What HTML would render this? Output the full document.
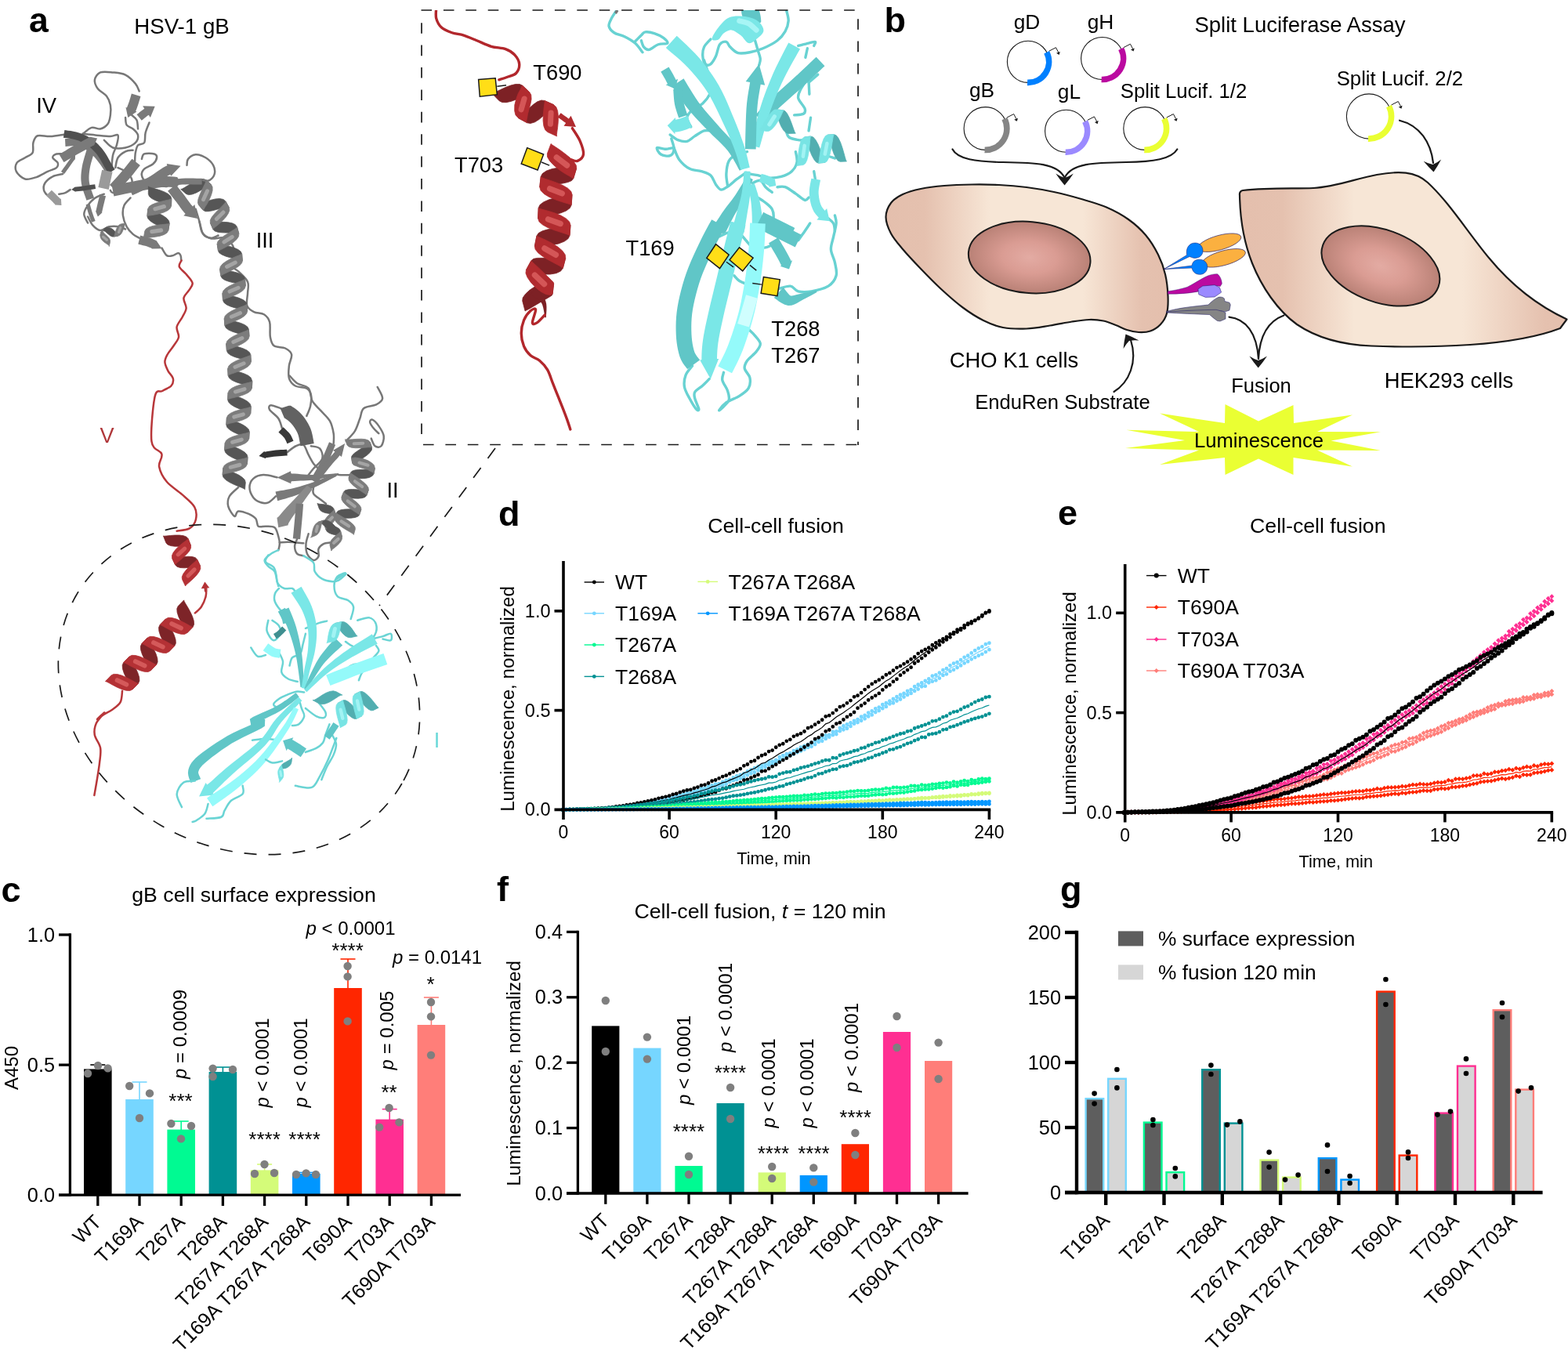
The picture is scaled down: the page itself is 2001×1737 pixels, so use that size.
<!DOCTYPE html>
<html lang="en">
<head>
<meta charset="utf-8">
<title>HSV-1 gB figure</title>
<style>
html,body{margin:0;padding:0;background:#fff;}
body{width:2001px;height:1737px;overflow:hidden;}
svg{display:block;}
svg text{font-family:"Liberation Sans", Arial, Helvetica, sans-serif;fill:#000;}
</style>
</head>
<body>
<svg width="2001" height="1737" viewBox="0 0 2001 1737">
<rect width="2001" height="1737" fill="#fff"/>
<g id="panel-a">
<text x="37" y="40.8" font-size="44.5" font-weight="bold">a</text>
<text x="232" y="42.6" font-size="27.7" text-anchor="middle">HSV-1 gB</text>
<path d="M254.44 282.83C255.1 285.23 255.9 293.63 258.44 297.23C260.97 300.83 265.11 303.37 269.64 304.44C274.18 305.5 281.12 302.17 285.65 303.64C290.19 305.1 294.72 309.5 296.86 313.24C298.99 316.98 298.72 321.78 298.46 326.05C298.19 330.31 294.19 335.38 295.26 338.85C296.32 342.32 301.39 343.39 304.86 346.86C308.33 350.32 314.2 355.13 316.07 359.66C317.93 364.2 316.2 369 316.07 374.07C315.93 379.14 313.93 386.07 315.26 390.08C316.6 394.08 320.47 396.21 324.07 398.08C327.67 399.95 333.54 399.15 336.88 401.28C340.21 403.42 342.74 406.08 344.08 410.89C345.41 415.69 343.95 425.03 344.88 430.1C345.81 435.17 346.48 438.9 349.68 441.3C352.88 443.7 360.35 442.64 364.09 444.5C367.82 446.37 371.29 448.77 372.09 452.51C372.89 456.24 369.42 461.84 368.89 466.91C368.36 471.98 367.56 478.65 368.89 482.92C370.22 487.19 373.16 490.39 376.89 492.53C380.63 494.66 387.97 493.86 391.3 495.73C394.64 497.6 396.1 500 396.9 503.73C397.7 507.47 397.04 513.6 396.1 518.14C395.17 522.67 392.1 528.81 391.3 530.94" fill="none" stroke="#777777" stroke-width="2.5" stroke-linecap="round" stroke-linejoin="round"/>
<path d="M230.73 241.46L232.19 241.25L235.21 239.61L239.49 236.92L244.61 233.76L250.07 230.88L255.32 228.93L259.65 228.41L262.88 229.66L269.55 235.69L267.98 235.75L264.98 237.45L260.69 240.11L255.57 243.26L250.13 246.14L244.9 248.1L240.5 248.61L237.46 247.41ZM253.46 261.43L254.95 261.41L258 259.56L262.7 257.68L268.52 255.42L274.8 253.96L280.3 253.48L284.99 254.48L287.9 256.89L292.29 264.73L290.73 263.98L287.36 264.26L282.52 265.74L276.92 267.24L271.37 268.77L265.94 269.7L262.21 269.8L259.34 268.23ZM268.42 284.41L269.81 284.56L273.28 284.09L278.45 283.51L284.47 283.34L290.79 283.66L296.41 284.85L300.35 286.71L302.45 289.59L304.83 298.26L303.5 297.36L300.06 297.2L295.07 297.07L289.2 297.05L283.05 296.82L277.8 296.16L273.96 294.85L271.94 292.68ZM277.17 311.39L278.53 311.73L282.01 312.2L286.98 313.15L292.96 314.41L298.9 316.24L303.94 318.54L307.33 321.15L308.61 323.93L309.37 332.89L308.12 332.22L304.77 331.4L299.84 330.29L294.06 328.87L288.3 327.17L283.21 325.03L279.83 322.76L278.5 320.28ZM280.58 343.36L281.85 344.14L285.25 344.72L290.31 345.4L296.31 346.44L302.36 348.03L307.47 350.11L311.07 352.81L312.55 355.88L313.32 364.84L312.13 363.85L308.84 362.92L303.85 362.03L298.02 360.84L292.13 359.36L287.02 357.49L283.44 355.13L281.87 352.26ZM283.92 374.26L285.12 375.14L288.44 376.04L293.38 377.13L299.24 378.53L305.1 380.33L310.15 382.58L313.59 385.23L314.96 388.19L315.63 397.16L314.42 396.29L311.08 395.44L306.12 394.38L300.26 392.99L294.37 391.18L289.33 388.9L285.88 386.22L284.53 383.23ZM286.25 406.5L287.46 407.38L290.78 408.25L295.74 409.3L301.6 410.67L307.49 412.46L312.54 414.69L315.99 417.34L317.36 420.29L318.06 429.25L316.84 428.4L313.51 427.54L308.55 426.5L302.69 425.13L296.8 423.34L291.75 421.1L288.29 418.44L286.92 415.47ZM288.72 438.64L289.93 439.51L293.26 440.36L298.24 441.4L304.09 442.8L310 444.65L315.02 446.94L318.48 449.69L319.82 452.73L320.33 461.71L319.15 460.77L315.86 459.8L310.91 458.7L305.09 457.27L299.21 455.44L294.19 453.21L290.76 450.58L289.39 447.6ZM290.74 470.4L291.93 471.28L295.23 472.25L300.16 473.43L305.99 474.97L311.82 476.95L316.78 479.35L320.13 482.05L321.82 486.44L321.42 495.42L320.66 493.14L317.34 492.22L312.41 491.02L306.61 489.46L300.79 487.49L295.82 485.12L292.44 482.36L291.17 479.37ZM291.1 501.14L292.2 502.15L295.4 503.42L300.19 505.07L305.83 507.17L311.46 509.69L316.18 512.56L319.28 515.66L320.25 518.78L319.77 527.76L318.68 526.74L315.5 525.42L310.72 523.75L305.09 521.65L299.47 519.13L294.75 516.29L291.65 513.24L290.66 510.12ZM289.38 533.09L290.46 534.1L293.64 535.42L298.4 537.16L304.01 539.34L309.59 541.95L314.27 544.88L317.32 548.01L318.25 551.15L317.64 560.11L316.57 559.08L313.4 557.74L308.64 556L303.04 553.81L297.47 551.21L292.78 548.28L289.74 545.18L288.8 542.06ZM287.24 565.2L288.32 566.22L291.49 567.55L296.25 569.3L301.86 571.5L307.44 574.13L312.11 577.09L315.15 580.26L316.06 583.4L315.39 592.37L314.32 591.33L311.17 589.94L306.42 588.18L300.84 585.96L295.28 583.35L290.6 580.41L287.56 577.3L286.63 574.17ZM284.88 597.02L285.93 598.06L289.08 599.45L293.8 601.31L299.35 603.63L304.86 606.37L309.47 609.42L312.44 612.61L313.29 615.76L312.48 624.71L311.42 623.66L308.28 622.25L303.57 620.39L298.02 618.07L292.51 615.33L287.9 612.29L284.93 609.11L284.08 605.97Z" fill="#565656" stroke="#565656" stroke-width="0.8" stroke-linejoin="round"/>
<path d="M262.88 229.66L262.83 231.15L261.69 234.36L259.41 238.88L256.93 244.17L254.49 249.82L252.84 254.7L252.49 259.05L253.46 261.43L259.34 268.23L260.13 267.1L261.72 264.05L264.54 259.69L267.27 254.34L269.69 248.5L271.1 243.16L271.07 238.59L269.55 235.69ZM287.9 256.89L287.7 258.56L285.33 261.07L281.87 264.64L277.64 268.73L273.38 273.17L270.07 277.4L268.26 281.14L268.42 284.41L271.94 292.68L272.61 291.35L275.31 289.17L279.32 285.94L283.76 281.88L288.08 277.28L291.31 272.48L292.84 268.4L292.29 264.73ZM302.45 289.59L301.75 291.03L298.88 292.93L294.62 295.58L289.54 298.65L284.52 301.95L280.29 305.48L277.72 308.63L277.17 311.39L278.5 320.28L279.69 319.56L282.88 318.11L287.36 315.74L292.71 312.8L297.89 309.27L302.07 305.41L304.5 301.78L304.83 298.26ZM308.61 323.93L307.43 324.74L304.31 326.19L299.52 328.01L293.96 330.5L288.52 333.51L284.05 336.83L281.26 340.19L280.58 343.36L281.87 352.26L282.87 351.17L285.92 349.58L290.5 347.45L295.88 344.87L301.2 341.99L305.63 339.01L308.56 335.78L309.37 332.89ZM312.55 355.88L311.49 356.94L308.39 358.4L303.68 360.23L298.09 362.46L292.55 365.08L287.89 368.01L284.85 371.14L283.92 374.26L284.53 383.23L285.61 382.21L288.78 380.86L293.55 379.13L299.17 376.92L304.73 374.27L309.41 371.25L312.45 368L313.32 364.84ZM314.96 388.19L313.89 389.23L310.73 390.6L305.99 392.37L300.4 394.6L294.84 397.25L290.18 400.22L287.16 403.36L286.25 406.5L286.92 415.47L287.99 414.43L291.15 413.07L295.89 411.29L301.48 409.06L307.04 406.41L311.7 403.45L314.72 400.3L315.63 397.16ZM317.36 420.29L316.3 421.34L313.14 422.7L308.39 424.49L302.81 426.74L297.27 429.4L292.62 432.39L289.61 435.52L288.72 438.64L289.39 447.6L290.47 446.59L293.63 445.23L298.37 443.44L303.95 441.19L309.5 438.52L314.15 435.54L317.15 432.4L318.06 429.25ZM319.82 452.73L318.73 453.76L315.57 455.09L310.78 456.77L305.16 458.88L299.56 461.39L294.83 464.24L291.73 467.28L290.74 470.4L291.17 479.37L292.26 478.36L295.47 477.11L300.26 475.45L305.91 473.36L311.54 470.83L316.26 467.96L319.36 464.84L320.33 461.71ZM321.82 486.44L320.64 487.45L317.3 488.32L312.38 489.52L306.57 491.07L300.74 493.03L295.77 495.4L292.38 498.14L291.1 501.14L290.66 510.12L291.86 509.23L295.16 508.27L300.09 507.09L305.92 505.56L311.76 503.59L316.73 501.19L320.06 498.54L321.42 495.42ZM320.25 518.78L319.07 519.7L315.77 520.66L310.83 521.79L305.01 523.26L299.15 525.12L294.13 527.42L290.72 530.1L289.38 533.09L288.8 542.06L290 541.18L293.33 540.28L298.27 539.17L304.13 537.73L310.01 535.85L315.02 533.53L318.44 530.79L319.77 527.76ZM318.25 551.15L317.05 552.02L313.73 552.92L308.78 554.01L302.93 555.42L297.05 557.26L292.02 559.54L288.58 562.21L287.24 565.2L286.63 574.17L287.84 573.29L291.16 572.39L296.11 571.3L301.96 569.89L307.83 568.05L312.86 565.78L316.3 563.1L317.64 560.11ZM316.06 583.4L314.85 584.32L311.54 585.22L306.58 586.24L300.73 587.57L294.84 589.29L289.77 591.47L286.28 594.06L284.88 597.02L284.08 605.97L285.3 605.12L288.65 604.31L293.62 603.32L299.51 602.02L305.44 600.27L310.5 598.06L313.99 595.38L315.39 592.37Z" fill="#7c7c7c" stroke="#7c7c7c" stroke-width="0.8" stroke-linejoin="round"/>
<path d="M264.55 243.69L259.51 254.76M284.98 270.96L276.35 279.55M296.25 302.42L285.94 308.84M300.36 335L289.51 340.48M304.2 367.25L293.05 372.1M306.51 399.39L295.37 404.27M308.95 431.51L297.82 436.42M311.16 463.8L299.91 468.42M312.07 496.56L300.42 500.06M310.42 528.82L298.71 532.15M308.3 561.03L296.58 564.28M306.01 593.26L294.23 596.31" fill="none" stroke="#c4c4c4" stroke-width="4.93" stroke-linecap="round" opacity="0.55"/>
<path d="M177.69 116.42C176.88 114.82 175.82 110.29 172.88 106.82C169.95 103.35 164.88 98.01 160.08 95.61C155.27 93.21 149.41 92.94 144.07 92.41C138.73 91.88 131.93 90.81 128.06 92.41C124.19 94.01 121.39 98.55 120.86 102.02C120.32 105.48 122.33 109.75 124.86 113.22C127.39 116.69 133.4 119.36 136.07 122.83C138.73 126.29 140.07 130.03 140.87 134.03C141.67 138.03 141.4 142.83 140.87 146.84C140.33 150.84 139.8 155.11 137.67 158.04C135.53 160.98 131.53 163.64 128.06 164.45C124.59 165.25 120.59 161.78 116.86 162.84C113.12 163.91 107.52 169.51 105.65 170.85" fill="none" stroke="#777777" stroke-width="2.5" stroke-linecap="round" stroke-linejoin="round"/>
<path d="M81.64 171.65C78.7 172.05 69.63 173.78 64.03 174.05C58.43 174.32 51.62 171.92 48.02 173.25C44.42 174.58 43.49 178.45 42.42 182.05C41.35 185.66 43.35 191.66 41.62 194.86C39.89 198.06 35.35 199.13 32.02 201.26C28.68 203.4 23.48 204.73 21.61 207.67C19.74 210.6 19.08 215.4 20.81 218.87C22.54 222.34 27.75 227.28 32.02 228.48C36.28 229.68 41.62 227.68 46.42 226.07C51.22 224.47 56.56 220.87 60.83 218.87C65.1 216.87 69.9 215.94 72.03 214.07C74.17 212.2 74.44 209.8 73.64 207.67C72.83 205.53 67.5 203.13 67.23 201.26C66.97 199.4 69.1 197.26 72.03 196.46C74.97 195.66 80.84 196.46 84.84 196.46C88.84 196.46 94.18 196.46 96.05 196.46" fill="none" stroke="#777777" stroke-width="2.5" stroke-linecap="round" stroke-linejoin="round"/>
<path d="M80.04 222.07C77.9 222.61 70.97 223.41 67.23 225.27C63.5 227.14 59.5 230.34 57.63 233.28C55.76 236.21 55.23 239.95 56.03 242.88C56.83 245.82 60.03 249.02 62.43 250.89C64.83 252.75 69.1 253.55 70.43 254.09" fill="none" stroke="#777777" stroke-width="2.5" stroke-linecap="round" stroke-linejoin="round"/>
<path d="M89.64 242.08C88.58 242.75 85.64 245.15 83.24 246.08C80.84 247.02 76.57 247.42 75.24 247.69" fill="none" stroke="#777777" stroke-width="2.5" stroke-linecap="round" stroke-linejoin="round"/>
<path d="M238.51 210.87C238.78 209.53 238.25 205.13 240.12 202.86C241.98 200.6 245.98 197.53 249.72 197.26C253.45 196.99 258.79 199 262.53 201.26C266.26 203.53 270.26 207.4 272.13 210.87C274 214.34 274.53 218.87 273.73 222.07C272.93 225.27 269.73 228.74 267.33 230.08C264.93 231.41 260.66 230.08 259.32 230.08" fill="none" stroke="#777777" stroke-width="2.5" stroke-linecap="round" stroke-linejoin="round"/>
<path d="M132.86 178.85C134.73 180.45 139.53 186.86 144.07 188.46C148.6 190.06 155.27 189.52 160.08 188.46C164.88 187.39 170.22 184.72 172.88 182.05C175.55 179.39 176.62 175.38 176.08 172.45C175.55 169.51 172.08 166.58 169.68 164.45C167.28 162.31 163.28 162.04 161.68 159.64C160.08 157.24 160.34 151.64 160.08 150.04" fill="none" stroke="#777777" stroke-width="2.5" stroke-linecap="round" stroke-linejoin="round"/>
<path d="M176.08 164.45C175.82 162.58 175.82 156.17 174.48 153.24C173.15 150.31 169.15 147.9 168.08 146.84" fill="none" stroke="#777777" stroke-width="2.5" stroke-linecap="round" stroke-linejoin="round"/>
<path d="M190.49 156.44C189.69 158.58 186.76 164.98 185.69 169.25C184.62 173.52 185.69 179.39 184.09 182.05C182.49 184.72 177.95 183.12 176.08 185.26C174.22 187.39 173.55 191.39 172.88 194.86C172.22 198.33 172.22 204.2 172.08 206.07" fill="none" stroke="#777777" stroke-width="2.5" stroke-linecap="round" stroke-linejoin="round"/>
<path d="M180.89 202.86C181.42 201.8 181.42 197.53 184.09 196.46C186.76 195.39 194.23 195.66 196.89 196.46C199.56 197.26 200.36 199.13 200.1 201.26C199.83 203.4 197.96 206.87 195.29 209.27C192.63 211.67 186.49 213.27 184.09 215.67C181.69 218.07 180.35 220.74 180.89 223.67C181.42 226.61 184.62 231.14 187.29 233.28C189.96 235.41 192.63 235.68 196.89 236.48C201.16 237.28 210.23 237.81 212.9 238.08" fill="none" stroke="#777777" stroke-width="2.5" stroke-linecap="round" stroke-linejoin="round"/>
<path d="M147.27 214.07C147.8 211.93 148.34 204.73 150.47 201.26C152.61 197.79 156.88 194.86 160.08 193.26C163.28 191.66 168.08 191.93 169.68 191.66" fill="none" stroke="#777777" stroke-width="2.5" stroke-linecap="round" stroke-linejoin="round"/>
<path d="M140.87 242.88C141.4 243.42 141.4 245.82 144.07 246.08C146.74 246.35 153.14 245.82 156.88 244.48C160.61 243.15 164.61 240.75 166.48 238.08C168.35 235.41 169.15 231.68 168.08 228.48C167.01 225.27 163.01 221.27 160.08 218.87C157.14 216.47 152.07 214.87 150.47 214.07" fill="none" stroke="#777777" stroke-width="2.5" stroke-linecap="round" stroke-linejoin="round"/>
<path d="M105.65 170.85C108.32 171.12 115.79 171.92 121.66 172.45C127.53 172.98 136.07 174.05 140.87 174.05C145.67 174.05 149.14 170.58 150.47 172.45C151.81 174.32 149.94 180.99 148.87 185.26C147.8 189.52 145.14 193.26 144.07 198.06C143 202.86 142.74 211.4 142.47 214.07" fill="none" stroke="#777777" stroke-width="2.5" stroke-linecap="round" stroke-linejoin="round"/>
<path d="M112.05 276.5C113.12 278.37 115.79 284.77 118.46 287.7C121.12 290.64 124.59 293.84 128.06 294.11C131.53 294.37 135.26 290.11 139.27 289.31C143.27 288.5 148.6 288.77 152.07 289.31C155.54 289.84 158.74 291.97 160.08 292.51" fill="none" stroke="#777777" stroke-width="2.5" stroke-linecap="round" stroke-linejoin="round"/>
<path d="M166.48 252.49C165.15 254.09 160.08 258.36 158.48 262.09C156.88 265.83 156.34 270.36 156.88 274.9C157.41 279.43 159.54 285.3 161.68 289.31C163.81 293.31 167.01 296.51 169.68 298.91C172.35 301.31 176.35 302.91 177.69 303.71" fill="none" stroke="#777777" stroke-width="2.5" stroke-linecap="round" stroke-linejoin="round"/>
<path d="M206.5 316.52C207.57 318.12 210.5 324.52 212.9 326.12C215.3 327.72 218.5 326.66 220.91 326.12C223.31 325.59 225.71 322.92 227.31 322.92C228.91 322.92 229.84 324.52 230.51 326.12C231.18 327.72 231.18 331.46 231.31 332.53" fill="none" stroke="#777777" stroke-width="2.5" stroke-linecap="round" stroke-linejoin="round"/>
<path d="M249.72 266.89C250.52 269.56 252.92 277.57 254.52 282.9C256.12 288.24 256.92 295.44 259.32 298.91C261.73 302.38 265.73 303.45 268.93 303.71C272.13 303.98 276.93 301.04 278.53 300.51" fill="none" stroke="#777777" stroke-width="2.5" stroke-linecap="round" stroke-linejoin="round"/>
<path d="M132.86 247.69C131 248.49 125.13 250.09 121.66 252.49C118.19 254.89 114.45 258.62 112.05 262.09C109.65 265.56 107.25 269.56 107.25 273.3C107.25 277.03 111.25 282.64 112.05 284.5" fill="none" stroke="#777777" stroke-width="2.5" stroke-linecap="round" stroke-linejoin="round"/>
<path d="M167.89 119.48L167.47 120.86L166.93 122.71L166.29 124.88L165.57 127.24L164.79 129.65L163.99 131.97L163.03 134.52L161.91 137.38L160.47 136.79L163.28 150.04L174.55 142.54L173.12 141.95L174.33 138.88L175.38 136.09L176.28 133.48L177.12 130.86L177.88 128.37L178.54 126.14L179.08 124.3L179.48 122.97Z" fill="#7a7a7a"/>
<path d="M180.79 153.81L181.63 153.12L182.74 152.19L184.04 151.11L185.47 149.94L186.99 148.75L188.54 147.6L189.72 146.77L191.88 150.04L197.69 135.63L182.16 135.37L184.32 138.64L182.84 139.67L181.07 140.99L179.38 142.31L177.84 143.56L176.49 144.69L175.39 145.6L174.58 146.27Z" fill="#7a7a7a"/>
<path d="M83.49 186.93L85.71 186.81L88.71 186.57L92.08 186.33L95.54 186.22L98.71 186.35L101.26 186.79L103.5 187.57L105.86 188.68L108.24 190.08L110.62 191.71L112.99 193.51L115.28 195.37L117.45 197.32L119.57 199.49L121.66 201.84L123.68 204.28L125.59 206.71L127.35 208.98L128.94 211.19L130.45 213.53L131.87 215.87L133.14 218.05L134.23 219.95L135.07 221.36L143.47 216.38L142.67 215.04L141.6 213.17L140.26 210.87L138.72 208.33L137 205.69L135.18 203.15L133.29 200.7L131.26 198.13L129.06 195.48L126.71 192.84L124.22 190.28L121.63 187.95L119.03 185.83L116.33 183.78L113.47 181.83L110.42 180.05L107.18 178.52L103.64 177.32L99.71 176.64L95.6 176.46L91.6 176.58L87.97 176.83L85.03 177.07L82.99 177.18Z" fill="#7a7a7a"/>
<path d="M80.91 175.68L82.89 175.98L85.6 176.34L88.7 176.78L91.95 177.31L95.06 177.95L97.77 178.7L100.3 179.61L102.87 180.66L105.39 181.83L107.83 183.11L110.17 184.51L112.39 186.01L114.52 187.65L116.58 189.44L118.58 191.39L120.53 193.45L122.4 195.61L124.17 197.81L125.85 200.15L127.5 202.78L129.12 205.57L130.66 208.37L132.12 211.01L133.45 213.33L134.61 215.27L135.61 216.94L136.48 218.38L137.21 219.6L137.81 220.61L138.28 221.38L146.65 216.36L146.19 215.58L145.59 214.58L144.85 213.36L143.99 211.91L142.99 210.25L141.88 208.4L140.64 206.24L139.21 203.65L137.61 200.76L135.86 197.73L133.96 194.72L131.95 191.91L129.9 189.35L127.77 186.9L125.53 184.53L123.18 182.25L120.71 180.1L118.12 178.1L115.41 176.27L112.6 174.59L109.72 173.08L106.77 171.71L103.79 170.49L100.72 169.4L97.34 168.45L93.73 167.71L90.18 167.12L86.93 166.66L84.26 166.31L82.37 166.02Z" fill="#505050"/>
<path d="M81.43 207.1L83.37 205.95L86.06 204.34L89.24 202.45L92.62 200.44L95.95 198.48L98.96 196.74L101.72 195.18L104.48 193.64L107.21 192.15L109.87 190.7L112.43 189.32L114.84 188.01L117.2 186.73L119.55 185.47L119.74 185.38L119.99 185.86L124.06 176.45L113.99 174.55L114.24 175.03L114.04 175.14L111.65 176.41L109.27 177.7L106.85 179.01L104.28 180.4L101.59 181.86L98.82 183.39L95.99 184.96L93.14 186.57L90.05 188.36L86.66 190.35L83.25 192.38L80.06 194.28L77.37 195.88L75.44 197.03Z" fill="#7a7a7a"/>
<path d="M82.1 221.95L82.98 220.73L84.18 219.04L85.61 217.05L87.14 214.89L88.68 212.74L90.11 210.74L91.53 208.75L93.07 206.59L94.61 204.44L95.32 203.44L95.86 203.83L96.05 198.06L90.65 200.11L91.19 200.49L90.48 201.49L88.94 203.64L87.4 205.79L85.98 207.79L84.55 209.79L83.01 211.94L81.47 214.09L80.05 216.09L78.84 217.78L77.97 219Z" fill="#7a7a7a"/>
<path d="M110.38 191.84L109.73 194.09L108.76 197.25L107.63 201.05L106.47 205.17L105.42 209.33L104.65 213.19L104.13 216.65L103.71 220.01L103.43 223.39L103.33 226.82L103.45 230.35L103.83 234.05L104.64 238.09L105.83 242.34L107.2 246.52L108.55 250.34L109.69 253.5L110.45 255.73L120.06 252.45L119.26 250.11L118.11 246.93L116.81 243.25L115.55 239.39L114.51 235.7L113.87 232.5L113.58 229.65L113.49 226.81L113.57 223.96L113.81 221.05L114.19 218.04L114.65 214.95L115.33 211.57L116.28 207.79L117.38 203.88L118.49 200.18L119.46 197L120.13 194.68Z" fill="#7a7a7a"/>
<path d="M130.18 216.64L125.38 239.05L138.75 241.91L143.55 219.5Z" fill="#9a9a9a"/>
<path d="M168.5 202.72L167.03 204.56L165.02 207.09L162.65 210.07L160.08 213.27L157.48 216.44L155.04 219.35L152.49 222.27L149.64 225.45L146.72 228.65L143.98 231.63L141.65 234.16L139.97 236L149.77 244.96L151.43 243.14L153.76 240.62L156.52 237.61L159.49 234.35L162.43 231.07L165.12 228L167.71 224.91L170.39 221.63L173.02 218.37L175.41 215.35L177.42 212.83L178.87 211.01Z" fill="#7a7a7a"/>
<path d="M121.21 235.19L119.45 235.46L117 235.84L114.11 236.29L111.03 236.75L108 237.2L105.27 237.58L102.64 237.9L99.87 238.22L97.14 238.52L95.71 238.67L95.69 238.4L91.24 242.08L96.35 244.77L96.33 244.5L97.76 244.35L100.52 244.05L103.34 243.72L106.03 243.39L108.83 243L111.89 242.55L115 242.08L117.9 241.63L120.35 241.25L122.1 240.98Z" fill="#505050"/>
<path d="M127.48 248.33L127.13 249.7L126.65 251.58L126.08 253.83L125.46 256.28L124.84 258.79L124.26 261.2L123.68 263.7L123.06 266.46L122.45 269.26L122.41 269.41L121.93 269.3L124.86 276.5L130.53 271.18L130.04 271.08L130.08 270.93L130.69 268.16L131.3 265.43L131.86 262.99L132.43 260.64L133.04 258.18L133.65 255.75L134.22 253.51L134.7 251.62L135.05 250.25Z" fill="#7a7a7a"/>
<path d="M109.61 261.17L109.95 262.38L110.41 264.07L110.96 266.08L111.57 268.25L112.21 270.43L112.84 272.47L113.52 274.52L114.29 276.7L115.07 278.87L115.81 280.87L116.43 282.56L116.87 283.77L121.64 282.03L121.2 280.81L120.57 279.12L119.84 277.13L119.07 274.99L118.32 272.87L117.67 270.92L117.07 268.97L116.45 266.85L115.85 264.71L115.3 262.72L114.84 261.04L114.5 259.81Z" fill="#7a7a7a"/>
<path d="M58.98 249.54L60.06 250.62L61.59 252.15L63.38 253.94L65.26 255.82L67.06 257.61L68.58 259.14L69.91 260.47L70.46 261.02L69.95 261.53L78.44 262.09L77.87 253.6L77.36 254.11L76.81 253.56L75.49 252.24L73.96 250.71L72.17 248.92L70.28 247.03L68.49 245.24L66.96 243.71L65.88 242.63Z" fill="#9a9a9a"/>
<path d="M128.58 296.89L130 295.13L132.13 294.57L134.32 295.39L136.56 297.5L138.74 299.32L140.87 300.93L143.24 302L145.22 302.04L151.07 300.92L150.41 300.36L149.2 299.03L147.71 296.75L145.53 294.08L143.04 292.07L139.59 290.42L135.58 290.34L132.17 292.14Z" fill="#565656" stroke="#565656" stroke-width="0.8" stroke-linejoin="round"/>
<path d="M139.29 314.52L139.06 313.5L137.78 312.22L135.59 310.8L132.95 309L130.39 306.65L128.47 303.7L127.73 300.3L128.58 296.89L132.17 292.14L131.12 293.78L131.42 295.69L132.81 297.64L134.87 299.59L137.12 301.6L139.1 303.78L140.4 306.27L140.53 308.7ZM145.22 302.04L145.89 301.36L146.34 299.62L146.98 297.09L147.89 294.16L149.08 291.18L150.54 288.65L152.34 286.79L154.33 285.9L160.2 284.91L159.6 285.63L158.97 287.3L158.3 289.8L157.38 292.71L156.2 295.67L154.76 298.21L153.11 299.98L151.07 300.92Z" fill="#7c7c7c" stroke="#7c7c7c" stroke-width="0.8" stroke-linejoin="round"/>
<path d="M136.36 306.2L131.6 302.14M151.59 296.38L153.69 290.49" fill="none" stroke="#c4c4c4" stroke-width="3.27" stroke-linecap="round" opacity="0.55"/>
<path d="M145.43 250.38L148.92 249.67L153.74 248.68L159.44 247.51L165.56 246.27L171.67 245.07L177.35 244L182.8 242.98L188.38 241.91L193.89 240.89L199.2 239.98L204.16 239.27L208.57 238.82L212.66 238.68L216.75 238.81L220.69 239.12L224.31 239.5L225.03 239.58L225.07 239.15L230.51 233.28L226.4 226.41L226.44 225.98L225.8 225.91L221.92 225.5L217.48 225.16L212.64 225.01L207.63 225.18L202.48 225.7L197.08 226.48L191.49 227.43L185.85 228.48L180.26 229.54L174.82 230.56L169.08 231.65L162.89 232.87L156.71 234.11L150.99 235.29L146.18 236.28L142.7 236.99Z" fill="#7a7a7a"/>
<path d="M208.67 238.74L211.29 238.35L214.87 237.79L219.08 237.14L223.61 236.5L228.15 235.95L232.36 235.58L236.68 235.4L241.48 235.35L246.37 235.38L250.95 235.46L254.85 235.55L257.67 235.58L257.78 227.77L254.99 227.74L251.1 227.65L246.47 227.57L241.47 227.53L236.49 227.59L231.86 227.78L227.33 228.18L222.59 228.75L217.93 229.41L213.67 230.07L210.1 230.63L207.53 231.02Z" fill="#7a7a7a"/>
<path d="M168.98 249.2L171.78 247.93L175.7 246.19L180.39 244.09L185.42 241.78L190.42 239.37L195.03 236.97L199.29 234.45L203.41 231.75L207.33 229.06L211 226.54L214.35 224.34L217.31 222.63L217.36 222.58L218.12 224.8L230.51 211.67L212.67 208.9L213.43 211.13L211.7 211.91L208 214.04L204.25 216.48L200.47 219.09L196.66 221.7L192.88 224.18L189.16 226.38L185 228.54L180.27 230.82L175.38 233.07L170.77 235.13L166.83 236.88L163.98 238.17Z" fill="#7a7a7a"/>
<path d="M214.07 243.77L215.31 245.36L217.04 247.56L219.07 250.17L221.24 252.95L223.35 255.67L225.22 258.1L226.82 260.25L228.34 262.37L229.88 264.52L231.48 266.72L233.21 268.97L235.12 271.27L236.64 272.92L234.28 275.32L252.12 278.9L248.35 261.09L245.99 263.49L245.11 262.52L243.58 260.68L242.11 258.77L240.65 256.76L239.14 254.64L237.54 252.4L235.8 250.08L233.86 247.55L231.72 244.8L229.54 242L227.5 239.39L225.78 237.18L224.54 235.6Z" fill="#7a7a7a"/>
<path d="M176.29 311.6L177.9 312.01L180.08 312.54L182.59 313.15L185.23 313.85L187.79 314.61L190.04 315.39L192.31 316.37L193.95 317.15L193.79 317.45L206.5 317.32L199.35 306.81L199.19 307.11L197.01 306.06L194.14 304.84L191.26 303.83L188.29 302.94L185.39 302.18L182.76 301.53L180.61 301.01L179.08 300.62Z" fill="#7a7a7a"/>
<path d="M189.43 237.99L190.51 238.8L193.68 239.79L198.45 241.06L204.09 242.73L209.74 244.88L214.49 247.42L217.69 250.36L218.79 253.5L218.52 262.92L217.47 261.99L214.34 260.93L209.57 259.64L203.98 257.94L198.37 255.82L193.6 253.31L190.41 250.44L189.31 247.41ZM188.88 266.41L190.03 267.02L193.08 268.34L197.75 270.1L203.1 272.51L208.44 275.42L212.79 278.59L215.55 281.93L216.19 285.04L214.72 294.35L213.74 293.43L210.78 291.96L206.24 290.02L200.99 287.57L195.7 284.72L191.38 281.75L188.57 278.57L187.88 275.78Z" fill="#565656" stroke="#565656" stroke-width="0.8" stroke-linejoin="round"/>
<path d="M218.79 253.5L217.65 254.22L214.51 255.2L209.69 256.23L204.1 257.64L198.53 259.27L193.57 261.36L190.31 263.57L188.88 266.41L187.88 275.78L189.08 275.15L192.46 274.83L197.32 273.99L203.2 272.82L209.07 270.99L213.94 268.7L217.32 265.86L218.52 262.92ZM216.19 285.04L214.97 285.68L211.67 286.08L206.77 286.56L200.95 287.26L195.04 288.39L189.91 290.08L186.28 292.35L184.71 295.1L183.2 304.41L184.42 303.84L187.72 303.42L192.62 302.96L198.45 302.26L204.36 301.13L209.51 299.42L213.11 297.17L214.72 294.35Z" fill="#7c7c7c" stroke="#7c7c7c" stroke-width="0.8" stroke-linejoin="round"/>
<path d="M209.38 263.61L197.92 266.63M205.57 293.84L193.83 295.67" fill="none" stroke="#c4c4c4" stroke-width="5.17" stroke-linecap="round" opacity="0.55"/>
<path d="M304.03 622.07C302.16 623.94 294.96 629.28 292.83 633.28C290.69 637.28 290.16 641.82 291.22 646.08C292.29 650.35 297.09 657.82 299.23 658.89C301.36 659.96 301.1 653.02 304.03 652.49C306.97 651.95 313.1 654.09 316.84 655.69C320.57 657.29 324.31 659.42 326.44 662.09C328.58 664.76 327.51 670.1 329.64 671.7C331.78 673.3 335.78 671.43 339.25 671.7C342.72 671.96 347.79 671.16 350.45 673.3C353.12 675.43 354.19 681.03 355.26 684.5C356.32 687.97 356.86 691.17 356.86 694.11C356.86 697.04 355.52 700.78 355.26 702.11" fill="none" stroke="#777777" stroke-width="2.5" stroke-linecap="round" stroke-linejoin="round"/>
<path d="M369.66 479.6C371.26 481.21 375.26 486.54 379.27 489.21C383.27 491.88 390.47 491.88 393.67 495.61C396.88 499.35 395.81 506.82 398.48 511.62C401.14 516.42 405.95 520.16 409.68 524.43C413.42 528.69 418.22 532.43 420.89 537.23C423.55 542.03 424.89 548.44 425.69 553.24C426.49 558.04 425.69 563.91 425.69 566.05" fill="none" stroke="#777777" stroke-width="2.5" stroke-linecap="round" stroke-linejoin="round"/>
<path d="M481.72 494.01C482.78 496.41 488.39 504.68 488.12 508.42C487.85 512.15 484.12 514.29 480.12 516.42C476.11 518.56 467.58 518.29 464.11 521.22C460.64 524.16 461.17 529.23 459.31 534.03C457.44 538.83 455.84 545.24 452.9 550.04C449.97 554.84 443.56 560.71 441.7 562.84" fill="none" stroke="#777777" stroke-width="2.5" stroke-linecap="round" stroke-linejoin="round"/>
<path d="M473.71 559.64C474.51 561.24 476.38 567.65 478.51 569.25C480.65 570.85 484.65 571.38 486.52 569.25C488.39 567.11 490.25 560.71 489.72 556.44C489.19 552.17 485.72 547.1 483.32 543.64C480.92 540.17 477.18 536.43 475.31 535.63C473.45 534.83 471.84 536.97 472.11 538.83C472.38 540.7 475.05 544.44 476.91 546.84C478.78 549.24 482.25 552.17 483.32 553.24" fill="none" stroke="#777777" stroke-width="2.5" stroke-linecap="round" stroke-linejoin="round"/>
<path d="M353.65 609.27C350.72 608.73 341.12 605.8 336.05 606.07C330.98 606.33 326.17 608.2 323.24 610.87C320.31 613.54 318.44 618.07 318.44 622.07C318.44 626.07 320.84 631.68 323.24 634.88C325.64 638.08 329.64 640.22 332.84 641.28C336.05 642.35 339.25 642.62 342.45 641.28C345.65 639.95 350.45 634.61 352.05 633.28" fill="none" stroke="#777777" stroke-width="2.5" stroke-linecap="round" stroke-linejoin="round"/>
<path d="M358.46 521.22C356.32 520.56 348.05 516.96 345.65 517.22C343.25 517.49 342.45 520.02 344.05 522.83C345.65 525.63 352.59 530.03 355.26 534.03C357.92 538.03 359.26 544.7 360.06 546.84" fill="none" stroke="#777777" stroke-width="2.5" stroke-linecap="round" stroke-linejoin="round"/>
<path d="M366.46 577.25C368.33 575.92 374.2 570.85 377.67 569.25C381.13 567.65 384.6 565.78 387.27 567.65C389.94 569.51 391.54 576.45 393.67 580.45C395.81 584.45 397.94 588.72 400.08 591.66C402.21 594.59 405.41 596.99 406.48 598.06" fill="none" stroke="#777777" stroke-width="2.5" stroke-linecap="round" stroke-linejoin="round"/>
<path d="M396.88 569.25C398.74 569.78 405.68 569.78 408.08 572.45C410.48 575.12 412.62 580.99 411.28 585.26C409.95 589.52 403.01 594.59 400.08 598.06C397.14 601.53 394.74 604.73 393.67 606.07" fill="none" stroke="#777777" stroke-width="2.5" stroke-linecap="round" stroke-linejoin="round"/>
<path d="M379.27 687.7C378.73 689.31 376.07 694.11 376.07 697.31C376.07 700.51 377.4 704.91 379.27 706.91C381.13 708.91 385.94 708.91 387.27 709.31" fill="none" stroke="#777777" stroke-width="2.5" stroke-linecap="round" stroke-linejoin="round"/>
<path d="M393.67 681.3C393.14 683.44 390.74 689.84 390.47 694.11C390.21 698.38 390.47 703.45 392.07 706.91C393.67 710.38 397.68 714.38 400.08 714.92C402.48 715.45 405.41 712.52 406.48 710.12C407.55 707.71 405.41 703.18 406.48 700.51C407.55 697.84 410.48 695.44 412.88 694.11C415.28 692.77 419.55 692.77 420.89 692.51" fill="none" stroke="#777777" stroke-width="2.5" stroke-linecap="round" stroke-linejoin="round"/>
<path d="M356.86 692.51C358.72 692.37 362.99 691.57 368.06 691.71C373.13 691.84 384.07 693.04 387.27 693.31" fill="none" stroke="#777777" stroke-width="2.5" stroke-linecap="round" stroke-linejoin="round"/>
<path d="M400.08 622.07C400.08 623.41 398.48 627.41 400.08 630.08C401.68 632.74 407.01 635.95 409.68 638.08C412.35 640.22 415.02 642.08 416.08 642.88" fill="none" stroke="#777777" stroke-width="2.5" stroke-linecap="round" stroke-linejoin="round"/>
<path d="M432.09 606.07C434.76 606.07 441.43 606.6 448.1 606.07C454.77 605.53 468.11 603.4 472.11 602.86" fill="none" stroke="#777777" stroke-width="2.5" stroke-linecap="round" stroke-linejoin="round"/>
<path d="M400.71 566L400.35 564.16L399.9 561.48L399.3 558.13L398.53 554.4L397.53 550.52L396.24 546.79L394.7 543.4L393.01 540.24L391.17 537.2L389.22 534.3L387.18 531.58L385.04 529L382.69 526.53L380.2 524.3L377.73 522.33L375.37 520.62L373.19 519.13L371.12 517.77L370.01 517.18L370.02 517.16L357.66 521.22L362.75 533.2L362.76 533.19L361.8 532.68L363.42 533.74L365.26 534.99L367.09 536.32L368.85 537.72L370.45 539.15L371.89 540.67L373.36 542.44L374.89 544.49L376.37 546.67L377.74 548.93L378.94 551.2L379.91 553.29L380.69 555.56L381.41 558.36L382.04 561.46L382.59 564.5L383.05 567.25L383.44 569.29Z" fill="#626262"/>
<path d="M366.22 573.67L364.33 573.79L361.71 573.93L358.56 574.11L355.14 574.34L351.67 574.62L348.37 574.98L345.02 575.45L341.43 576.05L337.84 576.69L337.59 576.74L337.42 575.86L330.44 582.05L339.2 585.3L339.03 584.42L339.25 584.37L342.76 583.74L346.21 583.17L349.33 582.73L352.4 582.4L355.72 582.13L359.05 581.91L362.14 581.73L364.78 581.59L366.7 581.47Z" fill="#333333"/>
<path d="M355.43 551.62L356.38 552.52L357.69 553.73L359.18 555.12L360.68 556.57L362 557.95L362.95 559.08L363.64 560.13L364.32 561.39L364.95 562.75L365.53 564.08L366.03 565.31L366.45 566.24L374.47 562.65L374.11 561.84L373.62 560.66L372.97 559.14L372.16 557.42L371.17 555.61L369.98 553.81L368.53 552.08L366.91 550.38L365.24 548.76L363.67 547.29L362.37 546.1L361.48 545.25Z" fill="#3a3a3a"/>
<path d="M431.93 604.06L428.32 604.33L423.26 604.72L417.3 605.17L411.03 605.6L405.02 605.93L399.84 606.08L395.48 606.02L391.42 605.82L387.55 605.53L383.77 605.19L379.95 604.86L376.06 604.59L371.92 604.38L371.17 603.26L371.14 601.31L353.65 609.59L371.38 617.32L371.35 615.37L372.03 614.23L376.07 613.94L379.81 613.73L383.54 613.6L387.39 613.47L391.42 613.28L395.71 612.97L400.31 612.45L405.62 611.64L411.65 610.56L417.87 609.36L423.74 608.18L428.71 607.17L432.25 606.46Z" fill="#7a7a7a"/>
<path d="M428.14 604.41L424.87 605.68L420.31 607.48L414.93 609.59L409.23 611.79L403.67 613.89L398.75 615.67L394.41 617.16L390.27 618.55L386.28 619.82L382.39 621L378.53 622.08L374.69 623.07L370.58 624L366.16 624.86L361.73 625.65L357.6 626.35L354.08 626.93L351.51 627.38L354.2 639.18L356.66 638.48L360.08 637.54L364.19 636.4L368.65 635.11L373.18 633.72L377.44 632.28L381.4 630.8L385.28 629.26L389.16 627.63L393.11 625.9L397.16 624.05L401.4 622.07L406.2 619.75L411.56 617.06L417.04 614.25L422.18 611.59L426.53 609.33L429.64 607.72Z" fill="#7a7a7a"/>
<path d="M403.86 616.3L405.27 613.91L407.23 610.63L409.57 606.69L412.08 602.37L414.56 597.93L416.81 593.62L418.96 589.12L421.18 584.18L423.33 579.17L425.29 574.51L426.94 570.57L428.13 567.77L420.04 564.33L418.84 567.16L417.19 571.1L415.24 575.73L413.13 580.64L410.98 585.44L408.95 589.69L406.83 593.75L404.44 598.02L401.99 602.24L399.68 606.13L397.71 609.42L396.29 611.84Z" fill="#7a7a7a"/>
<path d="M404.76 616.47L406.75 613.92L409.56 610.3L412.86 606.07L416.31 601.66L419.57 597.53L422.31 594.13L424.51 591.51L426.47 589.28L428.28 587.28L430.02 585.38L431.75 583.43L433.52 581.32L433.62 581.19L435.94 582.93L440.1 566.05L425.05 574.77L427.37 576.51L427.46 576.39L425.83 578.32L424.21 580.15L422.5 582.03L420.64 584.08L418.58 586.43L416.27 589.18L413.46 592.66L410.17 596.83L406.7 601.26L403.4 605.5L400.59 609.12L398.6 611.67Z" fill="#7a7a7a"/>
<path d="M392.06 619.45L390.37 621.26L388.04 623.77L385.27 626.75L382.28 629.95L379.3 633.16L376.54 636.13L373.93 638.9L371.27 641.71L368.59 644.54L365.93 647.37L363.33 650.21L360.85 653.02L358.38 655.96L355.91 659.01L353.81 660.69L353.4 660.4L355.26 673.3L367.94 670.33L367.53 670.04L368.24 667.66L370.18 664.51L372.08 661.56L374.02 658.69L376.13 655.7L378.34 652.64L380.63 649.51L382.93 646.37L385.2 643.24L387.57 639.93L390.12 636.37L392.67 632.81L395.04 629.5L397.04 626.72L398.49 624.7Z" fill="#8a8a8a"/>
<path d="M377.8 642.5L377.63 644.52L377.41 647.25L377.15 650.5L376.85 654.11L376.53 657.9L376.2 661.68L375.82 665.86L375.37 670.67L374.9 675.66L374.45 680.38L374.07 684.4L373.8 687.26L383.13 688.15L383.4 685.29L383.78 681.27L384.23 676.54L384.7 671.54L385.15 666.72L385.54 662.51L385.87 658.7L386.19 654.89L386.49 651.27L386.75 648L386.98 645.28L387.14 643.27Z" fill="#7a7a7a"/>
<path d="M472.17 564.16L471.58 565.53L468.88 567.35L464.78 569.87L460.13 572.91L455.31 576.16L451.49 578.99L448.98 582.04L448.53 583.81L449.7 591.16L451.03 591L453.86 589.4L458.43 587.4L463.33 584.48L468.27 581L472.07 577.53L474.33 574.3L474.55 571.21ZM478.34 597.58L477.11 598.16L473.98 599.11L469.15 599.11L463.65 599.28L457.83 599.48L452.94 599.96L449.21 601.27L447.49 603.12L445.02 610.14L446.32 610L449.58 610.09L454.5 610.65L460.22 610.79L466.31 610.42L471.38 609.46L475.37 607.18L476.94 604.89ZM470.29 625.15L468.99 625.74L465.73 625.59L460.97 625.27L455.34 624.78L449.53 624.5L444.45 624.76L440.65 625.85L438.7 627.78L435.93 634.69L437.25 634.39L440.5 634.67L445.31 635.36L450.99 635.96L456.89 636.19L462.18 635.65L465.93 634.41L467.91 632.2ZM460.87 650.09L459.58 650.33L456.32 650.29L451.48 649.97L445.77 649.82L439.91 650.03L434.82 650.79L431.1 652.29L429.34 654.43L427.28 661.58L428.56 661.12L431.81 661.03L436.62 661.21L442.3 661.31L448.12 661.13L453.15 660.48L456.85 659.1L458.56 657.17Z" fill="#565656" stroke="#565656" stroke-width="0.8" stroke-linejoin="round"/>
<path d="M440.46 560.69L441.72 561.11L444.98 561.11L449.76 560.77L455.46 560.33L461.3 560.23L466.44 560.71L470.3 562.1L472.17 564.16L474.55 571.21L473.25 570.81L469.99 570.77L465.19 571.22L459.5 571.64L453.68 571.75L448.46 571.2L444.64 569.82L442.82 567.75ZM448.53 583.81L449.75 584.42L453.33 583.92L458.08 584.76L464.26 585.85L469.71 587.85L474.69 591.1L477.5 593.87L478.34 597.58L476.94 604.89L476.41 602.99L473.43 601.7L469.39 599.5L463.94 597.85L458.92 596.39L454.1 594.56L451.2 593.5L449.7 591.16ZM447.49 603.12L448.25 604.24L450.92 606.11L454.92 608.79L459.56 612.05L464.12 615.54L467.86 619.09L470.05 622.38L470.29 625.15L467.91 632.2L467.11 631.09L464.44 629.2L460.38 626.58L455.6 623.38L450.99 619.77L447.33 616.15L445.2 612.91L445.02 610.14ZM438.7 627.78L439.39 628.97L441.94 631L445.79 633.85L450.31 637.2L454.84 640.84L458.46 644.28L460.62 647.58L460.87 650.09L458.56 657.17L457.61 656.27L454.97 654.36L450.81 651.78L446.16 648.47L441.59 644.73L438.01 640.91L436 637.52L435.93 634.69ZM429.34 654.43L430.15 655.55L432.9 657.3L437.06 659.73L441.96 662.67L446.76 665.95L450.67 669.32L453.02 672.52L453.37 675.27L451.33 682.43L450.5 681.36L447.76 679.59L443.6 677.17L438.69 674.23L433.89 670.95L429.98 667.56L427.63 664.39L427.28 661.58Z" fill="#7c7c7c" stroke="#7c7c7c" stroke-width="0.8" stroke-linejoin="round"/>
<path d="M451.72 566.26L463.25 565.72M458.5 590.57L469.55 593.68M452.95 614.28L462.25 621.06M443.69 639.29L452.83 646.31M435.47 665.34L445.18 671.56" fill="none" stroke="#c4c4c4" stroke-width="4.08" stroke-linecap="round" opacity="0.55"/>
<path d="M404.95 642.23L405.87 642.88L408.01 643.25L411.12 643.52L414.84 643.92L418.67 644.65L422.12 645.87L424.76 647.65L426.28 649.98L428.64 657.04L427.72 656.35L425.59 655.95L422.47 655.68L418.78 655.26L414.96 654.53L411.52 653.32L408.87 651.56L407.37 649.27ZM413.86 668.6L414.74 669.29L416.88 669.73L419.97 670.22L423.66 670.89L427.42 671.91L430.78 673.4L433.26 675.35L434.57 677.75L436.43 684.95L435.56 684.25L433.45 683.73L430.38 683.19L426.72 682.5L422.99 681.48L419.64 680.03L417.19 678.15L415.84 675.78Z" fill="#565656" stroke="#565656" stroke-width="0.8" stroke-linejoin="round"/>
<path d="M426.28 649.98L425.93 651.05L424.5 652.67L422.24 654.78L419.51 657.32L416.93 660.13L414.85 663.12L413.76 665.97L413.86 668.6L415.84 675.78L416.3 674.8L417.93 673.34L420.29 671.29L423.11 668.77L425.74 665.9L427.8 662.81L428.84 659.76L428.64 657.04ZM434.57 677.75L434.16 678.81L432.56 680.28L430.12 682.23L427.25 684.62L424.47 687.34L422.25 690.25L421.03 693.16L421.04 695.89L422.89 703.1L423.31 702.07L424.9 700.58L427.34 698.63L430.21 696.25L433 693.53L435.21 690.62L436.44 687.71L436.43 684.95Z" fill="#7c7c7c" stroke="#7c7c7c" stroke-width="0.8" stroke-linejoin="round"/>
<path d="M423.99 660.34L418.61 665.71M431.56 687.88L425.91 692.99" fill="none" stroke="#c4c4c4" stroke-width="4.08" stroke-linecap="round" opacity="0.55"/>
<path d="M406.13 666.36L407.6 666.33L409.42 667.3L411.55 669.06L413.97 671.25L416.59 673.39L419.43 675.19L422.35 676.22L425.29 676.24L432.1 674.88L430.78 674.62L429.21 673.32L427.27 671.29L424.91 668.82L422.13 666.52L419.05 664.75L415.82 663.88L412.72 664.16Z" fill="#565656" stroke="#565656" stroke-width="0.8" stroke-linejoin="round"/>
<path d="M396.45 686.09L397.36 685.13L397.97 683.18L398.45 680.41L399.07 677.12L400.02 673.69L401.48 670.52L403.52 667.98L406.13 666.36L412.72 664.16L411.58 665.05L410.77 666.94L410.12 669.64L409.43 672.85L408.49 676.2L407.14 679.29L405.26 681.79L402.86 683.4Z" fill="#7c7c7c" stroke="#7c7c7c" stroke-width="0.8" stroke-linejoin="round"/>
<path d="M403.47 678.3L405.07 671.67" fill="none" stroke="#c4c4c4" stroke-width="3.81" stroke-linecap="round" opacity="0.55"/>
<path d="M231.54 332.45C231.09 333.78 227.81 337.52 228.82 340.45C229.84 343.39 234.83 346.59 237.63 350.06C240.43 353.53 245.1 357.79 245.63 361.26C246.17 364.73 242.7 367.67 240.83 370.87C238.96 374.07 234.96 376.74 234.43 380.47C233.89 384.21 237.89 389.28 237.63 393.28C237.36 397.28 234.83 400.48 232.83 404.48C230.82 408.49 226.42 413.02 225.62 417.29C224.82 421.56 228.69 426.09 228.02 430.1C227.36 434.1 224.02 437.57 221.62 441.3C219.22 445.04 215.48 449.04 213.62 452.51C211.75 455.98 210.28 458.64 210.41 462.11C210.55 465.58 212.68 469.85 214.42 473.32C216.15 476.79 220.15 479.72 220.82 482.92C221.49 486.12 220.69 489.86 218.42 492.53C216.15 495.19 210.68 496.66 207.21 498.93C203.74 501.2 199.91 495.42 197.61 506.13C195.31 516.85 191.97 551.02 193.42 563.22C194.88 575.43 204.71 573.97 206.32 579.34C207.93 584.72 202.02 589.55 203.09 595.46C204.17 601.37 207.93 608.89 212.77 614.8C217.6 620.71 226.2 625.55 232.11 630.92C238.02 636.29 245.27 641.67 248.23 647.04C251.18 652.41 250.91 658.59 249.84 663.16C248.76 667.73 245.81 672.02 241.78 674.44C237.75 676.86 228.35 677.13 225.66 677.67" fill="none" stroke="#b8373a" stroke-width="2.5" stroke-linecap="round" stroke-linejoin="round"/>
<path d="M208.44 683.93L209.72 684.22L212.9 683.95L217.61 683.47L223.23 683.07L228.98 683.06L234.1 683.7L237.96 685.19L240 687.49L243.49 696.24L242.22 696.02L239.04 696.28L234.32 696.83L228.69 697.26L222.91 697.25L217.75 696.57L213.92 695.07L211.86 692.72ZM219.72 712.39L221.01 712.63L224.16 712.26L228.82 711.44L234.37 710.66L240.14 710.23L245.3 710.49L249.26 711.7L251.49 713.89L255.57 722.39L254.28 722.2L251.13 722.69L246.46 723.57L240.89 724.4L235.09 724.82L229.89 724.5L225.87 723.2L223.66 720.95Z" fill="#7d2428" stroke="#7d2428" stroke-width="0.8" stroke-linejoin="round"/>
<path d="M240 687.49L239.2 688.51L236.72 690.52L232.88 693.37L228.54 696.97L224.33 701.06L221.1 705.3L219.46 709.1L219.72 712.39L223.66 720.95L224.22 719.72L226.63 717.63L230.21 714.61L234.42 710.99L238.59 706.98L241.83 703.03L243.6 699.29L243.49 696.24ZM251.49 713.89L250.85 715.03L248.48 717.18L244.9 720.28L240.76 724.1L236.81 728.31L233.77 732.53L232.24 736.36L232.55 739.5L236.63 748L237.28 746.85L239.64 744.7L243.23 741.61L247.37 737.79L251.32 733.58L254.35 729.35L255.89 725.52L255.57 722.39Z" fill="#b43135" stroke="#b43135" stroke-width="0.8" stroke-linejoin="round"/>
<path d="M235.73 700.18L227.27 707.83M248.11 726.93L240.02 734.96" fill="none" stroke="#ee7a78" stroke-width="5.17" stroke-linecap="round" opacity="0.55"/>
<path d="M264.24 755.03L264.17 754.54L264.07 753.89L263.96 753.13L263.84 752.26L263.72 751.31L263.64 750.62L267.31 750.32L261.38 742.45L256.78 751.17L260.45 750.88L260.54 751.68L260.67 752.68L260.79 753.58L260.91 754.36L261 755L261.07 755.48Z" fill="#b43135"/>
<path d="M263.3 750.45C263.16 752.32 263.56 757.66 262.5 761.66C261.43 765.66 259.16 771 256.89 774.46C254.63 777.93 250.22 781.13 248.89 782.47" fill="none" stroke="#b8373a" stroke-width="2.5" stroke-linecap="round" stroke-linejoin="round"/>
<path d="M234.7 765.89L235 767.33L236.79 770.48L239.57 775.08L242.69 780.66L245.47 786.59L247.26 792.22L247.56 796.89L246.12 800.15L238.67 807.85L238.37 806.41L236.58 803.26L233.8 798.66L230.68 793.09L227.9 787.15L226.11 781.53L225.81 776.85L227.25 773.6ZM211.49 789.9L211.79 791.34L213.58 794.49L216.35 799.09L219.48 804.67L222.26 810.61L224.05 816.23L224.35 820.91L222.91 824.16L215.46 831.86L215.16 830.42L213.37 827.27L210.59 822.68L207.47 817.1L204.69 811.16L202.9 805.54L202.59 800.86L204.04 797.61ZM188.28 813.91L188.58 815.36L190.36 818.5L193.14 823.1L196.27 828.68L199.05 834.62L200.84 840.24L201.14 844.92L199.69 848.17L192.24 855.88L191.95 854.43L190.16 851.29L187.38 846.69L184.25 841.11L181.47 835.17L179.69 829.55L179.38 824.87L180.83 821.62ZM165.07 837.92L165.37 839.37L167.15 842.51L169.93 847.11L173.06 852.69L175.84 858.63L177.63 864.25L177.93 868.93L176.48 872.18L169.03 879.89L168.73 878.44L166.95 875.3L164.17 870.7L161.04 865.12L158.26 859.18L156.48 853.56L156.17 848.88L157.62 845.63Z" fill="#7d2428" stroke="#7d2428" stroke-width="0.8" stroke-linejoin="round"/>
<path d="M246.12 800.15L244.66 799.9L241.46 798.22L236.77 795.6L231.09 792.66L225.06 790.08L219.38 788.49L214.69 788.34L211.49 789.9L204.04 797.61L205.5 797.86L208.7 799.53L213.39 802.15L219.07 805.09L225.1 807.67L230.78 809.27L235.47 809.41L238.67 807.85ZM222.91 824.16L221.45 823.91L218.25 822.23L213.56 819.61L207.88 816.67L201.85 814.1L196.17 812.5L191.48 812.35L188.28 813.91L180.83 821.62L182.28 821.87L185.49 823.55L190.18 826.17L195.86 829.1L201.89 831.68L207.57 833.28L212.25 833.42L215.46 831.86ZM199.69 848.17L198.24 847.92L195.04 846.24L190.35 843.62L184.66 840.68L178.64 838.11L172.96 836.51L168.27 836.37L165.07 837.92L157.62 845.63L159.07 845.88L162.28 847.56L166.97 850.18L172.65 853.11L178.68 855.69L184.36 857.29L189.04 857.43L192.24 855.88ZM176.48 872.18L175.03 871.93L171.82 870.25L167.14 867.63L161.45 864.7L155.42 862.12L149.75 860.52L145.06 860.38L141.86 861.93L134.41 869.64L135.86 869.89L139.07 871.57L143.76 874.19L149.44 877.13L155.47 879.7L161.15 881.3L165.83 881.44L169.03 879.89Z" fill="#b43135" stroke="#b43135" stroke-width="0.8" stroke-linejoin="round"/>
<path d="M230.93 801.63L219.22 796.12M207.72 825.64L196.01 820.13M184.51 849.66L172.8 844.14M161.3 873.67L149.59 868.15" fill="none" stroke="#ee7a78" stroke-width="5.88" stroke-linecap="round" opacity="0.55"/>
<path d="M156.05 881.72C155.65 884.12 155.78 892.12 153.64 896.12C151.51 900.12 146.84 903.06 143.24 905.73C139.64 908.4 135.24 910.08 132.03 912.13C128.83 914.18 123.81 918.5 124.03 918.05C124.25 917.61 133.55 908.61 133.35 909.45C133.15 910.29 124.95 918.37 122.85 923.09C120.76 927.81 119.88 932.54 120.76 937.78C121.63 943.03 127.05 948.63 128.1 954.58C129.15 960.52 127.75 966.82 127.05 973.47C126.35 980.11 125.02 987.53 123.9 994.46C122.78 1001.39 120.93 1011.6 120.34 1015.03" fill="none" stroke="#b8373a" stroke-width="2.5" stroke-linecap="round" stroke-linejoin="round"/>
<path d="M355.26 702.11C353.65 702.91 348.59 704.78 345.65 706.91C342.72 709.05 338.18 712.25 337.65 714.92C337.11 717.59 340.31 720.52 342.45 722.92C344.58 725.32 348.59 726.12 350.45 729.32C352.32 732.53 352.85 739.01 353.65 742.13C354.45 745.25 354.99 747.07 355.26 748.05" fill="none" stroke="#6ad4d4" stroke-width="2.5" stroke-linecap="round" stroke-linejoin="round"/>
<path d="M387.27 709.31C389.41 710.78 397.68 714.78 400.08 718.12C402.48 721.45 399.81 725.86 401.68 729.32C403.55 732.79 407.55 736.79 411.28 738.93C415.02 741.06 420.62 741.86 424.09 742.13C427.56 742.4 429.16 742.13 432.09 740.53C435.03 738.93 440.1 733.86 441.7 732.53" fill="none" stroke="#6ad4d4" stroke-width="2.5" stroke-linecap="round" stroke-linejoin="round"/>
<path d="M342.34 708.5C341.78 709.91 337.81 714.44 338.95 716.99C340.08 719.54 346.88 720.96 349.14 723.79C351.41 726.62 351.69 730.59 352.54 733.98C353.39 737.38 352.54 741.35 354.24 744.18C355.94 747.01 359.62 749.84 362.74 750.98C365.85 752.11 370.67 750.41 372.93 750.98C375.2 751.54 375.76 753.81 376.33 754.38" fill="none" stroke="#6ad4d4" stroke-width="2.5" stroke-linecap="round" stroke-linejoin="round"/>
<path d="M355.94 750.98C355.09 752.11 351.69 754.94 350.84 757.77C349.99 760.61 349.43 764.29 350.84 767.97C352.26 771.65 356.51 777.88 359.34 779.86C362.17 781.85 366.42 779.86 367.83 779.86" fill="none" stroke="#6ad4d4" stroke-width="2.5" stroke-linecap="round" stroke-linejoin="round"/>
<path d="M429.01 739.08C430.99 737.81 440.62 732 440.9 731.44C441.18 730.87 433.11 732.99 430.71 735.68C428.3 738.37 426.46 743.33 426.46 747.58C426.46 751.83 427.73 758.06 430.71 761.17C433.68 764.29 440.9 764 444.3 766.27C447.7 768.54 450.53 770.8 451.1 774.77C451.66 778.73 448.26 787.51 447.7 790.06" fill="none" stroke="#6ad4d4" stroke-width="2.5" stroke-linecap="round" stroke-linejoin="round"/>
<path d="M342.34 791.76C342.06 794.02 339.51 801.1 340.65 805.35C341.78 809.6 346.31 816.68 349.14 817.25C351.97 817.81 356.51 811.87 357.64 808.75C358.77 805.64 357.64 801.39 355.94 798.56C354.24 795.72 348.86 792.89 347.44 791.76" fill="none" stroke="#6ad4d4" stroke-width="2.5" stroke-linecap="round" stroke-linejoin="round"/>
<path d="M320.25 826.59C321.67 828.43 325.64 836.08 328.75 837.64C331.87 839.2 337.25 836.22 338.95 835.94" fill="none" stroke="#6ad4d4" stroke-width="2.5" stroke-linecap="round" stroke-linejoin="round"/>
<path d="M355.94 832.54C356.79 834.52 360.47 840.19 361.04 844.44C361.6 848.68 358.2 854.35 359.34 858.03C360.47 861.71 364.44 864.54 367.83 866.53C371.23 868.51 377.75 869.36 379.73 869.92" fill="none" stroke="#6ad4d4" stroke-width="2.5" stroke-linecap="round" stroke-linejoin="round"/>
<path d="M389.92 801.95C392.76 800.82 402.38 796.71 406.92 795.16C411.45 793.6 415.41 793.03 417.11 792.61" fill="none" stroke="#6ad4d4" stroke-width="2.5" stroke-linecap="round" stroke-linejoin="round"/>
<path d="M369.53 849.53C370.1 847.83 370.67 841.89 372.93 839.34C375.2 836.79 380.86 837.07 383.13 834.24C385.39 831.41 385.39 826.59 386.53 822.34C387.66 818.1 389.36 811.02 389.92 808.75" fill="none" stroke="#6ad4d4" stroke-width="2.5" stroke-linecap="round" stroke-linejoin="round"/>
<path d="M474.89 815.55C477.15 814.98 484.51 813.28 488.48 812.15C492.44 811.02 496.98 807.9 498.67 808.75C500.37 809.6 500.37 816.11 498.67 817.25C496.98 818.38 490.18 815.83 488.48 815.55" fill="none" stroke="#6ad4d4" stroke-width="2.5" stroke-linecap="round" stroke-linejoin="round"/>
<path d="M456.19 791.76C458.74 791.19 467.52 787.51 471.49 788.36C475.45 789.21 478.85 793.17 479.98 796.86C481.12 800.54 480.55 806.2 478.28 810.45C476.02 814.7 470.64 819.8 466.39 822.34C462.14 824.89 457.04 826.31 452.8 825.74C448.55 825.18 442.88 820.08 440.9 818.95" fill="none" stroke="#6ad4d4" stroke-width="2.5" stroke-linecap="round" stroke-linejoin="round"/>
<path d="M479.98 824.04C480.55 825.18 483.95 828.29 483.38 830.84C482.82 833.39 477.72 837.92 476.58 839.34" fill="none" stroke="#6ad4d4" stroke-width="2.5" stroke-linecap="round" stroke-linejoin="round"/>
<path d="M388.22 883.52C386.53 883.38 381.71 882.1 378.03 882.67C374.35 883.23 369.82 885.36 366.13 886.92C362.45 888.47 358.77 890.03 355.94 892.01C353.11 894 349.43 897.11 349.14 898.81C348.86 900.51 351.69 902.78 354.24 902.21C356.79 901.64 362.74 896.54 364.44 895.41" fill="none" stroke="#6ad4d4" stroke-width="2.5" stroke-linecap="round" stroke-linejoin="round"/>
<path d="M381.43 892.01C381.99 894 383.69 900.23 384.83 903.91C385.96 907.59 388.79 910.71 388.22 914.1C387.66 917.5 383.98 922.32 381.43 924.3C378.88 926.28 374.35 925.72 372.93 926" fill="none" stroke="#6ad4d4" stroke-width="2.5" stroke-linecap="round" stroke-linejoin="round"/>
<path d="M406.92 897.11C408.33 899.09 414.28 905.89 415.41 909.01C416.54 912.12 415.7 914.95 413.71 915.8C411.73 916.65 407.48 916.09 403.52 914.1C399.55 912.12 392.19 905.61 389.92 903.91" fill="none" stroke="#6ad4d4" stroke-width="2.5" stroke-linecap="round" stroke-linejoin="round"/>
<path d="M389.92 959.98C392.19 959.13 399.84 956.87 403.52 954.89C407.2 952.9 410.03 950.92 412.01 948.09C414 945.26 414 941.86 415.41 937.89C416.83 933.93 419.66 926.56 420.51 924.3" fill="none" stroke="#6ad4d4" stroke-width="2.5" stroke-linecap="round" stroke-linejoin="round"/>
<path d="M423.91 937.89C424.76 939.88 428.72 945.54 429.01 949.79C429.29 954.04 427.59 958.57 425.61 963.38C423.63 968.2 419.66 973.38 417.11 978.67C414.56 983.97 411.45 992.41 410.31 995.16" fill="none" stroke="#6ad4d4" stroke-width="2.5" stroke-linecap="round" stroke-linejoin="round"/>
<path d="M321.95 944.69C324.79 944.41 333.28 942.99 338.95 942.99C344.61 942.99 353.11 944.41 355.94 944.69" fill="none" stroke="#6ad4d4" stroke-width="2.5" stroke-linecap="round" stroke-linejoin="round"/>
<path d="M440.9 856.33C442.03 855.2 444.87 850.95 447.7 849.53C450.53 848.12 455.06 847.27 457.89 847.83C460.73 848.4 463.56 852.08 464.69 852.93" fill="none" stroke="#6ad4d4" stroke-width="2.5" stroke-linecap="round" stroke-linejoin="round"/>
<path d="M457.89 868.22C458.46 866.81 459.88 862.28 461.29 859.73C462.71 857.18 465.54 854.06 466.39 852.93" fill="none" stroke="#6ad4d4" stroke-width="2.5" stroke-linecap="round" stroke-linejoin="round"/>
<path d="M356.99 780.79L358.24 783.27L359.96 786.54L361.94 790.37L364.05 794.62L366.09 799.08L367.93 803.63L369.64 808.41L371.38 813.58L373.09 819.03L374.72 824.71L376.24 830.57L377.61 836.57L378.88 843.27L380.06 850.88L381.14 858.72L382.09 866.12L382.88 872.41L383.47 876.92L387.88 876.52L387.65 872L387.37 865.67L387.02 858.18L386.57 850.2L385.99 842.35L385.24 835.31L384.31 828.95L383.23 822.75L382.02 816.74L380.71 810.97L379.35 805.49L377.94 800.28L376.34 795.17L374.52 790.16L372.66 785.5L370.93 781.37L369.49 778L368.48 775.54Z" fill="#60c6c7"/>
<path d="M371.49 756.64L373.18 759.21L375.54 762.68L378.25 766.7L381.01 770.98L383.54 775.2L385.55 779.08L387.19 782.82L388.7 786.68L390.03 790.59L391.17 794.54L392.11 798.54L392.84 802.57L393.35 806.67L393.62 810.9L393.7 815.23L393.6 819.64L393.37 824.1L393.03 828.53L392.52 832.95L391.78 837.49L390.88 842.11L389.92 846.72L388.98 851.25L388.17 855.59L387.47 859.91L386.78 864.28L386.14 868.51L385.57 872.35L385.1 875.57L384.74 877.92L390 878.92L390.54 876.59L391.25 873.41L392.11 869.64L393.06 865.49L394.07 861.22L395.07 857.07L396.17 852.94L397.42 848.57L398.74 844L400.03 839.3L401.19 834.51L402.11 829.76L402.82 825.08L403.43 820.39L403.89 815.65L404.16 810.88L404.21 806.1L404 801.34L403.51 796.64L402.78 792L401.82 787.4L400.65 782.86L399.28 778.37L397.69 773.85L395.65 769.06L393.17 764.08L390.55 759.26L388.07 754.88L385.99 751.28L384.57 748.71Z" fill="#7ae7e7"/>
<path d="M427.61 814.37L425.49 816.89L422.46 820.4L418.86 824.61L415.06 829.18L411.4 833.78L408.25 838.11L405.61 842.23L403.24 846.34L401.1 850.4L399.14 854.34L397.34 858.08L395.65 861.6L394.02 865.08L392.49 868.59L391.09 871.92L389.88 874.92L388.88 877.42L388.13 879.25L391.71 880.98L392.69 879.24L393.99 876.88L395.55 874.08L397.31 871.01L399.2 867.82L401.19 864.65L403.28 861.4L405.5 857.94L407.85 854.4L410.34 850.83L412.98 847.33L415.78 843.96L419.11 840.42L423.06 836.53L427.25 832.61L431.27 828.95L434.72 825.81L437.2 823.53Z" fill="#60c6c7"/>
<path d="M474.78 809.33L471.35 811.47L466.58 814.42L460.9 817.94L454.78 821.81L448.67 825.79L443.06 829.64L437.88 833.37L432.72 837.19L427.61 841.11L422.58 845.13L417.68 849.25L412.96 853.48L408.2 858.14L403.37 863.28L398.71 868.48L394.49 873.32L390.96 877.41L388.38 880.33L391.46 883.3L394.31 880.6L398.2 876.85L402.8 872.43L407.82 867.76L412.94 863.21L417.86 859.18L422.71 855.58L427.76 852.05L432.96 848.61L438.25 845.26L443.61 842L448.94 838.84L454.64 835.64L460.88 832.32L467.2 829.09L473.12 826.12L478.15 823.61L481.79 821.76Z" fill="#7ae7e7"/>
<path d="M489.48 834.1L485.86 835.35L480.88 837.05L474.93 839.09L468.43 841.35L461.76 843.71L455.33 846.05L448.59 848.61L441.12 851.51L433.53 854.49L426.42 857.31L420.42 859.7L416.11 861.4L421.51 875.05L425.83 873.35L431.84 870.96L438.92 868.15L446.47 865.18L453.85 862.31L460.45 859.81L466.73 857.52L473.29 855.2L479.72 852.97L485.63 850.94L490.62 849.23L494.27 847.98Z" fill="#94fafa"/>
<path d="M354.81 780.51L355.41 781.67L356.27 783.3L357.25 785.18L358.24 787.11L359.1 788.89L359.7 790.25L360.08 791.31L360.38 792.39L360.61 793.45L360.81 794.46L360.98 795.42L361.14 796.19L371.13 794.12L370.99 793.49L370.83 792.58L370.59 791.35L370.26 789.87L369.79 788.22L369.17 786.47L368.35 784.59L367.36 782.56L366.31 780.5L365.3 778.57L364.45 776.95L363.87 775.82Z" fill="#60c6c7"/>
<path d="M335.71 830.32L336.8 831.09L338.36 832.23L340.28 833.62L342.4 835.08L344.59 836.46L346.82 837.65L349.11 838.5L351.28 839.04L353.23 839.37L354.88 839.56L356.08 839.68L356.87 839.79L358.41 828.69L357.39 828.54L356.11 828.41L354.82 828.26L353.55 828.06L352.4 827.78L351.46 827.44L350.26 826.79L348.59 825.72L346.74 824.45L344.95 823.16L343.35 821.99L342.18 821.17Z" fill="#94fafa"/>
<path d="M352.72 815.19L353.21 814.88L353.92 814.46L354.85 813.91L355.92 813.22L357.07 812.41L358.26 811.46L359.51 810.33L360.85 809.01L362.21 807.63L363.48 806.32L364.54 805.21L365.29 804.44L360.18 799.46L359.41 800.25L358.34 801.37L357.1 802.65L355.81 803.96L354.6 805.15L353.62 806.04L352.79 806.7L351.93 807.3L351.08 807.84L350.28 808.33L349.54 808.76L348.97 809.11Z" fill="#3f8f90"/>
<path d="M427.34 795.54L428.41 796.17L429.97 798.27L432.08 801.47L434.7 805.22L437.73 808.88L441 811.82L444.3 813.54L447.42 813.71L456.16 811.76L455.09 811.14L453.53 809.04L451.42 805.83L448.8 802.09L445.77 798.43L442.5 795.49L439.2 793.77L436.08 793.6Z" fill="#52aeb0" stroke="#52aeb0" stroke-width="0.8" stroke-linejoin="round"/>
<path d="M416.84 820.5L417.54 819.49L418.06 816.92L418.62 813.12L419.41 808.62L420.61 804.02L422.32 799.97L424.58 797.02L427.34 795.54L436.08 793.6L435.37 794.62L434.85 797.19L434.3 800.98L433.51 805.49L432.31 810.08L430.59 814.13L428.33 817.09L425.58 818.56Z" fill="#78e4e4" stroke="#78e4e4" stroke-width="0.8" stroke-linejoin="round"/>
<path d="M425.46 811.6L427.45 802.5" fill="none" stroke="#c4ffff" stroke-width="4.91" stroke-linecap="round" opacity="0.55"/>
<path d="M398.99 893.51L400.84 893.49L403.63 892.08L407.29 889.68L411.62 886.86L416.32 884.23L421.03 882.41L425.38 881.84L429.07 882.83L436.93 887.11L435.09 887.14L432.3 888.55L428.63 890.95L424.3 893.77L419.6 896.39L414.89 898.22L410.54 898.79L406.85 897.8Z" fill="#52aeb0" stroke="#52aeb0" stroke-width="0.8" stroke-linejoin="round"/>
<path d="M430.88 897.57L431.9 898.26L434.03 900.66L437.11 904.32L440.88 908.55L444.97 912.63L448.92 915.81L452.4 917.51L454.98 917.37L461.98 913.7L461.02 912.94L458.92 910.51L455.88 906.79L452.11 902.54L448 898.45L444 895.29L440.48 893.62L437.83 893.8ZM452.49 886.14L453.49 886.87L455.53 889.35L458.48 893.12L462.11 897.48L466.06 901.7L469.95 905.01L473.38 906.8L476.05 906.71L483.13 903.21L482.13 902.48L480.11 899.99L477.16 896.22L473.53 891.84L469.57 887.63L465.68 884.32L462.23 882.53L459.57 882.63Z" fill="#52aeb0" stroke="#52aeb0" stroke-width="0.8" stroke-linejoin="round"/>
<path d="M434.12 928.68L434.1 927.45L433.24 924.35L431.86 919.77L430.37 914.29L429.2 908.63L428.74 903.54L429.26 899.7L430.88 897.57L437.83 893.8L437.83 895.05L438.7 898.14L440.07 902.72L441.56 908.2L442.73 913.86L443.19 918.95L442.67 922.79L441.07 924.91ZM454.98 917.37L454.89 916.14L454.09 913.04L452.76 908.41L451.42 902.89L450.43 897.18L450.14 892.05L450.79 888.23L452.49 886.14L459.57 882.63L459.51 883.87L460.28 886.99L461.48 891.61L462.78 897.11L463.79 902.8L464.15 907.84L463.56 911.67L461.98 913.7Z" fill="#78e4e4" stroke="#78e4e4" stroke-width="0.8" stroke-linejoin="round"/>
<path d="M437.29 916.82L434.64 905.67M458.28 905.61L455.95 894.39" fill="none" stroke="#c4ffff" stroke-width="4.33" stroke-linecap="round" opacity="0.55"/>
<path d="M377.71 884.21L375.18 886.04L371.81 888.55L367.82 891.48L363.38 894.63L358.7 897.74L354.01 900.57L348.54 903.38L341.89 906.43L334.89 909.51L328.31 912.43L322.88 915.06L318.79 917.72L320.38 926.09L324.92 926.57L329.2 926.35L332.84 926.19L332.4 925.5L331.83 919.45L328.69 921.21L322.58 924.09L314.78 927.55L306.2 931.36L297.69 935.34L290.12 939.31L283.25 943.4L276.36 947.77L269.65 952.26L263.38 956.67L257.8 960.82L253.12 964.55L249.42 967.85L246.48 970.89L244.19 973.83L242.47 976.75L241.25 979.57L240.29 982.71L239.9 986.54L240.42 990.3L241.37 993.46L242.38 996.01L243.13 997.79L243.52 998.91L256.18 994.2L255.56 992.64L254.68 990.73L253.87 988.9L253.29 987.26L253.04 986.12L253.11 985.22L253.49 983.94L254.04 982.47L254.85 980.97L256.17 979.15L258.24 976.85L261.27 973.99L265.43 970.44L270.6 966.32L276.49 961.88L282.81 957.34L289.31 952.91L295.64 948.85L302.61 944.9L310.68 940.79L319.04 936.75L326.82 932.99L333.24 929.69L337.89 926.73L338.29 918.12L332.93 916.84L328.61 917.14L324.71 917.49L323.68 917.72L325.11 924.08L327.17 922.79L332.06 920.23L338.42 917.15L345.36 913.82L352.11 910.45L357.87 907.25L362.84 904.02L367.63 900.6L372.1 897.22L376.06 894.1L379.33 891.49L381.75 889.62Z" fill="#60c6c7"/>
<path d="M380.86 889.68L377.8 892.55L373.48 896.51L368.37 901.24L362.94 906.39L357.65 911.63L352.93 916.66L349.03 921.5L345.74 926.27L342.73 930.94L339.63 935.55L336.05 940.21L331.57 945.08L325.69 950.48L318.62 956.41L310.9 962.56L303.08 968.67L295.68 974.48L289.22 979.74L283.74 984.47L278.84 988.83L274.44 992.83L270.49 996.42L266.93 999.59L264.27 1001.46L262.56 999L254.05 1016.5L273.41 1014.59L271.7 1012.13L275.12 1008.69L278.73 1005.24L282.59 1001.47L286.79 997.36L291.42 992.93L296.54 988.18L302.62 982.85L309.73 976.85L317.35 970.43L324.97 963.9L332.07 957.5L338.16 951.48L342.98 945.85L346.79 940.51L349.92 935.48L352.73 930.75L355.6 926.23L358.95 921.74L363.21 916.87L368.17 911.6L373.33 906.34L378.22 901.47L382.4 897.35L385.39 894.35Z" fill="#7ae7e7"/>
<path d="M375.12 902.46L373.76 905.08L372.04 908.52L369.97 912.61L367.5 917.2L364.6 922.14L361.23 927.32L357.18 933.1L352.46 939.64L347.3 946.56L341.91 953.51L336.49 960.14L331.26 966.11L326.19 971.42L321.11 976.36L315.97 981.03L310.73 985.52L305.36 989.9L299.86 994.24L293.79 998.75L287.03 1003.43L280.1 1008.04L273.59 1012.27L268.03 1015.85L264.02 1018.48L271.36 1029.21L275.22 1026.46L280.61 1022.67L287.03 1018.14L293.91 1013.16L300.73 1008.03L306.89 1003.07L312.42 998.34L317.77 993.6L323.03 988.73L328.22 983.63L333.36 978.23L338.47 972.43L343.68 965.99L349 958.93L354.23 951.62L359.2 944.38L363.72 937.56L367.64 931.47L370.96 925.9L373.81 920.58L376.19 915.71L378.15 911.44L379.71 907.95L380.94 905.35Z" fill="#94fafa"/>
<path d="M391 955.5L389.66 954.59L387.8 953.3L385.55 951.76L383.09 950.1L380.55 948.44L378.09 946.9L375.56 945.44L372.98 944.02L374.37 941.37L361.1 945.13L365.54 958.19L366.93 955.53L369.19 956.77L371.4 958.05L373.55 959.39L375.89 960.92L378.24 962.51L380.43 964.01L382.3 965.31L383.68 966.24Z" fill="#60c6c7"/>
<path d="M425.46 921.96L424.7 923.11L423.63 924.73L422.38 926.63L421.07 928.61L419.81 930.49L418.73 932.06L417.77 933.4L416.79 934.72L415.86 935.95L415.01 937.06L414.28 938L413.74 938.71L420.49 943.87L421.01 943.18L421.73 942.25L422.61 941.11L423.6 939.81L424.64 938.4L425.69 936.93L426.84 935.26L428.13 933.33L429.47 931.32L430.73 929.4L431.79 927.79L432.55 926.64Z" fill="#60c6c7"/>
<path d="M248.8 996.56C246.35 996.91 237.95 995.86 234.11 998.66C230.26 1001.46 226.06 1008.1 225.71 1013.35C225.36 1018.6 230.96 1027.34 232.01 1030.14" fill="none" stroke="#6ad4d4" stroke-width="2.5" stroke-linecap="round" stroke-linejoin="round"/>
<path d="M265.59 1025.94C264.89 1028.04 263.84 1035.04 261.39 1038.54C258.94 1042.04 253.52 1045.19 250.9 1046.94C248.27 1048.68 246.53 1048.68 245.65 1049.03" fill="none" stroke="#6ad4d4" stroke-width="2.5" stroke-linecap="round" stroke-linejoin="round"/>
<path d="M309.67 1002.85C309.67 1004.6 312.12 1010.2 309.67 1013.35C307.22 1016.5 298.83 1018.25 294.98 1021.75C291.13 1025.24 288.68 1030.84 286.58 1034.34C284.48 1037.84 286.23 1040.99 282.38 1042.74C278.54 1044.49 266.64 1044.49 263.49 1044.84" fill="none" stroke="#6ad4d4" stroke-width="2.5" stroke-linecap="round" stroke-linejoin="round"/>
<path d="M376.84 1002.85C380.34 1003.2 392.59 1007.05 397.83 1004.95C403.08 1002.85 404.83 996.21 408.33 990.26C411.83 984.31 415.33 977.32 418.82 969.27C422.32 961.22 427.57 946.53 429.32 941.98" fill="none" stroke="#6ad4d4" stroke-width="2.5" stroke-linecap="round" stroke-linejoin="round"/>
<path d="M339.06 969.27C340.46 969.97 343.96 973.12 347.46 973.47C350.95 973.82 357.95 971.72 360.05 971.37" fill="none" stroke="#6ad4d4" stroke-width="2.5" stroke-linecap="round" stroke-linejoin="round"/>
<path d="M356.19 980.9L357.14 980.78L358.94 981L361.49 980.99L364.71 980.44L367.53 979L369.87 977.07L371.46 974.8L372.01 972.69L372.61 967.14L371.96 967.93L370.69 969.11L368.76 970.34L366.45 971.61L364.46 972.77L362.41 973.79L360.71 974.89L359.42 976.36Z" fill="#52aeb0" stroke="#52aeb0" stroke-width="0.8" stroke-linejoin="round"/>
<path d="M356.37 998.44L356.68 997.36L356.46 995.65L355.93 993.36L355.32 990.67L354.85 987.83L354.74 985.11L355.16 982.74L356.19 980.9L359.42 976.36L359.41 977.32L359.87 978.97L360.6 981.25L361.33 983.97L361.82 986.9L361.86 989.75L361.3 992.25L360.09 994.28Z" fill="#78e4e4" stroke="#78e4e4" stroke-width="0.8" stroke-linejoin="round"/>
<path d="M358.88 990.13L357.72 984.54" fill="none" stroke="#c4ffff" stroke-width="3.06" stroke-linecap="round" opacity="0.55"/>
<ellipse cx="305" cy="880" rx="240" ry="200" transform="rotate(30 305 880)" fill="none" stroke="#1a1a1a" stroke-width="1.7" stroke-dasharray="16 15"/>
<line x1="632" y1="572" x2="484" y2="773" stroke="#1a1a1a" stroke-width="1.7" stroke-dasharray="16 15"/>
<text x="59.2" y="144" font-size="27.4" text-anchor="middle">IV</text>
<text x="338" y="315.6" font-size="27.2" text-anchor="middle">III</text>
<text x="501" y="634.6" font-size="27.2" text-anchor="middle">II</text>
<text x="136.5" y="565" font-size="27.2" text-anchor="middle" style="fill:#B0373A">V</text>
<text x="557.5" y="954" font-size="27.2" text-anchor="middle" style="fill:#6CD9D9">I</text>
</g>
<g id="panel-inset">
<defs><clipPath id="insetClip"><rect x="538" y="13" width="557" height="554.5"/></clipPath></defs>
<g clip-path="url(#insetClip)">
<path d="M556.71 10.01C556.71 12.23 555.6 19.19 556.71 23.36C557.82 27.54 560.05 31.99 563.39 35.05C566.73 38.11 572.01 40.06 576.74 41.73C581.47 43.4 586.48 43.4 591.77 45.07C597.06 46.74 602.62 49.38 608.46 51.74C614.31 54.11 620.71 57.45 626.83 59.26C632.95 61.07 640.18 60.79 645.19 62.6C650.2 64.4 653.96 66.91 656.88 70.11C659.8 73.31 662.44 77.9 662.72 81.79C663 85.69 661.19 90.7 658.55 93.48C655.9 96.26 650.48 97.1 646.86 98.49C643.24 99.88 638.51 101.27 636.84 101.83" fill="none" stroke="#b2272c" stroke-width="3.4" stroke-linecap="round" stroke-linejoin="round"/>
<path d="M628.11 119.42L629.74 119.03L633.31 117.15L638.58 114.53L644.98 111.56L651.66 109.04L657.78 107.47L663.15 107.46L666.49 109.1L675.93 117.95L674.48 118.71L670.94 120.53L665.73 123.62L659.28 126.76L652.46 129.3L645.97 130.71L640.76 130.59L637.12 128.7ZM661.33 150.54L662.85 149.84L665.99 147.48L670.05 143.15L674.97 138.33L680.42 133.5L685.7 129.85L690.75 127.99L694.79 128.44L706.6 133.73L705.26 134.67L702.55 137.61L698.7 142.25L693.79 147.34L688.13 152.3L682.54 155.85L676.87 157.5L672.68 156.74Z" fill="#7d2125" stroke="#7d2125" stroke-width="0.8" stroke-linejoin="round"/>
<path d="M666.49 109.1L665.66 110.57L664.09 114.26L661.1 119.76L658.69 126.41L656.8 134.04L656.68 141.47L657.96 146.69L661.33 150.54L672.68 156.74L671.6 155L672.52 151.12L673.44 145.61L675.09 139.32L677.03 132.3L678.1 126.41L677.72 121.04L675.93 117.95ZM694.79 128.44L695.16 130.06L694.65 134.05L693.88 139.92L693.2 146.96L693.09 154.23L693.87 160.74L695.76 165.69L698.88 168.59L710.68 173.89L710.33 172.24L710.82 168.27L711.65 162.37L712.31 155.34L712.42 148.09L711.62 141.52L709.74 136.59L706.6 133.73Z" fill="#b12b2f" stroke="#b12b2f" stroke-width="0.8" stroke-linejoin="round"/>
<path d="M669.06 126.03L665.12 139.83M703.15 144L702.37 158.3" fill="none" stroke="#f07a78" stroke-width="7.1" stroke-linecap="round" opacity="0.55"/>
<path d="M711.69 149.62L712.99 150.54L714.8 151.84L716.93 153.37L719.21 155L721.43 156.58L722.13 157.08L719.51 160.85L735.01 161.93L728.54 147.81L725.92 151.58L725.29 151.14L723.09 149.57L720.82 147.95L718.69 146.42L716.88 145.12L715.58 144.19Z" fill="#b12b2f"/>
<path d="M730.33 163.6C732 166.38 737.99 174.73 740.35 180.29C742.72 185.86 745.08 192.81 744.52 196.99C743.97 201.16 739.65 204.22 737.01 205.33C734.37 206.45 730.06 203.94 728.66 203.66" fill="none" stroke="#b2272c" stroke-width="3.4" stroke-linecap="round" stroke-linejoin="round"/>
<path d="M735.64 214.89L733.83 214.55L728.97 213.77L721.7 213.37L713.47 213.99L704.8 215.45L697.36 218.05L692.21 221.56L690.21 225.38L688.78 238.76L690.45 238.08L694.95 237.18L701.65 236.29L709.52 235.33L717.86 234.09L724.71 232.58L729.51 230.59L731.71 227.76ZM730.05 248.37L728.37 249.02L723.78 249.81L716.86 250.83L708.69 252.48L700.58 254.82L693.61 257.89L688.91 261.51L687.16 265.45L686.62 278.9L688.24 278.11L692.77 277.16L699.55 275.87L707.62 274.15L715.65 271.87L722.52 269.06L727.28 265.6L729.11 261.79ZM728.01 287.26L726.39 288.05L721.85 288.9L715.07 289.94L707.24 291.29L699.16 292.81L692.15 294.82L687.19 297.51L684.98 300.95L682.37 314.15L684.13 313.84L688.87 313.83L695.94 313.64L704.33 312.79L712.97 310.91L720.17 308.11L725.07 304.61L726.99 300.68ZM721.73 329.32L720 330.09L715.44 330.26L708.76 330.11L700.54 329.53L692.61 329.34L685.78 329.39L680.74 330.3L677.89 332.73L671.46 344.55L673.18 345.1L677.77 346.93L684.88 348.94L693.54 350.08L701.96 350.05L709.82 348.71L715.49 346.08L718.3 342.33ZM706.65 361.99L704.29 360.32L698.92 360.05L691.6 361.72L683.59 365.24L676.15 370.06L670.41 375.4L667.18 380.03L666.71 383.96L670.12 396.97L671.67 396.03L675.84 393.91L681.62 390.42L688.39 386.41L695.13 382.5L700.76 379.25L704.29 376.93L705.07 375.35Z" fill="#7d2125" stroke="#7d2125" stroke-width="0.8" stroke-linejoin="round"/>
<path d="M703.1 183.41L704.39 184.67L708.32 187.21L714.05 191.09L720.67 195.89L727.09 201.09L732.27 206.15L735.36 211.15L735.64 214.89L731.71 227.76L730.08 226.91L726.14 224.44L720 220.94L713.07 216.22L706.5 210.76L701.37 205.2L698.51 200.2L698.41 196.03ZM690.21 225.38L691.58 226.66L695.88 228.31L702.51 230.38L710.24 233.13L717.97 236.42L724.49 240.2L728.75 244.28L730.05 248.37L729.11 261.79L727.58 260.85L723.14 259.44L716.49 257.45L708.64 254.77L700.8 251.39L694.32 247.53L690.06 243.2L688.78 238.76ZM687.16 265.45L688.71 266.36L693.21 267.6L699.96 269.38L707.84 271.86L715.76 275.05L722.4 278.88L726.7 283.07L728.01 287.26L726.99 300.68L725.5 299.64L721.14 298.13L714.59 296.09L706.82 293.54L698.97 290.43L692.4 286.87L688.05 282.96L686.62 278.9ZM684.98 300.95L686.46 301.96L690.76 303.84L697.17 306.7L704.5 310.5L711.77 315.02L717.67 320L721.21 325.04L721.73 329.32L718.3 342.33L716.98 341.11L713.04 338.72L706.97 335.54L699.78 331.68L692.58 327.27L686.73 322.7L683.11 318.23L682.37 314.15ZM677.89 332.73L679.02 334.11L682.43 337.25L687.5 341.9L693.26 347.45L698.87 352.97L703.49 357.5L706.3 360.39L706.65 361.99L705.07 375.35L702.32 376.52L696.91 375.63L690.22 372.18L683.39 366.78L677.41 360.4L673.06 354.11L670.95 348.63L671.46 344.55Z" fill="#b12b2f" stroke="#b12b2f" stroke-width="0.8" stroke-linejoin="round"/>
<path d="M710.28 200.93L723.55 211.02M701.66 240.89L717.23 246.93M699.47 279.9L715.17 285.57M694.87 316.99L709.37 325.28M682.45 351.15L694.55 362.58" fill="none" stroke="#f07a78" stroke-width="7.38" stroke-linecap="round" opacity="0.55"/>
<path d="M676.96 375.59L678.77 376.86L681.29 378.48L684.07 380.31L686.83 382.32L689.22 384.4L690.94 386.43L692.17 388.98L693.18 392.38L693.95 396.14L694.52 399.81L694.97 402.99L695.36 405.25L696.86 405.15L696.96 402.9L697.2 399.71L697.44 395.9L697.49 391.81L697.19 387.72L696.27 383.9L694.48 380.4L692.09 377.14L689.47 374.16L686.94 371.57L684.89 369.51L683.54 368.04Z" fill="#7d2125"/>
<path d="M695.28 401.86C693.61 403.53 687.9 410.21 685.26 411.88C682.62 413.55 679.69 414.66 679.42 411.88C679.14 409.1 684.01 397.69 683.59 395.18C683.17 392.68 679.42 394.63 676.91 396.85C674.41 399.08 670.51 403.81 668.56 408.54C666.62 413.27 665.23 419.67 665.23 425.23C665.23 430.8 666.62 437.2 668.56 441.93C670.51 446.66 673.57 450.55 676.91 453.61C680.25 456.68 684.98 457.23 688.6 460.29C692.21 463.35 695.83 467.25 698.61 471.98C701.4 476.71 703.07 483.11 705.29 488.67C707.52 494.24 709.74 499.8 711.97 505.37C714.2 510.93 716.7 517.05 718.65 522.06C720.6 527.07 722.13 531.1 723.66 535.42C725.19 539.73 727.13 545.85 727.83 547.94" fill="none" stroke="#b2272c" stroke-width="3.4" stroke-linecap="round" stroke-linejoin="round"/>
<path d="M787.93 11.68C786.68 13.63 782.23 19.75 780.42 23.36C778.61 26.98 776.52 30.32 777.08 33.38C777.63 36.44 780.42 39.5 783.76 41.73C787.1 43.95 792.66 44.51 797.11 46.74C801.56 48.96 806.66 51.74 810.47 55.08C814.28 58.42 818.4 64.82 819.98 66.77" fill="none" stroke="#68d2d2" stroke-width="3.4" stroke-linecap="round" stroke-linejoin="round"/>
<line x1="787.93" y1="13" x2="785.43" y2="17" stroke="#777" stroke-width="3.4"/>
<path d="M810 53.41C811.39 52.02 816.12 47.15 818.35 45.07C820.57 42.98 820.57 41.31 823.36 40.89C826.14 40.48 831.15 41.31 835.04 42.56C838.94 43.81 843.95 46.32 846.73 48.41C849.51 50.49 852.85 53.69 851.74 55.08C850.62 56.47 843.95 55.36 840.05 56.75C836.15 58.14 831.42 62.87 828.36 63.43C825.3 63.99 823.36 62.04 821.69 60.09C820.02 58.14 818.9 53.14 818.35 51.74" fill="none" stroke="#68d2d2" stroke-width="3.4" stroke-linecap="round" stroke-linejoin="round"/>
<path d="M963.59 51.74C964.15 53.69 965.82 59.54 966.93 63.43C968.04 67.33 969.99 71.78 970.27 75.12C970.55 78.46 968.88 82.07 968.6 83.46" fill="none" stroke="#68d2d2" stroke-width="3.4" stroke-linecap="round" stroke-linejoin="round"/>
<path d="M1003.66 13.35C1004.07 15.57 1006.44 22.25 1006.16 26.7C1005.88 31.15 1004.35 35.88 1001.99 40.06C999.62 44.23 996.7 48.13 991.97 51.74C987.24 55.36 979.45 59.26 973.61 61.76C967.76 64.27 962.2 65.8 956.91 66.77C951.62 67.74 946.06 68.72 941.89 67.6C937.71 66.49 934.37 62.46 931.87 60.09C929.37 57.73 929.09 53.97 926.86 53.41C924.64 52.86 920.74 53.69 918.51 56.75C916.29 59.81 915.45 67.6 913.51 71.78C911.56 75.95 909.05 80.13 906.83 81.79C904.6 83.46 901.82 83.46 900.15 81.79C898.48 80.13 897.09 75.4 896.81 71.78C896.53 68.16 896.81 63.71 898.48 60.09C900.15 56.47 905.44 51.74 906.83 50.08" fill="none" stroke="#68d2d2" stroke-width="3.4" stroke-linecap="round" stroke-linejoin="round"/>
<path d="M898.48 76.79C899.32 79.29 901.54 87.08 903.49 91.81C905.44 96.54 909.61 100.72 910.17 105.17C910.72 109.62 909.05 114.07 906.83 118.52C904.6 122.97 900.71 128.26 896.81 131.88C892.92 135.5 886.79 137.16 883.46 140.23C880.12 143.29 877.06 146.62 876.78 150.24C876.5 153.86 880.95 159.98 881.79 161.93" fill="none" stroke="#68d2d2" stroke-width="3.4" stroke-linecap="round" stroke-linejoin="round"/>
<path d="M1018.68 58.42C1020.91 57.87 1028.42 55.92 1032.04 55.08C1035.65 54.25 1039.27 52.86 1040.38 53.41C1041.5 53.97 1038.99 57.59 1038.71 58.42" fill="none" stroke="#68d2d2" stroke-width="3.4" stroke-linecap="round" stroke-linejoin="round"/>
<path d="M1032.04 98.49C1030.37 100.99 1024.25 109.06 1022.02 113.51C1019.79 117.97 1017.85 121.03 1018.68 125.2C1019.52 129.37 1025.92 135.22 1027.03 138.56C1028.14 141.89 1027.58 143.84 1025.36 145.23C1023.13 146.62 1015.62 146.62 1013.67 146.9" fill="none" stroke="#68d2d2" stroke-width="3.4" stroke-linecap="round" stroke-linejoin="round"/>
<path d="M1043.72 95.15C1041.78 96.82 1033.98 103.5 1032.04 105.17" fill="none" stroke="#68d2d2" stroke-width="3.4" stroke-linecap="round" stroke-linejoin="round"/>
<path d="M1034.54 150.24C1034.12 153.02 1032.45 164.15 1032.04 166.94" fill="none" stroke="#68d2d2" stroke-width="3.4" stroke-linecap="round" stroke-linejoin="round"/>
<path d="M1030.37 61.76C1029.95 63.71 1028.28 71.5 1027.86 73.45" fill="none" stroke="#68d2d2" stroke-width="3.4" stroke-linecap="round" stroke-linejoin="round"/>
<path d="M1032.04 103.5C1032.18 106.28 1032.73 117.41 1032.87 120.19" fill="none" stroke="#68d2d2" stroke-width="3.4" stroke-linecap="round" stroke-linejoin="round"/>
<path d="M855.08 171.94C856.74 173.06 861.47 177.23 865.09 178.62C868.71 180.01 873.16 181.13 876.78 180.29C880.4 179.46 883.18 175.84 886.79 173.61C890.41 171.39 894.86 168.05 898.48 166.94C902.1 165.82 906.83 166.94 908.5 166.94" fill="none" stroke="#68d2d2" stroke-width="3.4" stroke-linecap="round" stroke-linejoin="round"/>
<path d="M856.74 176.95C857.3 179.18 860.36 186.69 860.08 190.31C859.81 193.93 857.86 197.54 855.08 198.66C852.29 199.77 846.17 198.66 843.39 196.99C840.61 195.32 837.55 189.75 838.38 188.64C839.22 187.53 845.06 190.31 848.4 190.31C851.74 190.31 856.74 188.92 858.41 188.64" fill="none" stroke="#68d2d2" stroke-width="3.4" stroke-linecap="round" stroke-linejoin="round"/>
<path d="M860.08 188.64C861.2 191.14 863.42 199.21 866.76 203.66C870.1 208.12 875.39 212.85 880.12 215.35C884.85 217.85 890.69 217.3 895.14 218.69C899.59 220.08 903.77 220.92 906.83 223.7C909.89 226.48 911.28 232.32 913.51 235.38C915.73 238.44 917.4 241.78 920.18 242.06C922.97 242.34 926.86 239.28 930.2 237.05C933.54 234.83 936.6 231.49 940.22 228.71C943.83 225.92 949.96 221.75 951.9 220.36" fill="none" stroke="#68d2d2" stroke-width="3.4" stroke-linecap="round" stroke-linejoin="round"/>
<path d="M928.53 237.05C928.25 234.55 926.58 227.31 926.86 222.03C927.14 216.74 927.97 209.51 930.2 205.33C932.43 201.16 936.32 198.93 940.22 196.99C944.11 195.04 951.35 194.2 953.57 193.65" fill="none" stroke="#68d2d2" stroke-width="3.4" stroke-linecap="round" stroke-linejoin="round"/>
<path d="M1003.66 168.61C1004.21 169.72 1004.49 173.61 1006.99 175.28C1009.5 176.95 1015.34 178.07 1018.68 178.62C1022.02 179.18 1025.64 178.62 1027.03 178.62" fill="none" stroke="#68d2d2" stroke-width="3.4" stroke-linecap="round" stroke-linejoin="round"/>
<path d="M1040.38 201.99C1042.33 201.44 1047.9 198.66 1052.07 198.66C1056.24 198.66 1063.2 201.44 1065.43 201.99" fill="none" stroke="#68d2d2" stroke-width="3.4" stroke-linecap="round" stroke-linejoin="round"/>
<path d="M1015.34 193.65C1015.62 195.87 1017.85 202.83 1017.01 207C1016.18 211.18 1013.67 215.63 1010.33 218.69C1006.99 221.75 1001.99 223.98 996.98 225.37C991.97 226.76 985.29 227.31 980.28 227.04C975.28 226.76 970.82 224.53 966.93 223.7C963.03 222.86 958.58 222.31 956.91 222.03" fill="none" stroke="#68d2d2" stroke-width="3.4" stroke-linecap="round" stroke-linejoin="round"/>
<path d="M960.25 233.71C961.92 233.16 967.48 229.54 970.27 230.38C973.05 231.21 974.44 236.22 976.94 238.72C979.45 241.23 983.9 244.29 985.29 245.4" fill="none" stroke="#68d2d2" stroke-width="3.4" stroke-linecap="round" stroke-linejoin="round"/>
<path d="M991.97 238.72C993.64 238.72 998.09 237.33 1001.99 238.72C1005.88 240.11 1011.17 244.29 1015.34 247.07C1019.52 249.85 1024.25 254.58 1027.03 255.42C1029.81 256.25 1031.2 252.63 1032.04 252.08" fill="none" stroke="#68d2d2" stroke-width="3.4" stroke-linecap="round" stroke-linejoin="round"/>
<path d="M1038.71 218.69C1038.99 220.36 1040.11 227.04 1040.38 228.71" fill="none" stroke="#68d2d2" stroke-width="3.4" stroke-linecap="round" stroke-linejoin="round"/>
<path d="M966.93 252.08C968.6 253.19 973.88 256.25 976.94 258.76C980.01 261.26 983.62 263.76 985.29 267.1C986.96 270.44 987.52 275.17 986.96 278.79C986.41 282.41 982.79 287.14 981.95 288.81" fill="none" stroke="#68d2d2" stroke-width="3.4" stroke-linecap="round" stroke-linejoin="round"/>
<path d="M1057.08 278.79C1058.19 279.9 1062.37 282.77 1063.76 285.47C1065.15 288.17 1065.15 293.4 1065.43 294.98" fill="none" stroke="#68d2d2" stroke-width="3.4" stroke-linecap="round" stroke-linejoin="round"/>
<path d="M857.64 109.97L859.82 113.17L862.82 117.65L866.44 123.01L870.45 128.82L874.65 134.64L878.82 140.05L883.03 145.05L887.42 149.93L891.9 154.72L896.39 159.38L900.78 163.91L905.05 168.34L909.34 172.68L913.66 176.83L917.83 180.8L921.77 184.66L925.4 188.45L928.63 192.26L931.67 196.49L934.67 201.27L937.51 206.2L940.06 210.87L942.22 214.89L943.86 217.83L953.27 212.88L951.83 209.96L949.9 205.86L947.52 200.92L944.77 195.55L941.73 190.12L938.45 185.02L934.9 180.36L931.09 175.93L927.13 171.64L923.13 167.43L919.17 163.21L915.28 158.85L911.28 154.25L907.13 149.51L902.97 144.72L898.91 139.91L895.02 135.12L891.43 130.38L887.88 125.27L884.22 119.6L880.65 113.82L877.38 108.39L874.6 103.74L872.54 100.36Z" fill="#60c6c7"/>
<path d="M849.81 61.08L853.05 63.89L857.51 67.65L862.69 72.05L868.15 76.84L873.43 81.73L878.14 86.47L882.48 91.22L886.81 96.18L891.03 101.3L895.13 106.61L899.1 112.12L902.89 117.84L906.57 124L910.19 130.7L913.73 137.71L917.14 144.8L920.39 151.73L923.43 158.22L926.24 164.24L928.82 169.96L931.21 175.46L933.42 180.75L935.47 185.85L937.35 190.75L939.09 195.69L940.71 200.74L942.17 205.67L943.46 210.19L944.53 214.02L945.36 216.86L956.78 213.84L956.11 211.02L955.22 207.16L954.12 202.49L952.83 197.31L951.37 191.89L949.76 186.52L948.02 181.27L946.14 175.88L944.11 170.31L941.91 164.53L939.53 158.52L936.97 152.28L934.22 145.63L931.26 138.49L928.1 131.05L924.74 123.54L921.18 116.17L917.44 109.19L913.55 102.66L909.49 96.43L905.3 90.46L901 84.72L896.62 79.2L892.11 73.78L887.09 68.23L881.58 62.63L876.05 57.31L870.94 52.53L866.69 48.6L863.68 45.75Z" fill="#7ae7e7"/>
<path d="M1041.65 72.73L1038.61 75.61L1034.47 79.54L1029.54 84.21L1024.16 89.29L1018.66 94.45L1013.36 99.36L1007.93 104.27L1002.01 109.54L995.92 114.92L989.99 120.2L984.52 125.14L979.82 129.55L975.88 133.49L972.52 137.1L969.71 140.31L967.43 143.04L965.65 145.19L964.28 146.79L976.25 157.04L977.73 155.31L979.54 153.12L981.67 150.58L984.21 147.68L987.22 144.44L990.77 140.88L995.18 136.74L1000.51 131.93L1006.38 126.71L1012.47 121.33L1018.46 116L1024 110.98L1029.4 105.98L1034.96 100.77L1040.37 95.66L1045.31 90.97L1049.45 87.04L1052.48 84.18Z" fill="#60c6c7"/>
<path d="M1006.29 54.47L1004.17 58.62L1001.17 64.36L997.62 71.22L993.82 78.72L990.09 86.35L986.76 93.62L983.81 100.49L980.96 107.38L978.21 114.37L975.55 121.51L972.99 128.85L970.51 136.45L968.03 144.91L965.54 154.27L963.17 163.76L961.02 172.64L959.24 180.12L957.92 185.47L969.25 188.47L970.77 183.13L972.83 175.7L975.28 166.98L977.96 157.71L980.71 148.69L983.38 140.67L986.01 133.5L988.73 126.54L991.54 119.75L994.44 113.1L997.44 106.52L1000.52 100.02L1003.94 93.22L1007.8 85.99L1011.78 78.8L1015.54 72.15L1018.74 66.5L1021.05 62.38Z" fill="#7ae7e7"/>
<path d="M964.64 190.49L964.79 184.59L964.98 176.25L965.21 166.49L965.5 156.34L965.86 146.84L966.29 139.03L966.82 132.94L967.43 127.7L968.11 123.03L968.84 118.63L969.61 114.24L970.39 109.66L970.72 107.68L976.21 108.72L968.6 81.79L951.69 104.08L957.17 105.12L956.79 107.35L956.02 111.9L955.25 116.31L954.48 120.91L953.75 125.92L953.1 131.57L952.54 138.08L952.09 146.21L951.72 155.89L951.43 166.13L951.19 175.93L951.01 184.26L950.85 190.13Z" fill="#60c6c7"/>
<path d="M843.29 91.44L844.02 92.7L845.03 94.42L846.21 96.44L847.47 98.64L848.72 100.85L849.86 102.94L851.01 105.14L852.02 107.15L849.57 108.35L861.75 113.51L865.07 100.71L862.62 101.92L861.52 99.75L860.29 97.38L859.05 95.11L857.74 92.78L856.43 90.52L855.23 88.46L854.23 86.75L853.51 85.51Z" fill="#60c6c7"/>
<path d="M859.2 113.93L859.34 115.91L859.5 118.7L859.72 122.08L860.01 125.75L860.41 129.46L860.96 132.98L861.73 136.41L862.7 139.87L863.75 143.19L864.75 146.19L865.58 148.64L866.15 150.4L877.39 146.75L876.79 144.91L875.95 142.42L874.99 139.56L874.03 136.5L873.19 133.49L872.57 130.77L872.13 127.94L871.78 124.65L871.51 121.23L871.3 117.97L871.13 115.15L870.99 113.1Z" fill="#60c6c7"/>
<path d="M877.42 147.85L875.7 148.48L873.37 149.36L870.75 150.35L868.07 151.29L865.6 152.05L863.72 152.5L862.04 152.69L861.99 152.7L862.08 150.02L851.74 160.26L861.41 171.13L861.49 168.45L863.19 168.41L866.46 168.02L869.75 167.26L873 166.26L876.13 165.16L878.95 164.1L881.23 163.23L882.82 162.65Z" fill="#7ae7e7"/>
<path d="M1035.4 227.65L1035.06 229.54L1034.5 232.23L1033.84 235.6L1033.23 239.38L1032.82 243.38L1032.81 247.31L1033.12 251.02L1033.62 254.76L1034.36 258.61L1035.39 262.49L1036.78 266.33L1038.65 270.13L1041.23 273.8L1044.34 277.19L1044.84 277.67L1042.39 280.42L1058.75 282.13L1055.15 266.08L1052.7 268.84L1052.75 268.89L1050.41 266.34L1048.8 264.08L1047.67 261.74L1046.68 258.98L1045.89 255.98L1045.29 252.86L1044.87 249.72L1044.62 246.83L1044.63 244.02L1044.95 240.91L1045.47 237.68L1046.08 234.58L1046.66 231.83L1047.03 229.76Z" fill="#7ae7e7"/>
<path d="M968.72 232.23L969.87 232.57L971.4 232.99L973.09 233.48L974.84 234.02L976.49 234.62L977.86 235.22L979.28 236.02L981 237.12L981.72 237.61L980.97 238.67L990.3 237.05L988.74 227.71L987.99 228.77L986.99 228.09L984.86 226.73L982.71 225.53L980.51 224.56L978.31 223.76L976.21 223.1L974.33 222.56L972.85 222.15L971.81 221.84Z" fill="#7ae7e7"/>
<path d="M946.89 12.51C948.81 11.43 965.34 10.93 967.76 12.51C970.18 14.1 971.85 26.62 971.1 28.37C970.35 30.13 962.5 30.54 960.25 30.04C958 29.54 949.9 25.12 948.56 23.36C947.23 21.61 944.97 13.6 946.89 12.51Z" fill="#60c6c7"/>
<path d="M908.5 49.74C908.5 47.18 913.23 39.59 916.84 35.05C920.46 30.51 924.91 24.89 930.2 22.53C935.49 20.16 942.44 20.16 948.56 20.86C954.69 21.56 962.62 23.64 966.93 26.7C971.24 29.76 974.72 35.33 974.44 39.22C974.16 43.12 968.46 47.43 965.26 50.08C962.06 52.72 958.58 55.92 955.24 55.08C951.9 54.25 948.84 47.85 945.23 45.07C941.61 42.28 937.16 38.81 933.54 38.39C929.92 37.97 926.3 40.56 923.52 42.56C920.74 44.57 919.35 49.21 916.84 50.41C914.34 51.61 908.5 52.3 908.5 49.74Z" fill="#7ae7e7"/>
<path d="M943.56 26.7C945.5 27.26 951.62 28.09 955.24 30.04C958.86 31.99 963.59 37 965.26 38.39" fill="none" stroke="#c4ffff" stroke-width="6.68" stroke-linecap="round" opacity="0.6"/>
<path d="M990.64 139.76L990.45 141.27L991.2 144.73L992.49 149.75L994.39 155.59L996.86 161.36L999.77 166.19L1002.86 169.33L1006.03 170.38L1015.34 170.16L1014.36 169.02L1013.12 165.78L1011.45 161L1009.41 155.37L1007.08 149.74L1004.56 144.97L1001.94 141.78L999.89 140.87Z" fill="#52aeb0" stroke="#52aeb0" stroke-width="0.8" stroke-linejoin="round"/>
<path d="M969.12 165.56L970.31 164.63L972.16 161.7L974.73 157.33L977.83 152.2L981.21 147.14L984.64 142.96L987.84 140.36L990.64 139.76L999.89 140.87L999.2 142.12L997.77 145.35L995.52 150.01L992.51 155.36L988.97 160.53L985.17 164.7L981.53 167.18L978.21 167.59Z" fill="#78e4e4" stroke="#78e4e4" stroke-width="0.8" stroke-linejoin="round"/>
<path d="M981.85 158.93L988.37 148.58" fill="none" stroke="#c4ffff" stroke-width="5.11" stroke-linecap="round" opacity="0.55"/>
<path d="M1026.59 174.97L1027.62 176.17L1029.01 179.83L1030.94 185.3L1033.26 191.78L1035.92 198.19L1038.83 203.6L1041.64 207.09L1044.51 208.16L1052.75 207.38L1051.82 206.13L1050.63 202.37L1048.82 196.84L1046.54 190.29L1043.83 183.85L1040.8 178.44L1037.77 174.97L1034.81 173.97ZM1056.12 172.09L1057 173.37L1058.2 177.1L1059.74 182.71L1061.66 189.33L1063.96 195.93L1066.58 201.5L1069.38 205.17L1072.22 206.36L1080.49 205.93L1079.59 204.65L1078.44 200.9L1076.91 195.29L1074.99 188.67L1072.69 182.06L1070.06 176.49L1067.21 172.82L1064.39 171.64Z" fill="#52aeb0" stroke="#52aeb0" stroke-width="0.8" stroke-linejoin="round"/>
<path d="M1016.74 211.55L1017.4 210.14L1017.88 206.25L1018.4 200.46L1019.13 193.6L1020.24 186.69L1021.86 180.75L1023.97 176.65L1026.59 174.97L1034.81 173.97L1034.12 175.38L1033.64 179.27L1033.11 185.06L1032.38 191.92L1031.26 198.82L1029.65 204.77L1027.54 208.86L1024.96 210.53ZM1044.51 208.16L1045 206.73L1045.51 202.82L1046.33 197.06L1047.43 190.21L1048.97 183.39L1051 177.54L1053.38 173.59L1056.12 172.09L1064.39 171.64L1063.59 172.99L1062.85 176.84L1061.91 182.56L1060.76 189.36L1059.27 196.13L1057.35 201.97L1055.19 205.89L1052.75 207.38Z" fill="#78e4e4" stroke="#78e4e4" stroke-width="0.8" stroke-linejoin="round"/>
<path d="M1024.83 199.64L1026.68 185.88M1052.8 196.59L1055.44 182.98" fill="none" stroke="#c4ffff" stroke-width="4.54" stroke-linecap="round" opacity="0.55"/>
<path d="M952.98 224.98L951.37 227.7L949.14 231.48L946.51 235.92L943.69 240.6L940.9 245.11L938.37 249.01L936.06 252.29L933.74 255.38L931.37 258.39L928.96 261.47L926.47 264.71L923.95 268.2L921.27 272.1L918.42 276.38L915.58 280.7L912.95 284.74L910.75 288.13L909.16 290.56L924.53 299.41L925.85 296.79L927.66 293.16L929.8 288.9L932.09 284.37L934.37 279.95L936.45 276.03L938.38 272.62L940.35 269.35L942.38 266.07L944.47 262.67L946.6 259.05L948.74 255.15L950.97 250.7L953.31 245.75L955.63 240.69L957.76 235.95L959.55 231.94L960.84 229.09Z" fill="#60c6c7"/>
<path d="M949.64 218.51L949.33 221.65L948.95 226L948.47 231.1L947.91 236.51L947.27 241.77L946.56 246.42L945.72 250.55L944.75 254.63L943.69 258.66L942.57 262.67L941.44 266.7L940.36 270.71L939.25 274.86L938.07 279.22L936.89 283.52L935.79 287.49L934.86 290.84L934.19 293.28L949.58 296.69L950 294.2L950.58 290.78L951.27 286.7L952.01 282.27L952.75 277.77L953.43 273.52L954.09 269.51L954.8 265.43L955.52 261.21L956.21 256.86L956.8 252.37L957.25 247.72L957.51 242.64L957.62 237.1L957.63 231.53L957.58 226.34L957.53 221.99L957.51 218.87Z" fill="#7ae7e7"/>
<path d="M954.29 236.51L954.77 238.74L955.44 241.8L956.21 245.39L957 249.22L957.71 253L958.24 256.44L958.63 259.66L958.95 262.91L959.2 266.17L959.4 269.45L959.56 272.72L959.68 275.96L959.75 279.35L959.75 283.02L959.7 286.71L959.64 290.15L959.58 293.09L959.55 295.23L974.31 294.73L974.14 292.64L973.91 289.73L973.63 286.23L973.31 282.43L972.93 278.57L972.5 274.95L972.04 271.56L971.55 268.17L971 264.76L970.39 261.32L969.71 257.87L968.93 254.39L967.98 250.69L966.84 246.77L965.65 242.91L964.51 239.36L963.54 236.39L962.87 234.26Z" fill="#7ae7e7"/>
<path d="M966.3 286.72L968.04 287.59L970.38 288.76L973.19 290.16L976.32 291.73L979.64 293.38L983 295.07L986.78 296.96L991.16 299.15L995.73 301.43L1000.06 303.6L1003.75 305.44L1006.37 306.75L1014.3 290.89L1011.68 289.58L1007.99 287.74L1003.66 285.57L999.09 283.29L994.71 281.1L990.93 279.21L987.56 277.53L984.25 275.87L981.12 274.3L978.31 272.9L975.97 271.73L974.23 270.86Z" fill="#60c6c7"/>
<path d="M918.51 301.69C920.46 300.86 926.03 297.24 930.2 296.69C934.37 296.13 939.94 296.69 943.56 298.36C947.17 300.03 949.12 303.92 951.9 306.7C954.69 309.49 956.08 313.52 960.25 315.05C964.42 316.58 971.94 316.72 976.94 315.88C981.95 315.05 988.07 311.02 990.3 310.04" fill="none" stroke="#68d2d2" stroke-width="3.4" stroke-linecap="round" stroke-linejoin="round"/>
<path d="M936.88 351.78C937.99 352.89 940.5 356.51 943.56 358.46C946.62 360.4 953.29 362.63 955.24 363.46" fill="none" stroke="#68d2d2" stroke-width="3.4" stroke-linecap="round" stroke-linejoin="round"/>
<path d="M883.46 466.97C882.06 468.92 876.78 474.2 875.11 478.66C873.44 483.11 872.6 488.67 873.44 493.68C874.27 498.69 877.61 503.98 880.12 508.71C882.62 513.44 886.52 519.84 888.46 522.06C890.41 524.29 892.08 524.29 891.8 522.06C891.52 519.84 887.63 512.32 886.79 508.71C885.96 505.09 885.13 503.14 886.79 500.36C888.46 497.58 893.75 494.79 896.81 492.01C899.87 489.23 903.77 485.06 905.16 483.66" fill="none" stroke="#68d2d2" stroke-width="3.4" stroke-linecap="round" stroke-linejoin="round"/>
<path d="M923.52 475.32C923.24 476.99 921.02 481.44 921.85 485.33C922.69 489.23 927.14 494.52 928.53 498.69C929.92 502.86 931.04 507.04 930.2 510.38C929.37 513.71 925.61 516.5 923.52 518.72C921.44 520.95 917.12 524.57 917.68 523.73C918.24 522.9 922.55 516.78 926.86 513.71C931.17 510.65 938.83 508.43 943.56 505.37C948.29 502.31 953.02 499.25 955.24 495.35C957.47 491.46 957.75 486.17 956.91 481.99C956.08 477.82 950.79 473.93 950.23 470.31C949.68 466.69 951.07 463.91 953.57 460.29C956.08 456.68 962.48 452.22 965.26 448.61C968.04 444.99 970.55 441.93 970.27 438.59C969.99 435.25 966.09 431.63 963.59 428.57C961.09 425.51 956.63 421.62 955.24 420.23" fill="none" stroke="#68d2d2" stroke-width="3.4" stroke-linecap="round" stroke-linejoin="round"/>
<path d="M993.64 368.47C996.14 367.92 1004.49 364.58 1008.66 365.13C1012.84 365.69 1014.23 370.7 1018.68 371.81C1023.13 372.92 1028.98 372.92 1035.38 371.81C1041.78 370.7 1051.79 368.47 1057.08 365.13C1062.37 361.79 1065.7 356.79 1067.1 351.78C1068.49 346.77 1066.54 340.65 1065.43 335.08C1064.31 329.52 1060.7 323.95 1060.42 318.39C1060.14 312.82 1062.64 307.26 1063.76 301.69C1064.87 296.13 1066.82 289.45 1067.1 285C1067.37 280.55 1065.7 276.65 1065.43 274.98" fill="none" stroke="#68d2d2" stroke-width="3.4" stroke-linecap="round" stroke-linejoin="round"/>
<path d="M1018.68 306.7C1020.07 304.76 1024.52 298.63 1027.03 295.02C1029.53 291.4 1032.59 286.67 1033.71 285" fill="none" stroke="#68d2d2" stroke-width="3.4" stroke-linecap="round" stroke-linejoin="round"/>
<path d="M972.98 294.6L974.7 295.46L977 296.61L979.76 297.99L982.87 299.54L986.22 301.22L989.67 302.95L993.66 304.94L998.33 307.27L1003.24 309.73L1007.92 312.07L1011.9 314.06L1014.72 315.47L1022.65 299.61L1019.82 298.2L1015.84 296.21L1011.17 293.87L1006.26 291.42L1001.58 289.08L997.6 287.09L994.15 285.36L990.8 283.69L987.69 282.13L984.93 280.75L982.63 279.6L980.91 278.74Z" fill="#60c6c7"/>
<path d="M981.02 310.21L982.34 312.44L984.19 315.54L986.35 319.18L988.61 323.03L990.77 326.77L992.59 330.04L994.21 333.08L995.82 336.26L997.15 338.94L995.58 339.7L1006.99 343.43L1011.12 332.15L1009.55 332.91L1008.15 330.08L1006.45 326.73L1004.7 323.43L1002.75 319.95L1000.52 316.09L998.22 312.17L996.04 308.5L994.2 305.4L992.9 303.2Z" fill="#60c6c7"/>
<path d="M987.73 380.09L989.15 381L991.28 382.56L994.12 384.63L997.47 386.81L1001.34 388.75L1005.79 389.9L1010.14 389.68L1013.79 388.56L1016.95 387.04L1019.81 385.37L1022.45 383.76L1025.07 382.3L1028.06 380.78L1031.41 379.02L1034.8 377.22L1037.95 375.52L1040.6 374.08L1042.51 373.06L1041.59 370.56L1039.47 371.03L1036.52 371.69L1033.03 372.45L1029.32 373.26L1025.68 374.01L1022.31 374.68L1019.09 375.43L1015.95 376.3L1013.11 377.03L1010.71 377.44L1008.99 377.43L1008.2 377.1L1007.5 376.42L1006.14 375L1004.43 372.97L1002.68 370.71L1000.96 368.49L999.55 366.87Z" fill="#60c6c7"/>
<path d="M908.22 280.25L906.85 282.73L904.97 286.06L902.68 290.17L900.11 294.91L897.37 300.17L894.62 305.75L891.74 311.8L888.54 318.54L885.18 325.8L881.83 333.36L878.65 341L875.84 348.49L873.39 355.85L871.14 363.28L869.12 370.7L867.33 378.01L865.81 385.11L864.55 391.92L863.62 398.48L863 404.81L862.66 410.87L862.54 416.64L862.59 422.13L862.77 427.38L863.1 432.53L863.64 437.55L864.36 442.34L865.24 446.86L866.26 451.09L867.48 455.19L869.14 459.25L871.17 462.92L873.22 465.94L875.04 468.32L876.35 469.97L877.15 471.09L893.1 459.51L891.99 458L890.58 456.22L889.21 454.44L887.95 452.6L886.91 450.75L886.08 448.7L885.29 446L884.49 442.68L883.77 439.01L883.18 435.05L882.73 430.86L882.44 426.42L882.29 421.71L882.24 416.76L882.34 411.63L882.64 406.33L883.18 400.84L883.99 395.11L885.12 388.97L886.53 382.43L888.19 375.63L890.08 368.72L892.16 361.81L894.41 355.07L896.97 348.25L899.93 341.14L903.12 333.93L906.38 326.9L909.53 320.26L912.35 314.33L914.95 309.06L917.5 304.15L919.95 299.66L922.16 295.69L924.05 292.33L925.47 289.75Z" fill="#60c6c7"/>
<path d="M932.33 282.6L931.45 286.13L930.23 290.94L928.79 296.69L927.2 303.02L925.56 309.59L923.97 316.05L922.39 322.55L920.75 329.38L919.06 336.44L917.34 343.62L915.63 350.78L913.95 357.82L912.24 364.85L910.49 372L908.74 379.18L907.02 386.27L905.39 393.16L903.9 399.7L902.52 405.88L901.22 411.85L900 417.62L898.88 423.2L897.9 428.62L897.08 433.85L896.44 438.79L895.97 443.41L895.64 447.8L895.44 452.02L895.34 456.16L895.34 459.34L893.2 459.48L906.83 483.66L917.14 457.89L915 458.04L915.03 456.47L915.13 452.73L915.3 449L915.59 445.15L916 441.07L916.58 436.65L917.32 431.91L918.23 426.89L919.29 421.58L920.48 415.99L921.76 410.13L923.12 404.02L924.58 397.62L926.18 390.86L927.88 383.85L929.63 376.69L931.38 369.51L933.1 362.43L934.79 355.36L936.5 348.19L938.21 341.03L939.9 333.98L941.54 327.18L943.11 320.73L944.68 314.32L946.31 307.79L947.89 301.49L949.34 295.75L950.55 290.94L951.44 287.4Z" fill="#7ae7e7"/>
<path d="M957.09 284.6L956.94 288.17L956.78 292.99L956.57 298.68L956.29 304.9L955.92 311.3L955.44 317.56L954.85 323.9L954.17 330.64L953.39 337.59L952.52 344.64L951.57 351.67L950.52 358.59L949.4 365.44L948.21 372.29L946.93 379.1L945.55 385.89L944.04 392.65L942.37 399.38L940.49 406.29L938.4 413.41L936.16 420.55L933.86 427.51L931.56 434.09L929.37 440.03L927.12 445.54L924.68 450.92L922.2 456.04L919.87 460.66L917.85 464.61L916.37 467.61L934.02 476.35L935.44 473.48L937.44 469.57L939.87 464.76L942.52 459.27L945.22 453.32L947.73 447.16L950.1 440.74L952.51 433.84L954.91 426.58L957.25 419.13L959.44 411.66L961.44 404.34L963.21 397.16L964.81 390.01L966.27 382.88L967.59 375.79L968.82 368.72L969.98 361.66L971.07 354.47L972.06 347.17L972.95 339.88L973.75 332.73L974.46 325.82L975.07 319.22L975.58 312.61L975.96 305.91L976.25 299.49L976.46 293.7L976.63 288.9L976.77 285.4Z" fill="#94fafa"/>
<path opacity="0.75" d="M952.04 376.34L951.4 378.56L950.5 381.66L949.43 385.32L948.3 389.2L947.2 392.98L946.21 396.35L945.27 399.5L944.3 402.75L943.35 405.91L942.48 408.8L941.75 411.22L941.21 413L955.92 417.43L956.45 415.66L957.18 413.23L958.06 410.34L959.01 407.16L959.99 403.89L960.94 400.7L961.94 397.31L963.05 393.5L964.18 389.61L965.24 385.95L966.14 382.85L966.79 380.63Z" fill="#e4ffff"/>
</g>
<line x1="634.34" y1="110.18" x2="646.03" y2="108.84" stroke="#1a1a1a" stroke-width="1.5"/>
<path d="M610.63 101.49L632.17 99.82L634.34 120.69L612.3 123.2Z" fill="#FFDE17" stroke="#1a1a1a" stroke-width="1.5" stroke-linejoin="miter"/>
<line x1="691.1" y1="207" x2="701.12" y2="211.18" stroke="#1a1a1a" stroke-width="1.5"/>
<path d="M672.74 188.64L693.61 196.99L686.09 217.02L665.23 209.01Z" fill="#FFDE17" stroke="#1a1a1a" stroke-width="1.5" stroke-linejoin="miter"/>
<line x1="926.86" y1="334.25" x2="936.04" y2="340.93" stroke="#1a1a1a" stroke-width="1.5"/>
<path d="M913.51 311.71L930.2 325.07L918.51 342.6L901.82 329.24Z" fill="#FFDE17" stroke="#1a1a1a" stroke-width="1.5" stroke-linejoin="miter"/>
<line x1="956.91" y1="338.42" x2="965.26" y2="345.1" stroke="#1a1a1a" stroke-width="1.5"/>
<path d="M943.56 315.88L961.09 329.24L947.73 345.93L931.04 331.74Z" fill="#FFDE17" stroke="#1a1a1a" stroke-width="1.5" stroke-linejoin="miter"/>
<line x1="960.25" y1="361.46" x2="971.94" y2="363.13" stroke="#1a1a1a" stroke-width="1.5"/>
<path d="M974.44 353.45L995.31 356.79L991.97 377.65L971.1 374.32Z" fill="#FFDE17" stroke="#1a1a1a" stroke-width="1.5" stroke-linejoin="miter"/>
<text x="680.3" y="101.5" font-size="27.3">T690</text>
<text x="580" y="220.4" font-size="27.3">T703</text>
<text x="798.5" y="326" font-size="27.3">T169</text>
<text x="984.3" y="429.4" font-size="27.3">T268</text>
<text x="984.3" y="462.8" font-size="27.3">T267</text>
<path d="M537.5 13H1096" stroke="#1a1a1a" stroke-width="1.7" stroke-dasharray="13.6 14.8" fill="none"/>
<path d="M538 29.2V568" stroke="#1a1a1a" stroke-width="1.7" stroke-dasharray="13.6 14.8" fill="none"/>
<path d="M1095 24.2V568" stroke="#1a1a1a" stroke-width="1.7" stroke-dasharray="13.6 14.8" fill="none"/>
<path d="M540 567.5H1096" stroke="#1a1a1a" stroke-width="1.7" stroke-dasharray="13.6 14.8" fill="none"/>
</g>
<g id="panel-b">
<defs>
<linearGradient id="gCHO" gradientUnits="userSpaceOnUse" x1="1130" y1="0" x2="1490" y2="0">
<stop offset="0" stop-color="#E4BFAD"/><stop offset="0.14" stop-color="#E5C1AF"/><stop offset="0.37" stop-color="#F7E6D6"/><stop offset="0.70" stop-color="#F7E6D6"/><stop offset="0.91" stop-color="#E5C1AF"/><stop offset="1" stop-color="#E4BFAD"/></linearGradient>
<linearGradient id="gHEK" gradientUnits="userSpaceOnUse" x1="1582" y1="0" x2="2000" y2="0">
<stop offset="0" stop-color="#E4BFAD"/><stop offset="0.13" stop-color="#E5C1AF"/><stop offset="0.35" stop-color="#F7E6D6"/><stop offset="0.68" stop-color="#F7E6D6"/><stop offset="0.93" stop-color="#E5C1AF"/><stop offset="1" stop-color="#E4BFAD"/></linearGradient>
<radialGradient id="gNuc" cx="0.5" cy="0.5" r="0.5">
<stop offset="0" stop-color="#E3ABA3"/><stop offset="0.45" stop-color="#DA9C93"/><stop offset="1" stop-color="#B98176"/></radialGradient>
</defs>
<text x="1128.5" y="40.5" font-size="45" font-weight="bold">b</text>
<text x="1659" y="41.2" font-size="27.5" text-anchor="middle">Split Luciferase Assay</text>
<text x="1310.5" y="37" font-size="26.3" text-anchor="middle">gD</text>
<text x="1404.5" y="37" font-size="26.3" text-anchor="middle">gH</text>
<text x="1253" y="124.2" font-size="26.3" text-anchor="middle">gB</text>
<text x="1364.5" y="126.2" font-size="26.3" text-anchor="middle">gL</text>
<text x="1510.5" y="125" font-size="25.7" text-anchor="middle">Split Lucif. 1/2</text>
<text x="1786.4" y="109.2" font-size="25.7" text-anchor="middle">Split Lucif. 2/2</text>
<circle cx="1312" cy="78.8" r="26.6" fill="none" stroke="#1a1a1a" stroke-width="1.1"/>
<path d="M1335.7 66.72A26.6 26.6 0 0 1 1311.07 105.38" fill="none" stroke="#0080FF" stroke-width="7.6"/>
<path d="M1338.91 65.09l8.6 -4.4l3.2 6.2" fill="none" stroke="#1a1a1a" stroke-width="1"/>
<path d="M1351.61 69.99l-3.6 -2.2l4.8 -1.9z" fill="#1a1a1a"/>
<circle cx="1406.6" cy="74.5" r="27" fill="none" stroke="#1a1a1a" stroke-width="1.1"/>
<path d="M1430.66 62.24A27 27 0 0 1 1405.66 101.48" fill="none" stroke="#BB0AA0" stroke-width="7.6"/>
<path d="M1433.86 60.61l8.6 -4.4l3.2 6.2" fill="none" stroke="#1a1a1a" stroke-width="1"/>
<path d="M1446.56 65.51l-3.6 -2.2l4.8 -1.9z" fill="#1a1a1a"/>
<circle cx="1257.5" cy="164" r="27.4" fill="none" stroke="#1a1a1a" stroke-width="1.1"/>
<path d="M1281.91 151.56A27.4 27.4 0 0 1 1256.54 191.38" fill="none" stroke="#858585" stroke-width="7.6"/>
<path d="M1285.12 149.93l8.6 -4.4l3.2 6.2" fill="none" stroke="#1a1a1a" stroke-width="1"/>
<path d="M1297.82 154.83l-3.6 -2.2l4.8 -1.9z" fill="#1a1a1a"/>
<circle cx="1360.6" cy="167.2" r="27" fill="none" stroke="#1a1a1a" stroke-width="1.1"/>
<path d="M1384.66 154.94A27 27 0 0 1 1359.66 194.18" fill="none" stroke="#9B8AFF" stroke-width="7.6"/>
<path d="M1387.86 153.31l8.6 -4.4l3.2 6.2" fill="none" stroke="#1a1a1a" stroke-width="1"/>
<path d="M1400.56 158.21l-3.6 -2.2l4.8 -1.9z" fill="#1a1a1a"/>
<circle cx="1461.2" cy="164" r="27.4" fill="none" stroke="#1a1a1a" stroke-width="1.1"/>
<path d="M1485.61 151.56A27.4 27.4 0 0 1 1460.24 191.38" fill="none" stroke="#EAFF33" stroke-width="7.6"/>
<path d="M1488.82 149.93l8.6 -4.4l3.2 6.2" fill="none" stroke="#1a1a1a" stroke-width="1"/>
<path d="M1501.52 154.83l-3.6 -2.2l4.8 -1.9z" fill="#1a1a1a"/>
<circle cx="1747" cy="148.5" r="28.6" fill="none" stroke="#1a1a1a" stroke-width="1.1"/>
<path d="M1772.48 135.52A28.6 28.6 0 0 1 1746 177.08" fill="none" stroke="#EAFF33" stroke-width="7.6"/>
<path d="M1775.69 133.88l8.6 -4.4l3.2 6.2" fill="none" stroke="#1a1a1a" stroke-width="1"/>
<path d="M1788.39 138.78l-3.6 -2.2l4.8 -1.9z" fill="#1a1a1a"/>
<path d="M1215.5 190.5C1222 203 1245 206.5 1280 207C1320 207.5 1350 208 1358.6 227C1367 208 1397 207.5 1437 207C1472 206.5 1495 203 1502.3 190.5" fill="none" stroke="#1a1a1a" stroke-width="2.2" stroke-linecap="round"/>
<path d="M1358.6 236.5Q1352.27 229 1347.3 221.5Q1353.51 225.5 1358.6 227Q1363.68 225.5 1369.9 221.5Q1364.93 229 1358.6 236.5Z" fill="#1a1a1a"/>
<path d="M1786 153.7C1812 160 1826 182 1829 208" fill="none" stroke="#1a1a1a" stroke-width="2.2" stroke-linecap="round"/>
<path d="M1829.5 219.5Q1822.42 212.7 1816.69 205.76Q1823.29 209.09 1828.51 210.05Q1833.41 208.03 1839.17 203.4Q1835.01 211.38 1829.5 219.5Z" fill="#1a1a1a"/>
<path d="M1130.5 277C1130.5 270.5 1133.42 263.83 1137 259C1140.58 254.17 1145.67 251 1152 248C1158.33 245 1166.17 242.83 1175 241C1183.83 239.17 1194.17 237.92 1205 237C1215.83 236.08 1228.33 235.67 1240 235.5C1251.67 235.33 1263.33 235.42 1275 236C1286.67 236.58 1298.33 237.5 1310 239C1321.67 240.5 1333.33 242.5 1345 245C1356.67 247.5 1368.83 250.75 1380 254C1391.17 257.25 1402 260.17 1412 264.5C1422 268.83 1431.67 274.08 1440 280C1448.33 285.92 1455.67 292.5 1462 300C1468.33 307.5 1473.83 316.67 1478 325C1482.17 333.33 1484.92 341.17 1487 350C1489.08 358.83 1490.17 369.67 1490.5 378C1490.83 386.33 1490.58 394 1489 400C1487.42 406 1484.5 410.25 1481 414C1477.5 417.75 1472.67 420.83 1468 422.5C1463.33 424.17 1458 424.25 1453 424C1448 423.75 1442.83 422.5 1438 421C1433.17 419.5 1429 416.92 1424 415C1419 413.08 1413.67 410.67 1408 409.5C1402.33 408.33 1396.67 407.83 1390 408C1383.33 408.17 1376.33 409.25 1368 410.5C1359.67 411.75 1349.67 414 1340 415.5C1330.33 417 1320 419.08 1310 419.5C1300 419.92 1289.17 419.75 1280 418C1270.83 416.25 1263.67 413.33 1255 409C1246.33 404.67 1237.17 398.83 1228 392C1218.83 385.17 1208.83 376.17 1200 368C1191.17 359.83 1183 351.33 1175 343C1167 334.67 1158.33 325.5 1152 318C1145.67 310.5 1140.58 304.83 1137 298C1133.42 291.17 1130.5 283.5 1130.5 277Z" fill="url(#gCHO)" stroke="#1a1a1a" stroke-width="2.2"/>
<ellipse cx="1313.7" cy="328.5" rx="78" ry="45.5" transform="rotate(5 1313.7 328.5)" fill="url(#gNuc)" stroke="#1a1a1a" stroke-width="2"/>
<path d="M1582 249C1581.5 246 1583 243.5 1586 243C1620 239.5 1650 241 1676 240C1705 238.5 1730 228 1757 223C1785 218 1806 218.5 1822 233C1850 259 1872 295 1900 329C1928 363 1962 390 1999.5 407.5L1991 419C1960 431 1920 437 1876 440C1840 442.5 1790 443 1750 441.5C1712 440 1680 431 1655 414C1630 396 1610 366 1598 336C1587 308 1582.5 280 1582 249Z" fill="url(#gHEK)" stroke="#1a1a1a" stroke-width="2.2" stroke-linejoin="round"/>
<ellipse cx="1761.9" cy="339.4" rx="78.4" ry="46.3" transform="rotate(20 1761.9 339.4)" fill="url(#gNuc)" stroke="#1a1a1a" stroke-width="2"/>
<ellipse cx="1556.2" cy="309.7" rx="28.6" ry="9.3" transform="rotate(-15.5 1556.2 309.7)" fill="#FBB040" stroke="#1B1464" stroke-width="0.6"/>
<ellipse cx="1561.7" cy="329.3" rx="28.6" ry="9.3" transform="rotate(-15.5 1561.7 329.3)" fill="#FBB040" stroke="#1B1464" stroke-width="0.6"/>
<path d="M1485.3 343.4L1514.5 325.5C1513 316 1518 310 1525.3 310C1531 310 1535.5 314.5 1535 321C1534.5 327 1529 330 1523 329.3L1518 327.5Z" fill="#0080FF" stroke="#1B1464" stroke-width="0.5"/>
<path d="M1485.3 343.6L1521 339C1522 333 1526 331 1531.5 331.2C1537 331.5 1541 335.5 1540.8 341C1540.5 347 1536 350.5 1530.5 350.3C1525 350 1522 346.5 1521 342Z" fill="#0080FF" stroke="#1B1464" stroke-width="0.5"/>
<path d="M1490.2 371.8C1500 370.5 1508 368.5 1515 366.4C1523 362.5 1531 357 1538 353.5C1544 350.5 1549 349.5 1553.7 349.7C1557 352.5 1559 356.5 1559.4 361.9L1557.3 365.5C1549 363.5 1538 366 1528.5 372.2C1516 374.5 1503 375.3 1490.2 375.2Z" fill="#BB0AA0" stroke="#1B1464" stroke-width="0.4"/>
<path d="M1528.9 369L1534.8 365L1550 363.7L1556.4 366.8L1558.6 373.1L1550 379L1538.4 379.4L1529.8 375.8Z" fill="#9B8AFF" stroke="#1B1464" stroke-width="0.5" stroke-linejoin="round"/>
<path d="M1488.5 397.6C1505 392.5 1525 391 1542 389C1546 385 1550 381.5 1555 379.3C1558 378.5 1561 379.5 1562.4 381L1563 384.5L1569 386.2L1570.3 389L1569 396L1563.5 397.8L1556 396.5C1540 396.5 1510 397.5 1488.5 398.2Z" fill="#858585" stroke="#1B1464" stroke-width="0.5" stroke-linejoin="round"/>
<path d="M1488.5 398.6C1505 396.5 1535 395.5 1552 395.3L1560.5 397.5L1564 399L1564 407L1557 410L1553.5 409.5C1549 406.5 1546 403.5 1543.5 401.5C1525 400.8 1505 400 1488.5 398.9Z" fill="#858585" stroke="#1B1464" stroke-width="0.5" stroke-linejoin="round"/>
<path d="M1568.5 404.6C1590 407 1604 425 1606 458" fill="none" stroke="#1a1a1a" stroke-width="2.2" stroke-linecap="round"/>
<path d="M1638.5 402.5C1618 410 1607.5 428 1606 458" fill="none" stroke="#1a1a1a" stroke-width="2.2" stroke-linecap="round"/>
<path d="M1605.7 469.5Q1599.37 462 1594.4 454.5Q1600.62 458.5 1605.7 460Q1610.79 458.5 1617 454.5Q1612.03 462 1605.7 469.5Z" fill="#1a1a1a"/>
<path d="M1421.5 500C1441 488 1452 462 1443 434" fill="none" stroke="#1a1a1a" stroke-width="2.2" stroke-linecap="round"/>
<path d="M1436.5 426.5Q1445.61 430.15 1453.52 434.44Q1446.15 433.83 1440.96 434.89Q1437.17 438.6 1433.56 445.05Q1434.43 436.09 1436.5 426.5Z" fill="#1a1a1a"/>
<path d="M1563.5 516L1606 537.5L1650.5 517L1651 540L1726 529.5L1681 551L1762 551.2L1698.5 562.5L1762 575L1681 574.5L1726 595.5L1650.5 584L1650.5 606L1606 585.5L1563.5 606L1563 584L1480 593L1530 574.5L1436 572L1512 562L1437.5 548.7L1530 551L1480 527.5L1563 540Z" fill="#EAFF33"/>
<text x="1294" y="469.2" font-size="27.4" text-anchor="middle">CHO K1 cells</text>
<text x="1356" y="522" font-size="25.6" text-anchor="middle">EnduRen Substrate</text>
<text x="1609.5" y="501.2" font-size="25.5" text-anchor="middle">Fusion</text>
<text x="1849" y="495" font-size="27.4" text-anchor="middle">HEK293 cells</text>
<text x="1606.6" y="570.5" font-size="25.6" text-anchor="middle">Luminescence</text>
</g>
<g id="charts-bar">
<text x="1.5" y="1150.5" font-size="45" font-weight="bold">c</text>
<text x="324" y="1150.5" font-size="26.7" text-anchor="middle">gB cell surface expression</text>
<text transform="translate(23 1363) rotate(-90)" font-size="24" text-anchor="middle">A450</text>
<rect x="107" y="1364.4" width="35.6" height="160.8" fill="#000000"/>
<line x1="124.8" y1="1359" x2="124.8" y2="1365.4" stroke="#000000" stroke-width="1.6"/>
<line x1="115.3" y1="1359" x2="134.3" y2="1359" stroke="#000000" stroke-width="1.6"/>
<circle cx="112" cy="1370" r="5.2" fill="#7F7F7F"/>
<circle cx="125" cy="1360" r="5.2" fill="#7F7F7F"/>
<circle cx="137.6" cy="1363.4" r="5.2" fill="#7F7F7F"/>
<rect x="160.2" y="1403" width="35.6" height="122.2" fill="#76D6FF"/>
<line x1="178" y1="1381" x2="178" y2="1404" stroke="#76D6FF" stroke-width="1.6"/>
<line x1="168.5" y1="1381" x2="187.5" y2="1381" stroke="#76D6FF" stroke-width="1.6"/>
<circle cx="165.2" cy="1386" r="5.2" fill="#7F7F7F"/>
<circle cx="191" cy="1395.4" r="5.2" fill="#7F7F7F"/>
<circle cx="178" cy="1427" r="5.2" fill="#7F7F7F"/>
<rect x="213.4" y="1441.6" width="35.6" height="83.6" fill="#00FA92"/>
<line x1="231.2" y1="1431" x2="231.2" y2="1442.6" stroke="#00FA92" stroke-width="1.6"/>
<line x1="221.7" y1="1431" x2="240.7" y2="1431" stroke="#00FA92" stroke-width="1.6"/>
<circle cx="218.4" cy="1434" r="5.2" fill="#7F7F7F"/>
<circle cx="244" cy="1437" r="5.2" fill="#7F7F7F"/>
<circle cx="231" cy="1453.4" r="5.2" fill="#7F7F7F"/>
<rect x="266.6" y="1368" width="35.6" height="157.2" fill="#009193"/>
<line x1="284.4" y1="1362" x2="284.4" y2="1369" stroke="#009193" stroke-width="1.6"/>
<line x1="274.9" y1="1362" x2="293.9" y2="1362" stroke="#009193" stroke-width="1.6"/>
<circle cx="271.6" cy="1363.6" r="5.2" fill="#7F7F7F"/>
<circle cx="297" cy="1365" r="5.2" fill="#7F7F7F"/>
<circle cx="271.6" cy="1374" r="5.2" fill="#7F7F7F"/>
<rect x="319.8" y="1493.4" width="35.6" height="31.8" fill="#D4FB79"/>
<line x1="337.6" y1="1486" x2="337.6" y2="1494.4" stroke="#D4FB79" stroke-width="1.6"/>
<line x1="328.1" y1="1486" x2="347.1" y2="1486" stroke="#D4FB79" stroke-width="1.6"/>
<circle cx="325" cy="1498" r="5.2" fill="#7F7F7F"/>
<circle cx="337.5" cy="1486" r="5.2" fill="#7F7F7F"/>
<circle cx="350" cy="1497" r="5.2" fill="#7F7F7F"/>
<rect x="373" y="1498" width="35.6" height="27.2" fill="#0096FF"/>
<line x1="390.8" y1="1496.5" x2="390.8" y2="1499" stroke="#0096FF" stroke-width="1.6"/>
<line x1="381.3" y1="1496.5" x2="400.3" y2="1496.5" stroke="#0096FF" stroke-width="1.6"/>
<circle cx="378" cy="1499" r="5.2" fill="#7F7F7F"/>
<circle cx="390.6" cy="1497.4" r="5.2" fill="#7F7F7F"/>
<circle cx="403" cy="1499" r="5.2" fill="#7F7F7F"/>
<rect x="426.2" y="1261" width="35.6" height="264.2" fill="#FF2600"/>
<line x1="444" y1="1224" x2="444" y2="1262" stroke="#FF2600" stroke-width="1.6"/>
<line x1="434.5" y1="1224" x2="453.5" y2="1224" stroke="#FF2600" stroke-width="1.6"/>
<circle cx="443.6" cy="1233" r="5.2" fill="#7F7F7F"/>
<circle cx="443.6" cy="1246.4" r="5.2" fill="#7F7F7F"/>
<circle cx="443.6" cy="1303.4" r="5.2" fill="#7F7F7F"/>
<rect x="479.4" y="1428.6" width="35.6" height="96.6" fill="#FF2F92"/>
<line x1="497.2" y1="1415.6" x2="497.2" y2="1429.6" stroke="#FF2F92" stroke-width="1.6"/>
<line x1="487.7" y1="1415.6" x2="506.7" y2="1415.6" stroke="#FF2F92" stroke-width="1.6"/>
<circle cx="496.6" cy="1414" r="5.2" fill="#7F7F7F"/>
<circle cx="509.4" cy="1432.4" r="5.2" fill="#7F7F7F"/>
<circle cx="484.2" cy="1438.6" r="5.2" fill="#7F7F7F"/>
<rect x="532.6" y="1308" width="35.6" height="217.2" fill="#FF7E79"/>
<line x1="550.4" y1="1273" x2="550.4" y2="1309" stroke="#FF7E79" stroke-width="1.6"/>
<line x1="540.9" y1="1273" x2="559.9" y2="1273" stroke="#FF7E79" stroke-width="1.6"/>
<circle cx="550" cy="1279" r="5.2" fill="#7F7F7F"/>
<circle cx="550" cy="1297.4" r="5.2" fill="#7F7F7F"/>
<circle cx="550" cy="1346.6" r="5.2" fill="#7F7F7F"/>
<line x1="89.4" y1="1191.35" x2="89.4" y2="1526.85" stroke="#000" stroke-width="3.3"/>
<line x1="75" y1="1525.2" x2="588" y2="1525.2" stroke="#000" stroke-width="3.3"/>
<line x1="75" y1="1525.2" x2="89.4" y2="1525.2" stroke="#000" stroke-width="3.3"/>
<text x="70" y="1533.7" font-size="25.3" text-anchor="end">0.0</text>
<line x1="75" y1="1359.1" x2="89.4" y2="1359.1" stroke="#000" stroke-width="3.3"/>
<text x="70" y="1367.6" font-size="25.3" text-anchor="end">0.5</text>
<line x1="75" y1="1193" x2="89.4" y2="1193" stroke="#000" stroke-width="3.3"/>
<text x="70" y="1201.5" font-size="25.3" text-anchor="end">1.0</text>
<line x1="124.8" y1="1525.2" x2="124.8" y2="1539" stroke="#000" stroke-width="3.3"/>
<line x1="178" y1="1525.2" x2="178" y2="1539" stroke="#000" stroke-width="3.3"/>
<line x1="231.2" y1="1525.2" x2="231.2" y2="1539" stroke="#000" stroke-width="3.3"/>
<line x1="284.4" y1="1525.2" x2="284.4" y2="1539" stroke="#000" stroke-width="3.3"/>
<line x1="337.6" y1="1525.2" x2="337.6" y2="1539" stroke="#000" stroke-width="3.3"/>
<line x1="390.8" y1="1525.2" x2="390.8" y2="1539" stroke="#000" stroke-width="3.3"/>
<line x1="444" y1="1525.2" x2="444" y2="1539" stroke="#000" stroke-width="3.3"/>
<line x1="497.2" y1="1525.2" x2="497.2" y2="1539" stroke="#000" stroke-width="3.3"/>
<line x1="550.4" y1="1525.2" x2="550.4" y2="1539" stroke="#000" stroke-width="3.3"/>
<text transform="translate(131 1561) rotate(-45)" font-size="25.3" text-anchor="end">WT</text>
<text transform="translate(184.2 1561) rotate(-45)" font-size="25.3" text-anchor="end">T169A</text>
<text transform="translate(237.4 1561) rotate(-45)" font-size="25.3" text-anchor="end">T267A</text>
<text transform="translate(290.6 1561) rotate(-45)" font-size="25.3" text-anchor="end">T268A</text>
<text transform="translate(343.8 1561) rotate(-45)" font-size="25.3" text-anchor="end">T267A T268A</text>
<text transform="translate(397 1561) rotate(-45)" font-size="25.3" text-anchor="end">T169A T267A T268A</text>
<text transform="translate(450.2 1561) rotate(-45)" font-size="25.3" text-anchor="end">T690A</text>
<text transform="translate(503.4 1561) rotate(-45)" font-size="25.3" text-anchor="end">T703A</text>
<text transform="translate(556.6 1561) rotate(-45)" font-size="25.3" text-anchor="end">T690A T703A</text>
<text x="447.5" y="1193" font-size="24" text-anchor="middle"><tspan font-style="italic">p</tspan> &lt; 0.0001</text>
<text x="443.6" y="1221.5" font-size="26" text-anchor="middle">****</text>
<text x="558" y="1230" font-size="24" text-anchor="middle"><tspan font-style="italic">p</tspan> = 0.0141</text>
<text x="549.6" y="1265" font-size="26" text-anchor="middle">*</text>
<text transform="translate(238 1320) rotate(-90)" font-size="24" text-anchor="middle"><tspan font-style="italic">p</tspan> = 0.0009</text>
<text x="230.5" y="1414" font-size="26" text-anchor="middle">***</text>
<text transform="translate(343 1356.5) rotate(-90)" font-size="24" text-anchor="middle"><tspan font-style="italic">p</tspan> &lt; 0.0001</text>
<text x="337.6" y="1463" font-size="26" text-anchor="middle">****</text>
<text transform="translate(392 1356.5) rotate(-90)" font-size="24" text-anchor="middle"><tspan font-style="italic">p</tspan> &lt; 0.0001</text>
<text x="388.6" y="1463" font-size="26" text-anchor="middle">****</text>
<text transform="translate(502 1315) rotate(-90)" font-size="24" text-anchor="middle"><tspan font-style="italic">p</tspan> = 0.005</text>
<text x="496.6" y="1403" font-size="26" text-anchor="middle">**</text>
<text x="634" y="1150" font-size="45" font-weight="bold">f</text>
<text x="970" y="1172" font-size="26.7" text-anchor="middle">Cell-cell fusion, <tspan font-style="italic">t</tspan> = 120 min</text>
<text transform="translate(664 1370) rotate(-90)" font-size="24.2" text-anchor="middle">Luminescence, normalized</text>
<rect x="755.2" y="1309.4" width="35.2" height="213.6" fill="#000000"/>
<circle cx="772.8" cy="1277" r="5.2" fill="#7F7F7F"/>
<circle cx="772.8" cy="1342" r="5.2" fill="#7F7F7F"/>
<rect x="808.3" y="1337.6" width="35.2" height="185.4" fill="#76D6FF"/>
<circle cx="825.9" cy="1323.6" r="5.2" fill="#7F7F7F"/>
<circle cx="825.9" cy="1351.6" r="5.2" fill="#7F7F7F"/>
<rect x="861.4" y="1488" width="35.2" height="35" fill="#00FA92"/>
<circle cx="879" cy="1475.7" r="5.2" fill="#7F7F7F"/>
<circle cx="879" cy="1499" r="5.2" fill="#7F7F7F"/>
<rect x="914.5" y="1408" width="35.2" height="115" fill="#009193"/>
<circle cx="932.1" cy="1388" r="5.2" fill="#7F7F7F"/>
<circle cx="932.1" cy="1428" r="5.2" fill="#7F7F7F"/>
<rect x="967.6" y="1496.4" width="35.2" height="26.6" fill="#D4FB79"/>
<circle cx="985.2" cy="1489" r="5.2" fill="#7F7F7F"/>
<circle cx="985.2" cy="1504" r="5.2" fill="#7F7F7F"/>
<rect x="1020.7" y="1500" width="35.2" height="23" fill="#0096FF"/>
<circle cx="1038.3" cy="1490.4" r="5.2" fill="#7F7F7F"/>
<circle cx="1038.3" cy="1508.6" r="5.2" fill="#7F7F7F"/>
<rect x="1073.8" y="1460.2" width="35.2" height="62.8" fill="#FF2600"/>
<circle cx="1091.4" cy="1446" r="5.2" fill="#7F7F7F"/>
<circle cx="1091.4" cy="1474" r="5.2" fill="#7F7F7F"/>
<rect x="1126.9" y="1317" width="35.2" height="206" fill="#FF2F92"/>
<circle cx="1144.5" cy="1297" r="5.2" fill="#7F7F7F"/>
<circle cx="1144.5" cy="1337" r="5.2" fill="#7F7F7F"/>
<rect x="1180" y="1354" width="35.2" height="169" fill="#FF7E79"/>
<circle cx="1197.6" cy="1330.6" r="5.2" fill="#7F7F7F"/>
<circle cx="1197.6" cy="1377" r="5.2" fill="#7F7F7F"/>
<line x1="737.4" y1="1187.75" x2="737.4" y2="1524.65" stroke="#000" stroke-width="3.3"/>
<line x1="723" y1="1523" x2="1235.6" y2="1523" stroke="#000" stroke-width="3.3"/>
<line x1="723" y1="1523" x2="737.4" y2="1523" stroke="#000" stroke-width="3.3"/>
<text x="718" y="1531.5" font-size="25.3" text-anchor="end">0.0</text>
<line x1="723" y1="1439.6" x2="737.4" y2="1439.6" stroke="#000" stroke-width="3.3"/>
<text x="718" y="1448.1" font-size="25.3" text-anchor="end">0.1</text>
<line x1="723" y1="1356.2" x2="737.4" y2="1356.2" stroke="#000" stroke-width="3.3"/>
<text x="718" y="1364.7" font-size="25.3" text-anchor="end">0.2</text>
<line x1="723" y1="1272.8" x2="737.4" y2="1272.8" stroke="#000" stroke-width="3.3"/>
<text x="718" y="1281.3" font-size="25.3" text-anchor="end">0.3</text>
<line x1="723" y1="1189.4" x2="737.4" y2="1189.4" stroke="#000" stroke-width="3.3"/>
<text x="718" y="1197.9" font-size="25.3" text-anchor="end">0.4</text>
<line x1="772.8" y1="1523" x2="772.8" y2="1536.8" stroke="#000" stroke-width="3.3"/>
<line x1="825.9" y1="1523" x2="825.9" y2="1536.8" stroke="#000" stroke-width="3.3"/>
<line x1="879" y1="1523" x2="879" y2="1536.8" stroke="#000" stroke-width="3.3"/>
<line x1="932.1" y1="1523" x2="932.1" y2="1536.8" stroke="#000" stroke-width="3.3"/>
<line x1="985.2" y1="1523" x2="985.2" y2="1536.8" stroke="#000" stroke-width="3.3"/>
<line x1="1038.3" y1="1523" x2="1038.3" y2="1536.8" stroke="#000" stroke-width="3.3"/>
<line x1="1091.4" y1="1523" x2="1091.4" y2="1536.8" stroke="#000" stroke-width="3.3"/>
<line x1="1144.5" y1="1523" x2="1144.5" y2="1536.8" stroke="#000" stroke-width="3.3"/>
<line x1="1197.6" y1="1523" x2="1197.6" y2="1536.8" stroke="#000" stroke-width="3.3"/>
<text transform="translate(779 1559) rotate(-45)" font-size="25.3" text-anchor="end">WT</text>
<text transform="translate(832.1 1559) rotate(-45)" font-size="25.3" text-anchor="end">T169A</text>
<text transform="translate(885.2 1559) rotate(-45)" font-size="25.3" text-anchor="end">T267A</text>
<text transform="translate(938.3 1559) rotate(-45)" font-size="25.3" text-anchor="end">T268A</text>
<text transform="translate(991.4 1559) rotate(-45)" font-size="25.3" text-anchor="end">T267A T268A</text>
<text transform="translate(1044.5 1559) rotate(-45)" font-size="25.3" text-anchor="end">T169A T267A T268A</text>
<text transform="translate(1097.6 1559) rotate(-45)" font-size="25.3" text-anchor="end">T690A</text>
<text transform="translate(1150.7 1559) rotate(-45)" font-size="25.3" text-anchor="end">T703A</text>
<text transform="translate(1203.8 1559) rotate(-45)" font-size="25.3" text-anchor="end">T690A T703A</text>
<text transform="translate(881 1353) rotate(-90)" font-size="24" text-anchor="middle"><tspan font-style="italic">p</tspan> &lt; 0.0001</text>
<text x="879" y="1453" font-size="26" text-anchor="middle">****</text>
<text transform="translate(934.4 1286) rotate(-90)" font-size="24" text-anchor="middle"><tspan font-style="italic">p</tspan> &lt; 0.0001</text>
<text x="932" y="1378" font-size="26" text-anchor="middle">****</text>
<text transform="translate(988.6 1382.5) rotate(-90)" font-size="24" text-anchor="middle"><tspan font-style="italic">p</tspan> &lt; 0.0001</text>
<text x="987" y="1481" font-size="26" text-anchor="middle">****</text>
<text transform="translate(1038.4 1382.5) rotate(-90)" font-size="24" text-anchor="middle"><tspan font-style="italic">p</tspan> &lt; 0.0001</text>
<text x="1038.4" y="1481" font-size="26" text-anchor="middle">****</text>
<text transform="translate(1095.4 1337) rotate(-90)" font-size="24" text-anchor="middle"><tspan font-style="italic">p</tspan> &lt; 0.0001</text>
<text x="1091.6" y="1435" font-size="26" text-anchor="middle">****</text>
<text x="1353" y="1150" font-size="45" font-weight="bold">g</text>
<rect x="1427" y="1188.4" width="32" height="19" fill="#5E5E5E"/>
<rect x="1427" y="1231.4" width="32" height="19" fill="#D6D6D6"/>
<text x="1478" y="1207.4" font-size="26.3">% surface expression</text>
<text x="1478" y="1250.4" font-size="26.3">% fusion 120 min</text>
<rect x="1385.6" y="1402.2" width="22.6" height="119.8" fill="#5E5E5E" stroke="#76D6FF" stroke-width="2.4"/>
<rect x="1414.2" y="1376.8" width="22.6" height="145.2" fill="#D6D6D6" stroke="#76D6FF" stroke-width="2.4"/>
<circle cx="1396.6" cy="1395.6" r="3.3" fill="#000"/>
<circle cx="1396.6" cy="1408.6" r="3.3" fill="#000"/>
<circle cx="1425.4" cy="1365" r="3.3" fill="#000"/>
<circle cx="1425.4" cy="1388.4" r="3.3" fill="#000"/>
<rect x="1459.9" y="1432.6" width="22.6" height="89.4" fill="#5E5E5E" stroke="#00FA92" stroke-width="2.4"/>
<rect x="1488.5" y="1496.2" width="22.6" height="25.8" fill="#D6D6D6" stroke="#00FA92" stroke-width="2.4"/>
<circle cx="1471.4" cy="1429" r="3.3" fill="#000"/>
<circle cx="1471.4" cy="1436" r="3.3" fill="#000"/>
<circle cx="1499.8" cy="1491" r="3.3" fill="#000"/>
<circle cx="1499.8" cy="1501.4" r="3.3" fill="#000"/>
<rect x="1534.2" y="1365.2" width="22.6" height="156.8" fill="#5E5E5E" stroke="#009193" stroke-width="2.4"/>
<rect x="1562.8" y="1433.6" width="22.6" height="88.4" fill="#D6D6D6" stroke="#009193" stroke-width="2.4"/>
<circle cx="1545.4" cy="1359.6" r="3.3" fill="#000"/>
<circle cx="1545.4" cy="1371" r="3.3" fill="#000"/>
<circle cx="1566" cy="1435.6" r="3.3" fill="#000"/>
<circle cx="1582.4" cy="1431.4" r="3.3" fill="#000"/>
<rect x="1608.5" y="1480.6" width="22.6" height="41.4" fill="#5E5E5E" stroke="#D4FB79" stroke-width="2.4"/>
<rect x="1637.1" y="1502.6" width="22.6" height="19.4" fill="#D6D6D6" stroke="#D4FB79" stroke-width="2.4"/>
<circle cx="1619.6" cy="1470.6" r="3.3" fill="#000"/>
<circle cx="1619.6" cy="1489.6" r="3.3" fill="#000"/>
<circle cx="1640" cy="1505.6" r="3.3" fill="#000"/>
<circle cx="1656.6" cy="1499.6" r="3.3" fill="#000"/>
<rect x="1682.8" y="1478.2" width="22.6" height="43.8" fill="#5E5E5E" stroke="#0096FF" stroke-width="2.4"/>
<rect x="1711.4" y="1505.6" width="22.6" height="16.4" fill="#D6D6D6" stroke="#0096FF" stroke-width="2.4"/>
<circle cx="1694" cy="1461.4" r="3.3" fill="#000"/>
<circle cx="1694" cy="1495" r="3.3" fill="#000"/>
<circle cx="1722.6" cy="1501" r="3.3" fill="#000"/>
<circle cx="1722.6" cy="1510" r="3.3" fill="#000"/>
<rect x="1757.1" y="1265.6" width="22.6" height="256.4" fill="#5E5E5E" stroke="#FF2600" stroke-width="2.4"/>
<rect x="1785.7" y="1474.6" width="22.6" height="47.4" fill="#D6D6D6" stroke="#FF2600" stroke-width="2.4"/>
<circle cx="1768.4" cy="1250" r="3.3" fill="#000"/>
<circle cx="1768.4" cy="1282" r="3.3" fill="#000"/>
<circle cx="1797" cy="1470.4" r="3.3" fill="#000"/>
<circle cx="1797" cy="1478" r="3.3" fill="#000"/>
<rect x="1831.4" y="1420.6" width="22.6" height="101.4" fill="#5E5E5E" stroke="#FF2F92" stroke-width="2.4"/>
<rect x="1860" y="1360.6" width="22.6" height="161.4" fill="#D6D6D6" stroke="#FF2F92" stroke-width="2.4"/>
<circle cx="1834.4" cy="1422.6" r="3.3" fill="#000"/>
<circle cx="1851" cy="1418.6" r="3.3" fill="#000"/>
<circle cx="1871" cy="1351.4" r="3.3" fill="#000"/>
<circle cx="1871" cy="1370" r="3.3" fill="#000"/>
<rect x="1905.7" y="1289.2" width="22.6" height="232.8" fill="#5E5E5E" stroke="#FF7E79" stroke-width="2.4"/>
<rect x="1934.3" y="1390.6" width="22.6" height="131.4" fill="#D6D6D6" stroke="#FF7E79" stroke-width="2.4"/>
<circle cx="1917" cy="1280" r="3.3" fill="#000"/>
<circle cx="1917" cy="1298" r="3.3" fill="#000"/>
<circle cx="1937.6" cy="1392.6" r="3.3" fill="#000"/>
<circle cx="1954" cy="1388.2" r="3.3" fill="#000"/>
<line x1="1374" y1="1187.8" x2="1374" y2="1524.2" stroke="#000" stroke-width="4.4"/>
<line x1="1359" y1="1522" x2="1968.6" y2="1522" stroke="#000" stroke-width="4.4"/>
<line x1="1359" y1="1522" x2="1374" y2="1522" stroke="#000" stroke-width="4.4"/>
<text x="1354" y="1530.5" font-size="25.3" text-anchor="end">0</text>
<line x1="1359" y1="1439" x2="1374" y2="1439" stroke="#000" stroke-width="4.4"/>
<text x="1354" y="1447.5" font-size="25.3" text-anchor="end">50</text>
<line x1="1359" y1="1356" x2="1374" y2="1356" stroke="#000" stroke-width="4.4"/>
<text x="1354" y="1364.5" font-size="25.3" text-anchor="end">100</text>
<line x1="1359" y1="1273" x2="1374" y2="1273" stroke="#000" stroke-width="4.4"/>
<text x="1354" y="1281.5" font-size="25.3" text-anchor="end">150</text>
<line x1="1359" y1="1190" x2="1374" y2="1190" stroke="#000" stroke-width="4.4"/>
<text x="1354" y="1198.5" font-size="25.3" text-anchor="end">200</text>
<line x1="1411.2" y1="1522" x2="1411.2" y2="1538" stroke="#000" stroke-width="4.4"/>
<line x1="1485.5" y1="1522" x2="1485.5" y2="1538" stroke="#000" stroke-width="4.4"/>
<line x1="1559.8" y1="1522" x2="1559.8" y2="1538" stroke="#000" stroke-width="4.4"/>
<line x1="1634.1" y1="1522" x2="1634.1" y2="1538" stroke="#000" stroke-width="4.4"/>
<line x1="1708.4" y1="1522" x2="1708.4" y2="1538" stroke="#000" stroke-width="4.4"/>
<line x1="1782.7" y1="1522" x2="1782.7" y2="1538" stroke="#000" stroke-width="4.4"/>
<line x1="1857" y1="1522" x2="1857" y2="1538" stroke="#000" stroke-width="4.4"/>
<line x1="1931.3" y1="1522" x2="1931.3" y2="1538" stroke="#000" stroke-width="4.4"/>
<text transform="translate(1417.4 1559) rotate(-45)" font-size="25.3" text-anchor="end">T169A</text>
<text transform="translate(1491.7 1559) rotate(-45)" font-size="25.3" text-anchor="end">T267A</text>
<text transform="translate(1566 1559) rotate(-45)" font-size="25.3" text-anchor="end">T268A</text>
<text transform="translate(1640.3 1559) rotate(-45)" font-size="25.3" text-anchor="end">T267A T268A</text>
<text transform="translate(1714.6 1559) rotate(-45)" font-size="25.3" text-anchor="end">T169A T267A T268A</text>
<text transform="translate(1788.9 1559) rotate(-45)" font-size="25.3" text-anchor="end">T690A</text>
<text transform="translate(1863.2 1559) rotate(-45)" font-size="25.3" text-anchor="end">T703A</text>
<text transform="translate(1937.5 1559) rotate(-45)" font-size="25.3" text-anchor="end">T690A T703A</text>
</g>
<g id="charts-line">
<polyline fill="none" stroke="#76D6FF" stroke-width="1.2" points="718,1033.4 722.54,1033.2 727.07,1033.01 731.61,1032.86 736.15,1032.71 740.68,1032.58 745.22,1032.43 749.76,1032.29 754.29,1032.13 758.83,1031.95 763.37,1031.77 767.9,1031.5 772.44,1031.24 776.98,1030.89 781.51,1030.55 786.05,1030.1 790.59,1029.68 795.12,1029.12 799.66,1028.49 804.2,1028.02 808.73,1027.37 813.27,1026.84 817.81,1026.16 822.34,1025.5 826.88,1024.55 831.42,1023.93 835.95,1023.06 840.49,1022.45 845.03,1021.45 849.56,1020.6 854.1,1019.47 858.64,1018.43 863.17,1017.06 867.71,1016.15 872.25,1015.08 876.78,1013.58 881.32,1012.85 885.86,1011.54 890.39,1010.38 894.93,1008.37 899.47,1007.21 904,1005.4 908.54,1004.22 913.08,1002.93 917.61,1001.9 922.15,1000.2 926.69,998.28 931.22,996.61 935.76,994.33 940.3,992.76 944.83,991.2 949.37,989.55 953.91,986.89 958.44,984.82 962.98,983 967.52,980.81 972.05,978.89 976.59,976.99 981.13,974.2 985.66,973.51 990.2,971.53 994.74,968.34 999.27,966.79 1003.81,964.18 1008.35,962.8 1012.88,960.36 1017.42,958.35 1021.96,956.16 1026.49,954.12 1031.03,951.98 1035.57,950.23 1040.1,947.69 1044.64,945.15 1049.18,943.19 1053.71,940.67 1058.25,939.22 1062.79,936.05 1067.32,935.17 1071.86,931.05 1076.4,928.9 1080.93,927.08 1085.47,924.68 1090.01,921.76 1094.54,920.07 1099.08,917.22 1103.62,915.13 1108.15,912.01 1112.69,909.87 1117.23,906.71 1121.76,904.83 1126.3,901.7 1130.84,899.58 1135.37,896.5 1139.91,894.53 1144.45,891.86 1148.98,889.59 1153.52,887.25 1158.06,884.35 1162.59,882.52 1167.13,879.02 1171.67,876.64 1176.2,873.83 1180.74,872.3 1185.28,868.87 1189.81,866.2 1194.35,864.88 1198.89,862.13 1203.42,858.57 1207.96,856.75 1212.5,853 1217.03,850.74 1221.57,848.68 1226.11,845.78 1230.64,842.61 1235.18,840.51 1239.72,837.39 1244.25,834.66 1248.79,832.08 1253.33,830.07 1257.86,827.11 1262.4,824.93"/>
<path d="M718 1033.4h0M722.54 1033.18h0M727.07 1032.99h0M731.61 1032.83h0M736.15 1032.65h0M740.68 1032.51h0M745.22 1032.35h0M749.76 1032.22h0M754.29 1032.05h0M758.83 1031.88h0M763.37 1031.65h0M767.9 1031.4h0M772.44 1031.12h0M776.98 1030.67h0M781.51 1030.33h0M786.05 1029.8h0M790.59 1029.4h0M795.12 1028.77h0M799.66 1028.08h0M804.2 1027.6h0M808.73 1026.74h0M813.27 1026.21h0M817.81 1025.4h0M822.34 1024.75h0M826.88 1023.69h0M831.42 1022.81h0M835.95 1021.88h0M840.49 1021.41h0M845.03 1020.22h0M849.56 1019.41h0M854.1 1018.03h0M858.64 1016.95h0M863.17 1015.69h0M867.71 1014.82h0M872.25 1013.6h0M876.78 1012.09h0M881.32 1011.6h0M885.86 1010.06h0M890.39 1008.99h0M894.93 1006.52h0M899.47 1005.66h0M904 1003.62h0M908.54 1002.21h0M913.08 1000.66h0M917.61 1000.08h0M922.15 997.97h0M926.69 995.93h0M931.22 995.01h0M935.76 992.46h0M940.3 990.3h0M944.83 988.86h0M949.37 987.23h0M953.91 984.44h0M958.44 982.33h0M962.98 980.21h0M967.52 978.26h0M972.05 976.64h0M976.59 975.01h0M981.13 972.14h0M985.66 971.59h0M990.2 969.93h0M994.74 966.16h0M999.27 964.05h0M1003.81 962.21h0M1008.35 961.14h0M1012.88 958.19h0M1017.42 956.37h0M1021.96 953.76h0M1026.49 951.8h0M1031.03 950.03h0M1035.57 947.66h0M1040.1 945.26h0M1044.64 943.32h0M1049.18 940.58h0M1053.71 938.38h0M1058.25 937.78h0M1062.79 933.89h0M1067.32 933.3h0M1071.86 929.03h0M1076.4 926.5h0M1080.93 924.42h0M1085.47 922.44h0M1090.01 919.86h0M1094.54 918.12h0M1099.08 914.65h0M1103.62 912.95h0M1108.15 909.57h0M1112.69 907.3h0M1117.23 904.3h0M1121.76 902.59h0M1126.3 899.22h0M1130.84 897.26h0M1135.37 894.55h0M1139.91 891.82h0M1144.45 889.18h0M1148.98 886.69h0M1153.52 884.95h0M1158.06 881.79h0M1162.59 880.09h0M1167.13 876.15h0M1171.67 873.73h0M1176.2 871.4h0M1180.74 868.97h0M1185.28 866.47h0M1189.81 862.74h0M1194.35 861.48h0M1198.89 858.64h0M1203.42 855.22h0M1207.96 853.16h0M1212.5 849.33h0M1217.03 846.66h0M1221.57 845.26h0M1226.11 842.15h0M1230.64 838.81h0M1235.18 836.77h0M1239.72 833.43h0M1244.25 830.27h0M1248.79 827.42h0M1253.33 825.34h0M1257.86 822.19h0M1262.4 820.67h0" stroke="#76D6FF" stroke-width="4.8" stroke-linecap="round" fill="none"/>
<path d="M718 1033.4h0M722.54 1033.21h0M727.07 1033.04h0M731.61 1032.89h0M736.15 1032.77h0M740.68 1032.65h0M745.22 1032.51h0M749.76 1032.36h0M754.29 1032.21h0M758.83 1032.03h0M763.37 1031.88h0M767.9 1031.61h0M772.44 1031.36h0M776.98 1031.11h0M781.51 1030.77h0M786.05 1030.41h0M790.59 1029.96h0M795.12 1029.47h0M799.66 1028.9h0M804.2 1028.44h0M808.73 1028h0M813.27 1027.47h0M817.81 1026.92h0M822.34 1026.25h0M826.88 1025.41h0M831.42 1025.06h0M835.95 1024.23h0M840.49 1023.48h0M845.03 1022.68h0M849.56 1021.79h0M854.1 1020.91h0M858.64 1019.92h0M863.17 1018.43h0M867.71 1017.47h0M872.25 1016.56h0M876.78 1015.06h0M881.32 1014.09h0M885.86 1013.02h0M890.39 1011.77h0M894.93 1010.22h0M899.47 1008.76h0M904 1007.18h0M908.54 1006.22h0M913.08 1005.2h0M917.61 1003.71h0M922.15 1002.42h0M926.69 1000.64h0M931.22 998.22h0M935.76 996.2h0M940.3 995.21h0M944.83 993.54h0M949.37 991.88h0M953.91 989.33h0M958.44 987.32h0M962.98 985.8h0M967.52 983.35h0M972.05 981.14h0M976.59 978.97h0M981.13 976.25h0M985.66 975.43h0M990.2 973.14h0M994.74 970.53h0M999.27 969.52h0M1003.81 966.14h0M1008.35 964.46h0M1012.88 962.53h0M1017.42 960.33h0M1021.96 958.57h0M1026.49 956.44h0M1031.03 953.92h0M1035.57 952.79h0M1040.1 950.11h0M1044.64 946.97h0M1049.18 945.79h0M1053.71 942.96h0M1058.25 940.67h0M1062.79 938.2h0M1067.32 937.03h0M1071.86 933.07h0M1076.4 931.3h0M1080.93 929.74h0M1085.47 926.92h0M1090.01 923.67h0M1094.54 922.01h0M1099.08 919.8h0M1103.62 917.3h0M1108.15 914.44h0M1112.69 912.43h0M1117.23 909.12h0M1121.76 907.06h0M1126.3 904.18h0M1130.84 901.91h0M1135.37 898.45h0M1139.91 897.24h0M1144.45 894.54h0M1148.98 892.5h0M1153.52 889.56h0M1158.06 886.91h0M1162.59 884.95h0M1167.13 881.88h0M1171.67 879.56h0M1176.2 876.27h0M1180.74 875.64h0M1185.28 871.26h0M1189.81 869.66h0M1194.35 868.28h0M1198.89 865.62h0M1203.42 861.93h0M1207.96 860.35h0M1212.5 856.66h0M1217.03 854.81h0M1221.57 852.09h0M1226.11 849.42h0M1230.64 846.41h0M1235.18 844.25h0M1239.72 841.36h0M1244.25 839.04h0M1248.79 836.74h0M1253.33 834.79h0M1257.86 832.03h0M1262.4 829.19h0" stroke="#76D6FF" stroke-width="4.8" stroke-linecap="round" fill="none"/>
<polyline fill="none" stroke="#000000" stroke-width="1.2" points="718,1033.4 722.54,1033.22 727.07,1033.07 731.61,1032.94 736.15,1032.82 740.68,1032.72 745.22,1032.6 749.76,1032.49 754.29,1032.35 758.83,1032.18 763.37,1032.02 767.9,1031.83 772.44,1031.57 776.98,1031.26 781.51,1030.88 786.05,1030.46 790.59,1030.04 795.12,1029.6 799.66,1028.97 804.2,1028.49 808.73,1027.97 813.27,1027.2 817.81,1026.7 822.34,1026.04 826.88,1025.31 831.42,1024.56 835.95,1023.78 840.49,1022.74 845.03,1021.81 849.56,1021.06 854.1,1020.22 858.64,1018.9 863.17,1017.87 867.71,1016.55 872.25,1015.42 876.78,1014.3 881.32,1013.47 885.86,1011.95 890.39,1010.82 894.93,1009.21 899.47,1007.97 904,1006.47 908.54,1004.18 913.08,1003.19 917.61,1001.02 922.15,998.85 926.69,997.94 931.22,995.61 935.76,993.83 940.3,992.05 944.83,990.01 949.37,986.48 953.91,985.17 958.44,982.4 962.98,980.71 967.52,977.82 972.05,974.34 976.59,973.27 981.13,970.02 985.66,967.84 990.2,964.75 994.74,961.77 999.27,959.66 1003.81,956.73 1008.35,954.13 1012.88,950.93 1017.42,948.53 1021.96,946.5 1026.49,943.49 1031.03,939.92 1035.57,937.63 1040.1,933.95 1044.64,931.55 1049.18,928.38 1053.71,923.89 1058.25,922.31 1062.79,918.78 1067.32,914.96 1071.86,912.2 1076.4,909.54 1080.93,906.12 1085.47,903.14 1090.01,899.19 1094.54,895.68 1099.08,892.34 1103.62,888.79 1108.15,884.91 1112.69,881.68 1117.23,878.96 1121.76,876.32 1126.3,872.57 1130.84,868.89 1135.37,866.56 1139.91,862.85 1144.45,859.38 1148.98,855.87 1153.52,852.79 1158.06,849.89 1162.59,846.53 1167.13,842.5 1171.67,838.92 1176.2,835.65 1180.74,832.74 1185.28,829.62 1189.81,826.29 1194.35,823.38 1198.89,820.58 1203.42,817.26 1207.96,814.7 1212.5,811.34 1217.03,808.18 1221.57,805.09 1226.11,803.04 1230.64,799.72 1235.18,796.34 1239.72,794.44 1244.25,791.85 1248.79,789.04 1253.33,785.85 1257.86,782.16 1262.4,780.05"/>
<path d="M718 1033.4h0M722.54 1033.17h0M727.07 1032.97h0M731.61 1032.81h0M736.15 1032.67h0M740.68 1032.52h0M745.22 1032.38h0M749.76 1032.24h0M754.29 1032.05h0M758.83 1031.83h0M763.37 1031.64h0M767.9 1031.4h0M772.44 1031.04h0M776.98 1030.64h0M781.51 1030.15h0M786.05 1029.52h0M790.59 1029h0M795.12 1028.38h0M799.66 1027.51h0M804.2 1026.85h0M808.73 1026.03h0M813.27 1024.95h0M817.81 1024.3h0M822.34 1023.3h0M826.88 1022.3h0M831.42 1021.48h0M835.95 1020.39h0M840.49 1018.83h0M845.03 1017.78h0M849.56 1016.83h0M854.1 1015.73h0M858.64 1013.99h0M863.17 1012.99h0M867.71 1011.19h0M872.25 1009.66h0M876.78 1008.45h0M881.32 1007.8h0M885.86 1005.9h0M890.39 1004.6h0M894.93 1002.45h0M899.47 1001.58h0M904 999.52h0M908.54 996.73h0M913.08 995.5h0M917.61 993.33h0M922.15 991.03h0M926.69 989.64h0M931.22 987.38h0M935.76 985.3h0M940.3 983.34h0M944.83 981.05h0M949.37 977.28h0M953.91 975.52h0M958.44 972.09h0M962.98 970.73h0M967.52 966.99h0M972.05 964.23h0M976.59 962.71h0M981.13 959.05h0M985.66 957.54h0M990.2 953.75h0M994.74 950.85h0M999.27 949.23h0M1003.81 945.78h0M1008.35 943.87h0M1012.88 939.79h0M1017.42 937.99h0M1021.96 936.22h0M1026.49 933.49h0M1031.03 929.21h0M1035.57 927.61h0M1040.1 924.71h0M1044.64 921.81h0M1049.18 918.75h0M1053.71 914.4h0M1058.25 913.15h0M1062.79 910.11h0M1067.32 906.27h0M1071.86 902.19h0M1076.4 900.57h0M1080.93 897.31h0M1085.47 894.04h0M1090.01 889.36h0M1094.54 887.66h0M1099.08 884.21h0M1103.62 880.03h0M1108.15 876.43h0M1112.69 872.88h0M1117.23 870.14h0M1121.76 867.7h0M1126.3 864.68h0M1130.84 861.26h0M1135.37 858.88h0M1139.91 855.75h0M1144.45 852.04h0M1148.98 850.1h0M1153.52 847.31h0M1158.06 844.69h0M1162.59 841.4h0M1167.13 838.51h0M1171.67 834.12h0M1176.2 831.27h0M1180.74 828.93h0M1185.28 826.7h0M1189.81 823.21h0M1194.35 820.36h0M1198.89 817.94h0M1203.42 815.28h0M1207.96 812.93h0M1212.5 809.31h0M1217.03 807.23h0M1221.57 803.64h0M1226.11 802.12h0M1230.64 798.17h0M1235.18 795.7h0M1239.72 793.42h0M1244.25 791.6h0M1248.79 788.64h0M1253.33 785.15h0M1257.86 781.87h0M1262.4 779.47h0" stroke="#000000" stroke-width="4.8" stroke-linecap="round" fill="none"/>
<path d="M718 1033.4h0M722.54 1033.28h0M727.07 1033.17h0M731.61 1033.06h0M736.15 1032.98h0M740.68 1032.91h0M745.22 1032.82h0M749.76 1032.75h0M754.29 1032.65h0M758.83 1032.53h0M763.37 1032.4h0M767.9 1032.25h0M772.44 1032.09h0M776.98 1031.88h0M781.51 1031.61h0M786.05 1031.41h0M790.59 1031.07h0M795.12 1030.82h0M799.66 1030.43h0M804.2 1030.12h0M808.73 1029.9h0M813.27 1029.45h0M817.81 1029.11h0M822.34 1028.78h0M826.88 1028.32h0M831.42 1027.63h0M835.95 1027.18h0M840.49 1026.65h0M845.03 1025.85h0M849.56 1025.29h0M854.1 1024.7h0M858.64 1023.81h0M863.17 1022.75h0M867.71 1021.91h0M872.25 1021.18h0M876.78 1020.15h0M881.32 1019.14h0M885.86 1018.01h0M890.39 1017.03h0M894.93 1015.97h0M899.47 1014.36h0M904 1013.43h0M908.54 1011.63h0M913.08 1010.88h0M917.61 1008.72h0M922.15 1006.67h0M926.69 1006.23h0M931.22 1003.84h0M935.76 1002.36h0M940.3 1000.76h0M944.83 998.98h0M949.37 995.69h0M953.91 994.81h0M958.44 992.71h0M962.98 990.69h0M967.52 988.65h0M972.05 984.46h0M976.59 983.83h0M981.13 980.99h0M985.66 978.15h0M990.2 975.76h0M994.74 972.69h0M999.27 970.09h0M1003.81 967.68h0M1008.35 964.38h0M1012.88 962.07h0M1017.42 959.07h0M1021.96 956.79h0M1026.49 953.49h0M1031.03 950.64h0M1035.57 947.65h0M1040.1 943.19h0M1044.64 941.28h0M1049.18 938.02h0M1053.71 933.37h0M1058.25 931.48h0M1062.79 927.44h0M1067.32 923.64h0M1071.86 922.2h0M1076.4 918.5h0M1080.93 914.93h0M1085.47 912.23h0M1090.01 909.02h0M1094.54 903.7h0M1099.08 900.48h0M1103.62 897.55h0M1108.15 893.39h0M1112.69 890.48h0M1117.23 887.78h0M1121.76 884.95h0M1126.3 880.47h0M1130.84 876.51h0M1135.37 874.23h0M1139.91 869.95h0M1144.45 866.73h0M1148.98 861.63h0M1153.52 858.28h0M1158.06 855.09h0M1162.59 851.65h0M1167.13 846.49h0M1171.67 843.72h0M1176.2 840.04h0M1180.74 836.56h0M1185.28 832.54h0M1189.81 829.36h0M1194.35 826.4h0M1198.89 823.22h0M1203.42 819.25h0M1207.96 816.46h0M1212.5 813.37h0M1217.03 809.12h0M1221.57 806.53h0M1226.11 803.96h0M1230.64 801.26h0M1235.18 796.98h0M1239.72 795.45h0M1244.25 792.1h0M1248.79 789.44h0M1253.33 786.54h0M1257.86 782.44h0M1262.4 780.63h0" stroke="#000000" stroke-width="4.8" stroke-linecap="round" fill="none"/>
<polyline fill="none" stroke="#009193" stroke-width="1.2" points="718,1033.4 722.54,1033.26 727.07,1033.13 731.61,1033.02 736.15,1032.9 740.68,1032.8 745.22,1032.69 749.76,1032.59 754.29,1032.47 758.83,1032.35 763.37,1032.21 767.9,1032.04 772.44,1031.86 776.98,1031.62 781.51,1031.4 786.05,1031.11 790.59,1030.85 795.12,1030.5 799.66,1030.1 804.2,1029.82 808.73,1029.39 813.27,1029.07 817.81,1028.64 822.34,1028.25 826.88,1027.65 831.42,1027.25 835.95,1026.72 840.49,1026.37 845.03,1025.75 849.56,1025.23 854.1,1024.52 858.64,1023.87 863.17,1023.03 867.71,1022.46 872.25,1021.77 876.78,1020.82 881.32,1020.39 885.86,1019.54 890.39,1018.83 894.93,1017.51 899.47,1016.85 904,1015.71 908.54,1014.99 913.08,1014.2 917.61,1013.7 922.15,1012.68 926.69,1011.6 931.22,1010.82 935.76,1009.57 940.3,1008.72 944.83,1008 949.37,1007.22 953.91,1005.78 958.44,1004.73 962.98,1003.8 967.52,1002.69 972.05,1001.77 976.59,1000.85 981.13,999.13 985.66,999.11 990.2,998.04 994.74,995.76 999.27,994.85 1003.81,993.17 1008.35,992.48 1012.88,990.75 1017.42,989.46 1021.96,987.95 1026.49,986.61 1031.03,985.17 1035.57,984.12 1040.1,982.29 1044.64,980.48 1049.18,979.27 1053.71,977.53 1058.25,976.88 1062.79,974.54 1067.32,974.51 1071.86,971.27 1076.4,970.02 1080.93,969.1 1085.47,967.62 1090.01,965.63 1094.54,964.86 1099.08,962.94 1103.62,961.77 1108.15,959.57 1112.69,958.34 1117.23,956.07 1121.76,955.07 1126.3,952.8 1130.84,951.52 1135.37,949.27 1139.91,948.11 1144.45,946.24 1148.98,944.78 1153.52,943.22 1158.06,941.11 1162.59,940.05 1167.13,937.33 1171.67,935.74 1176.2,933.7 1180.74,932.95 1185.28,930.3 1189.81,928.43 1194.35,927.9 1198.89,925.95 1203.42,923.19 1207.96,922.18 1212.5,919.22 1217.03,917.77 1221.57,916.51 1226.11,914.41 1230.64,912.05 1235.18,910.75 1239.72,908.44 1244.25,906.51 1248.79,904.74 1253.33,903.52 1257.86,901.37 1262.4,900"/>
<path d="M718 1033.4h0M722.54 1033.21h0M727.07 1033.04h0M731.61 1032.88h0M736.15 1032.71h0M740.68 1032.58h0M745.22 1032.42h0M749.76 1032.3h0M754.29 1032.14h0M758.83 1031.98h0M763.37 1031.78h0M767.9 1031.57h0M772.44 1031.35h0M776.98 1030.98h0M781.51 1030.72h0M786.05 1030.31h0M790.59 1030.03h0M795.12 1029.57h0M799.66 1029.05h0M804.2 1028.73h0M808.73 1028.11h0M813.27 1027.74h0M817.81 1027.16h0M822.34 1026.72h0M826.88 1025.95h0M831.42 1025.33h0M835.95 1024.66h0M840.49 1024.34h0M845.03 1023.48h0M849.56 1022.89h0M854.1 1021.87h0M858.64 1021.06h0M863.17 1020.1h0M867.71 1019.42h0M872.25 1018.45h0M876.78 1017.27h0M881.32 1016.85h0M885.86 1015.64h0M890.39 1014.8h0M894.93 1012.9h0M899.47 1012.25h0M904 1010.72h0M908.54 1009.7h0M913.08 1008.6h0M917.61 1008.28h0M922.15 1006.83h0M926.69 1005.49h0M931.22 1005.01h0M935.76 1003.37h0M940.3 1002.06h0M944.83 1001.29h0M949.37 1000.42h0M953.91 998.64h0M958.44 997.4h0M962.98 996.15h0M967.52 995.05h0M972.05 994.25h0M976.59 993.45h0M981.13 991.45h0M985.66 991.7h0M990.2 990.85h0M994.74 987.86h0M999.27 986.53h0M1003.81 985.45h0M1008.35 985.14h0M1012.88 982.94h0M1017.42 981.88h0M1021.96 980.02h0M1026.49 978.81h0M1031.03 977.8h0M1035.57 976.19h0M1040.1 974.55h0M1044.64 973.39h0M1049.18 971.44h0M1053.71 970.03h0M1058.25 970.24h0M1062.79 967.17h0M1067.32 967.42h0M1071.86 963.99h0M1076.4 962.31h0M1080.93 961.09h0M1085.47 959.97h0M1090.01 958.26h0M1094.54 957.4h0M1099.08 954.8h0M1103.62 953.98h0M1108.15 951.48h0M1112.69 950.09h0M1117.23 947.96h0M1121.76 947.12h0M1126.3 944.61h0M1130.84 943.52h0M1135.37 941.69h0M1139.91 939.85h0M1144.45 938.1h0M1148.98 936.5h0M1153.52 935.65h0M1158.06 933.39h0M1162.59 932.57h0M1167.13 929.51h0M1171.67 927.95h0M1176.2 926.48h0M1180.74 924.89h0M1185.28 923.21h0M1189.81 920.29h0M1194.35 919.81h0M1198.89 917.72h0M1203.42 915.04h0M1207.96 913.69h0M1212.5 910.57h0M1217.03 908.58h0M1221.57 907.85h0M1226.11 905.39h0M1230.64 902.71h0M1235.18 901.32h0M1239.72 898.62h0M1244.25 896.11h0M1248.79 893.91h0M1253.33 892.48h0M1257.86 890h0M1262.4 889.14h0" stroke="#009193" stroke-width="4.8" stroke-linecap="round" fill="none"/>
<path d="M718 1033.4h0M722.54 1033.3h0M727.07 1033.22h0M731.61 1033.15h0M736.15 1033.08h0M740.68 1033.02h0M745.22 1032.96h0M749.76 1032.88h0M754.29 1032.81h0M758.83 1032.72h0M763.37 1032.64h0M767.9 1032.5h0M772.44 1032.38h0M776.98 1032.26h0M781.51 1032.08h0M786.05 1031.9h0M790.59 1031.68h0M795.12 1031.43h0M799.66 1031.14h0M804.2 1030.9h0M808.73 1030.68h0M813.27 1030.4h0M817.81 1030.13h0M822.34 1029.78h0M826.88 1029.36h0M831.42 1029.18h0M835.95 1028.77h0M840.49 1028.4h0M845.03 1028.01h0M849.56 1027.58h0M854.1 1027.16h0M858.64 1026.68h0M863.17 1025.96h0M867.71 1025.51h0M872.25 1025.09h0M876.78 1024.37h0M881.32 1023.92h0M885.86 1023.43h0M890.39 1022.85h0M894.93 1022.12h0M899.47 1021.44h0M904 1020.7h0M908.54 1020.27h0M913.08 1019.81h0M917.61 1019.12h0M922.15 1018.53h0M926.69 1017.72h0M931.22 1016.63h0M935.76 1015.76h0M940.3 1015.39h0M944.83 1014.7h0M949.37 1014.02h0M953.91 1012.92h0M958.44 1012.06h0M962.98 1011.45h0M967.52 1010.33h0M972.05 1009.3h0M976.59 1008.24h0M981.13 1006.8h0M985.66 1006.51h0M990.2 1005.23h0M994.74 1003.66h0M999.27 1003.17h0M1003.81 1000.89h0M1008.35 999.83h0M1012.88 998.56h0M1017.42 997.04h0M1021.96 995.88h0M1026.49 994.4h0M1031.03 992.54h0M1035.57 992.04h0M1040.1 990.03h0M1044.64 987.57h0M1049.18 987.11h0M1053.71 985.02h0M1058.25 983.53h0M1062.79 981.9h0M1067.32 981.6h0M1071.86 978.56h0M1076.4 977.72h0M1080.93 977.12h0M1085.47 975.27h0M1090.01 973h0M1094.54 972.32h0M1099.08 971.09h0M1103.62 969.56h0M1108.15 967.66h0M1112.69 966.59h0M1117.23 964.19h0M1121.76 963.02h0M1126.3 960.98h0M1130.84 959.52h0M1135.37 956.84h0M1139.91 956.37h0M1144.45 954.39h0M1148.98 953.05h0M1153.52 950.8h0M1158.06 948.83h0M1162.59 947.54h0M1167.13 945.16h0M1171.67 943.52h0M1176.2 940.93h0M1180.74 941.02h0M1185.28 937.39h0M1189.81 936.57h0M1194.35 935.99h0M1198.89 934.17h0M1203.42 931.35h0M1207.96 930.66h0M1212.5 927.88h0M1217.03 926.95h0M1221.57 925.16h0M1226.11 923.43h0M1230.64 921.38h0M1235.18 920.19h0M1239.72 918.26h0M1244.25 916.9h0M1248.79 915.56h0M1253.33 914.57h0M1257.86 912.75h0M1262.4 910.85h0" stroke="#009193" stroke-width="4.8" stroke-linecap="round" fill="none"/>
<polyline fill="none" stroke="#00FA92" stroke-width="1.2" points="718,1033.4 722.54,1033.32 727.07,1033.24 731.61,1033.17 736.15,1033.1 740.68,1033.03 745.22,1032.97 749.76,1032.9 754.29,1032.83 758.83,1032.74 763.37,1032.66 767.9,1032.57 772.44,1032.47 776.98,1032.38 781.51,1032.25 786.05,1032.13 790.59,1031.99 795.12,1031.86 799.66,1031.7 804.2,1031.51 808.73,1031.4 813.27,1031.21 817.81,1031.01 822.34,1030.81 826.88,1030.65 831.42,1030.41 835.95,1030.27 840.49,1030 845.03,1029.82 849.56,1029.56 854.1,1029.36 858.64,1029 863.17,1028.81 867.71,1028.65 872.25,1028.21 876.78,1027.93 881.32,1027.75 885.86,1027.53 890.39,1027.08 894.93,1026.8 899.47,1026.55 904,1026.21 908.54,1025.81 913.08,1025.57 917.61,1025.49 922.15,1025.17 926.69,1024.75 931.22,1024.49 935.76,1024.27 940.3,1023.83 944.83,1023.6 949.37,1023.2 953.91,1022.92 958.44,1022.8 962.98,1022.35 967.52,1021.96 972.05,1021.62 976.59,1021.53 981.13,1020.89 985.66,1020.71 990.2,1020.31 994.74,1020.03 999.27,1019.76 1003.81,1019.39 1008.35,1019.03 1012.88,1018.69 1017.42,1018.69 1021.96,1018.57 1026.49,1017.77 1031.03,1017.8 1035.57,1017.28 1040.1,1016.77 1044.64,1016.85 1049.18,1016.17 1053.71,1015.7 1058.25,1015.49 1062.79,1015.15 1067.32,1015.29 1071.86,1014.46 1076.4,1014.65 1080.93,1013.76 1085.47,1013.4 1090.01,1013.29 1094.54,1012.61 1099.08,1012.45 1103.62,1012.57 1108.15,1012.35 1112.69,1011.38 1117.23,1011.03 1121.76,1010.85 1126.3,1010.7 1130.84,1009.83 1135.37,1009.57 1139.91,1008.82 1144.45,1008.61 1148.98,1008.47 1153.52,1008.16 1158.06,1007.54 1162.59,1006.43 1167.13,1006.22 1171.67,1005.74 1176.2,1004.74 1180.74,1004.95 1185.28,1004.65 1189.81,1003.7 1194.35,1003.3 1198.89,1002.45 1203.42,1002.59 1207.96,1001.73 1212.5,1001.75 1217.03,1000.21 1221.57,1000.98 1226.11,999.5 1230.64,999.09 1235.18,999.42 1239.72,997.61 1244.25,997.9 1248.79,996.86 1253.33,996.11 1257.86,995.94 1262.4,995.46"/>
<path d="M718 1033.4h0M722.54 1033.3h0M727.07 1033.22h0M731.61 1033.13h0M736.15 1033.04h0M740.68 1032.96h0M745.22 1032.9h0M749.76 1032.82h0M754.29 1032.72h0M758.83 1032.63h0M763.37 1032.52h0M767.9 1032.42h0M772.44 1032.29h0M776.98 1032.17h0M781.51 1032.02h0M786.05 1031.88h0M790.59 1031.69h0M795.12 1031.55h0M799.66 1031.34h0M804.2 1031.09h0M808.73 1030.96h0M813.27 1030.73h0M817.81 1030.41h0M822.34 1030.17h0M826.88 1030h0M831.42 1029.62h0M835.95 1029.52h0M840.49 1029.16h0M845.03 1028.99h0M849.56 1028.61h0M854.1 1028.37h0M858.64 1027.92h0M863.17 1027.73h0M867.71 1027.49h0M872.25 1026.97h0M876.78 1026.65h0M881.32 1026.43h0M885.86 1026.2h0M890.39 1025.66h0M894.93 1025.38h0M899.47 1024.92h0M904 1024.56h0M908.54 1024.11h0M913.08 1023.92h0M917.61 1023.79h0M922.15 1023.43h0M926.69 1023.04h0M931.22 1022.78h0M935.76 1022.32h0M940.3 1021.68h0M944.83 1021.56h0M949.37 1021.12h0M953.91 1020.95h0M958.44 1020.71h0M962.98 1020.12h0M967.52 1019.71h0M972.05 1019.07h0M976.59 1019.06h0M981.13 1018.4h0M985.66 1017.94h0M990.2 1017.6h0M994.74 1017.21h0M999.27 1017.18h0M1003.81 1016.85h0M1008.35 1016.4h0M1012.88 1015.96h0M1017.42 1015.87h0M1021.96 1015.8h0M1026.49 1015.01h0M1031.03 1015.19h0M1035.57 1014.51h0M1040.1 1013.66h0M1044.64 1014.08h0M1049.18 1013.18h0M1053.71 1012.54h0M1058.25 1012.63h0M1062.79 1012.27h0M1067.32 1012.18h0M1071.86 1011.43h0M1076.4 1011.48h0M1080.93 1010.54h0M1085.47 1009.92h0M1090.01 1009.93h0M1094.54 1009.08h0M1099.08 1009.28h0M1103.62 1009.39h0M1108.15 1008.97h0M1112.69 1008.04h0M1117.23 1007.63h0M1121.76 1007.81h0M1126.3 1007.24h0M1130.84 1005.91h0M1135.37 1006.53h0M1139.91 1005h0M1144.45 1004.96h0M1148.98 1005.38h0M1153.52 1004.82h0M1158.06 1004.53h0M1162.59 1002.91h0M1167.13 1002.99h0M1171.67 1003.29h0M1176.2 1001.6h0M1180.74 1002.48h0M1185.28 1001.96h0M1189.81 1000.78h0M1194.35 1000.79h0M1198.89 999.88h0M1203.42 999.59h0M1207.96 998.53h0M1212.5 999.37h0M1217.03 997.62h0M1221.57 998.53h0M1226.11 997.31h0M1230.64 996.26h0M1235.18 997.11h0M1239.72 995.26h0M1244.25 996.1h0M1248.79 994.41h0M1253.33 993.71h0M1257.86 994.14h0M1262.4 993.64h0" stroke="#00FA92" stroke-width="4.8" stroke-linecap="round" fill="none"/>
<path d="M718 1033.4h0M722.54 1033.33h0M727.07 1033.27h0M731.61 1033.21h0M736.15 1033.16h0M740.68 1033.11h0M745.22 1033.04h0M749.76 1032.98h0M754.29 1032.93h0M758.83 1032.85h0M763.37 1032.81h0M767.9 1032.72h0M772.44 1032.65h0M776.98 1032.59h0M781.51 1032.49h0M786.05 1032.39h0M790.59 1032.28h0M795.12 1032.17h0M799.66 1032.06h0M804.2 1031.93h0M808.73 1031.83h0M813.27 1031.68h0M817.81 1031.61h0M822.34 1031.46h0M826.88 1031.31h0M831.42 1031.2h0M835.95 1031.02h0M840.49 1030.83h0M845.03 1030.66h0M849.56 1030.51h0M854.1 1030.36h0M858.64 1030.09h0M863.17 1029.89h0M867.71 1029.81h0M872.25 1029.46h0M876.78 1029.2h0M881.32 1029.06h0M885.86 1028.87h0M890.39 1028.51h0M894.93 1028.22h0M899.47 1028.18h0M904 1027.87h0M908.54 1027.51h0M913.08 1027.22h0M917.61 1027.2h0M922.15 1026.91h0M926.69 1026.46h0M931.22 1026.2h0M935.76 1026.22h0M940.3 1025.98h0M944.83 1025.65h0M949.37 1025.27h0M953.91 1024.88h0M958.44 1024.89h0M962.98 1024.58h0M967.52 1024.21h0M972.05 1024.17h0M976.59 1023.99h0M981.13 1023.38h0M985.66 1023.47h0M990.2 1023.03h0M994.74 1022.85h0M999.27 1022.33h0M1003.81 1021.94h0M1008.35 1021.65h0M1012.88 1021.41h0M1017.42 1021.51h0M1021.96 1021.35h0M1026.49 1020.53h0M1031.03 1020.41h0M1035.57 1020.05h0M1040.1 1019.88h0M1044.64 1019.61h0M1049.18 1019.16h0M1053.71 1018.86h0M1058.25 1018.36h0M1062.79 1018.03h0M1067.32 1018.4h0M1071.86 1017.49h0M1076.4 1017.82h0M1080.93 1016.98h0M1085.47 1016.87h0M1090.01 1016.65h0M1094.54 1016.14h0M1099.08 1015.63h0M1103.62 1015.75h0M1108.15 1015.72h0M1112.69 1014.72h0M1117.23 1014.43h0M1121.76 1013.89h0M1126.3 1014.17h0M1130.84 1013.74h0M1135.37 1012.62h0M1139.91 1012.64h0M1144.45 1012.25h0M1148.98 1011.56h0M1153.52 1011.49h0M1158.06 1010.54h0M1162.59 1009.94h0M1167.13 1009.44h0M1171.67 1008.18h0M1176.2 1007.88h0M1180.74 1007.42h0M1185.28 1007.33h0M1189.81 1006.62h0M1194.35 1005.81h0M1198.89 1005.03h0M1203.42 1005.6h0M1207.96 1004.93h0M1212.5 1004.13h0M1217.03 1002.79h0M1221.57 1003.42h0M1226.11 1001.68h0M1230.64 1001.92h0M1235.18 1001.73h0M1239.72 999.97h0M1244.25 999.71h0M1248.79 999.31h0M1253.33 998.52h0M1257.86 997.74h0M1262.4 997.28h0" stroke="#00FA92" stroke-width="4.8" stroke-linecap="round" fill="none"/>
<polyline fill="none" stroke="#D4FB79" stroke-width="1.2" points="718,1033.4 722.54,1033.35 727.07,1033.31 731.61,1033.26 736.15,1033.22 740.68,1033.18 745.22,1033.14 749.76,1033.1 754.29,1033.06 758.83,1033.01 763.37,1032.96 767.9,1032.91 772.44,1032.86 776.98,1032.78 781.51,1032.71 786.05,1032.64 790.59,1032.55 795.12,1032.47 799.66,1032.36 804.2,1032.26 808.73,1032.15 813.27,1032.05 817.81,1031.95 822.34,1031.78 826.88,1031.69 831.42,1031.55 835.95,1031.46 840.49,1031.33 845.03,1031.21 849.56,1031.11 854.1,1030.95 858.64,1030.88 863.17,1030.77 867.71,1030.67 872.25,1030.57 876.78,1030.46 881.32,1030.39 885.86,1030.22 890.39,1030.17 894.93,1030.04 899.47,1029.88 904,1029.77 908.54,1029.73 913.08,1029.56 917.61,1029.45 922.15,1029.34 926.69,1029.22 931.22,1029.03 935.76,1028.94 940.3,1028.8 944.83,1028.74 949.37,1028.45 953.91,1028.31 958.44,1028.19 962.98,1028.06 967.52,1027.89 972.05,1027.69 976.59,1027.66 981.13,1027.5 985.66,1027.27 990.2,1027.15 994.74,1026.94 999.27,1026.98 1003.81,1026.7 1008.35,1026.53 1012.88,1026.46 1017.42,1026.24 1021.96,1026.18 1026.49,1026.04 1031.03,1025.83 1035.57,1025.61 1040.1,1025.55 1044.64,1025.33 1049.18,1025.37 1053.71,1025.13 1058.25,1024.86 1062.79,1024.71 1067.32,1024.56 1071.86,1024.3 1076.4,1024.2 1080.93,1023.84 1085.47,1023.65 1090.01,1023.54 1094.54,1023.55 1099.08,1023.11 1103.62,1023.1 1108.15,1022.71 1112.69,1022.44 1117.23,1022.23 1121.76,1022.04 1126.3,1022.05 1130.84,1021.62 1135.37,1021.19 1139.91,1021.23 1144.45,1020.68 1148.98,1020.66 1153.52,1020.28 1158.06,1019.92 1162.59,1019.87 1167.13,1019.45 1171.67,1018.94 1176.2,1018.81 1180.74,1018.48 1185.28,1018.43 1189.81,1017.78 1194.35,1017.56 1198.89,1017.34 1203.42,1016.86 1207.96,1016.65 1212.5,1016.14 1217.03,1015.95 1221.57,1015.6 1226.11,1015.52 1230.64,1014.72 1235.18,1014.78 1239.72,1013.75 1244.25,1013.79 1248.79,1013.18 1253.33,1012.75 1257.86,1012.54 1262.4,1012.36"/>
<path d="M718 1033.4h0M722.54 1033.35h0M727.07 1033.31h0M731.61 1033.26h0M736.15 1033.22h0M740.68 1033.19h0M745.22 1033.15h0M749.76 1033.1h0M754.29 1033.07h0M758.83 1033.02h0M763.37 1032.96h0M767.9 1032.93h0M772.44 1032.87h0M776.98 1032.8h0M781.51 1032.71h0M786.05 1032.63h0M790.59 1032.56h0M795.12 1032.45h0M799.66 1032.33h0M804.2 1032.25h0M808.73 1032.14h0M813.27 1032.03h0M817.81 1031.91h0M822.34 1031.72h0M826.88 1031.6h0M831.42 1031.46h0M835.95 1031.41h0M840.49 1031.23h0M845.03 1031.06h0M849.56 1031.01h0M854.1 1030.81h0M858.64 1030.76h0M863.17 1030.59h0M867.71 1030.5h0M872.25 1030.42h0M876.78 1030.3h0M881.32 1030.19h0M885.86 1029.99h0M890.39 1030.01h0M894.93 1029.76h0M899.47 1029.67h0M904 1029.54h0M908.54 1029.52h0M913.08 1029.29h0M917.61 1029.16h0M922.15 1029.16h0M926.69 1028.88h0M931.22 1028.76h0M935.76 1028.61h0M940.3 1028.47h0M944.83 1028.47h0M949.37 1028.13h0M953.91 1027.99h0M958.44 1027.81h0M962.98 1027.73h0M967.52 1027.62h0M972.05 1027.29h0M976.59 1027.41h0M981.13 1027.19h0M985.66 1026.93h0M990.2 1026.68h0M994.74 1026.51h0M999.27 1026.63h0M1003.81 1026.41h0M1008.35 1026.05h0M1012.88 1026.2h0M1017.42 1025.86h0M1021.96 1025.89h0M1026.49 1025.67h0M1031.03 1025.34h0M1035.57 1025.18h0M1040.1 1025.03h0M1044.64 1024.9h0M1049.18 1024.98h0M1053.71 1024.75h0M1058.25 1024.53h0M1062.79 1024.17h0M1067.32 1024.31h0M1071.86 1023.98h0M1076.4 1024.01h0M1080.93 1023.48h0M1085.47 1023.24h0M1090.01 1023.28h0M1094.54 1023.17h0M1099.08 1022.66h0M1103.62 1022.76h0M1108.15 1022.18h0M1112.69 1022.09h0M1117.23 1021.81h0M1121.76 1021.52h0M1126.3 1021.74h0M1130.84 1021.25h0M1135.37 1020.75h0M1139.91 1020.99h0M1144.45 1020.29h0M1148.98 1020.48h0M1153.52 1019.89h0M1158.06 1019.74h0M1162.59 1019.61h0M1167.13 1019.36h0M1171.67 1018.57h0M1176.2 1018.12h0M1180.74 1018.29h0M1185.28 1018.03h0M1189.81 1017.63h0M1194.35 1017.18h0M1198.89 1016.75h0M1203.42 1016.26h0M1207.96 1016.37h0M1212.5 1015.48h0M1217.03 1015.64h0M1221.57 1014.85h0M1226.11 1015.01h0M1230.64 1014.44h0M1235.18 1014.37h0M1239.72 1013.34h0M1244.25 1013.53h0M1248.79 1012.54h0M1253.33 1012.16h0M1257.86 1012.26h0M1262.4 1011.92h0" stroke="#D4FB79" stroke-width="4.8" stroke-linecap="round" fill="none"/>
<path d="M718 1033.4h0M722.54 1033.35h0M727.07 1033.31h0M731.61 1033.26h0M736.15 1033.22h0M740.68 1033.17h0M745.22 1033.13h0M749.76 1033.09h0M754.29 1033.05h0M758.83 1033h0M763.37 1032.96h0M767.9 1032.89h0M772.44 1032.84h0M776.98 1032.76h0M781.51 1032.7h0M786.05 1032.66h0M790.59 1032.54h0M795.12 1032.5h0M799.66 1032.39h0M804.2 1032.28h0M808.73 1032.17h0M813.27 1032.06h0M817.81 1032h0M822.34 1031.84h0M826.88 1031.78h0M831.42 1031.64h0M835.95 1031.52h0M840.49 1031.42h0M845.03 1031.36h0M849.56 1031.2h0M854.1 1031.08h0M858.64 1031h0M863.17 1030.95h0M867.71 1030.84h0M872.25 1030.73h0M876.78 1030.61h0M881.32 1030.59h0M885.86 1030.45h0M890.39 1030.33h0M894.93 1030.31h0M899.47 1030.08h0M904 1030h0M908.54 1029.95h0M913.08 1029.83h0M917.61 1029.74h0M922.15 1029.52h0M926.69 1029.55h0M931.22 1029.31h0M935.76 1029.27h0M940.3 1029.14h0M944.83 1029.01h0M949.37 1028.78h0M953.91 1028.62h0M958.44 1028.56h0M962.98 1028.39h0M967.52 1028.16h0M972.05 1028.09h0M976.59 1027.92h0M981.13 1027.81h0M985.66 1027.6h0M990.2 1027.61h0M994.74 1027.38h0M999.27 1027.34h0M1003.81 1026.99h0M1008.35 1027.01h0M1012.88 1026.72h0M1017.42 1026.63h0M1021.96 1026.46h0M1026.49 1026.42h0M1031.03 1026.32h0M1035.57 1026.03h0M1040.1 1026.06h0M1044.64 1025.76h0M1049.18 1025.76h0M1053.71 1025.5h0M1058.25 1025.2h0M1062.79 1025.25h0M1067.32 1024.8h0M1071.86 1024.62h0M1076.4 1024.38h0M1080.93 1024.2h0M1085.47 1024.05h0M1090.01 1023.8h0M1094.54 1023.93h0M1099.08 1023.56h0M1103.62 1023.44h0M1108.15 1023.25h0M1112.69 1022.8h0M1117.23 1022.65h0M1121.76 1022.56h0M1126.3 1022.36h0M1130.84 1021.99h0M1135.37 1021.64h0M1139.91 1021.47h0M1144.45 1021.08h0M1148.98 1020.84h0M1153.52 1020.67h0M1158.06 1020.11h0M1162.59 1020.12h0M1167.13 1019.54h0M1171.67 1019.3h0M1176.2 1019.49h0M1180.74 1018.67h0M1185.28 1018.83h0M1189.81 1017.93h0M1194.35 1017.94h0M1198.89 1017.92h0M1203.42 1017.47h0M1207.96 1016.92h0M1212.5 1016.81h0M1217.03 1016.25h0M1221.57 1016.36h0M1226.11 1016.02h0M1230.64 1015.01h0M1235.18 1015.18h0M1239.72 1014.15h0M1244.25 1014.04h0M1248.79 1013.82h0M1253.33 1013.34h0M1257.86 1012.83h0M1262.4 1012.79h0" stroke="#D4FB79" stroke-width="4.8" stroke-linecap="round" fill="none"/>
<polyline fill="none" stroke="#0096FF" stroke-width="1.2" points="718,1033.4 722.54,1033.38 727.07,1033.35 731.61,1033.33 736.15,1033.3 740.68,1033.28 745.22,1033.26 749.76,1033.24 754.29,1033.21 758.83,1033.19 763.37,1033.16 767.9,1033.14 772.44,1033.11 776.98,1033.09 781.51,1033.05 786.05,1033.03 790.59,1032.98 795.12,1032.96 799.66,1032.92 804.2,1032.87 808.73,1032.84 813.27,1032.8 817.81,1032.77 822.34,1032.71 826.88,1032.68 831.42,1032.63 835.95,1032.6 840.49,1032.52 845.03,1032.51 849.56,1032.42 854.1,1032.37 858.64,1032.33 863.17,1032.26 867.71,1032.22 872.25,1032.13 876.78,1032.09 881.32,1032.01 885.86,1031.96 890.39,1031.85 894.93,1031.8 899.47,1031.71 904,1031.68 908.54,1031.57 913.08,1031.49 917.61,1031.46 922.15,1031.34 926.69,1031.29 931.22,1031.18 935.76,1031.15 940.3,1031.06 944.83,1030.97 949.37,1030.91 953.91,1030.87 958.44,1030.78 962.98,1030.7 967.52,1030.67 972.05,1030.59 976.59,1030.47 981.13,1030.38 985.66,1030.37 990.2,1030.22 994.74,1030.18 999.27,1030.05 1003.81,1029.89 1008.35,1029.84 1012.88,1029.75 1017.42,1029.68 1021.96,1029.62 1026.49,1029.45 1031.03,1029.37 1035.57,1029.28 1040.1,1029.12 1044.64,1029 1049.18,1028.91 1053.71,1028.77 1058.25,1028.79 1062.79,1028.59 1067.32,1028.44 1071.86,1028.31 1076.4,1028.31 1080.93,1028.11 1085.47,1028.03 1090.01,1027.89 1094.54,1027.86 1099.08,1027.68 1103.62,1027.65 1108.15,1027.42 1112.69,1027.43 1117.23,1027.22 1121.76,1027.17 1126.3,1027.1 1130.84,1027.03 1135.37,1026.85 1139.91,1026.7 1144.45,1026.63 1148.98,1026.47 1153.52,1026.44 1158.06,1026.3 1162.59,1026.26 1167.13,1026.1 1171.67,1025.95 1176.2,1025.81 1180.74,1025.81 1185.28,1025.88 1189.81,1025.69 1194.35,1025.6 1198.89,1025.46 1203.42,1025.44 1207.96,1025.23 1212.5,1025.35 1217.03,1025.19 1221.57,1025.19 1226.11,1025.17 1230.64,1025.09 1235.18,1024.99 1239.72,1024.93 1244.25,1024.89 1248.79,1024.82 1253.33,1024.65 1257.86,1024.83 1262.4,1024.57"/>
<path d="M718 1033.4h0M722.54 1033.37h0M727.07 1033.33h0M731.61 1033.3h0M736.15 1033.27h0M740.68 1033.24h0M745.22 1033.21h0M749.76 1033.18h0M754.29 1033.15h0M758.83 1033.12h0M763.37 1033.08h0M767.9 1033.04h0M772.44 1033.01h0M776.98 1032.98h0M781.51 1032.93h0M786.05 1032.9h0M790.59 1032.84h0M795.12 1032.82h0M799.66 1032.77h0M804.2 1032.72h0M808.73 1032.68h0M813.27 1032.63h0M817.81 1032.6h0M822.34 1032.53h0M826.88 1032.48h0M831.42 1032.43h0M835.95 1032.39h0M840.49 1032.3h0M845.03 1032.29h0M849.56 1032.18h0M854.1 1032.12h0M858.64 1032.09h0M863.17 1031.97h0M867.71 1031.92h0M872.25 1031.8h0M876.78 1031.76h0M881.32 1031.67h0M885.86 1031.6h0M890.39 1031.46h0M894.93 1031.41h0M899.47 1031.28h0M904 1031.26h0M908.54 1031.11h0M913.08 1031h0M917.61 1030.96h0M922.15 1030.84h0M926.69 1030.77h0M931.22 1030.65h0M935.76 1030.6h0M940.3 1030.49h0M944.83 1030.41h0M949.37 1030.34h0M953.91 1030.27h0M958.44 1030.22h0M962.98 1030.09h0M967.52 1030.11h0M972.05 1029.97h0M976.59 1029.9h0M981.13 1029.75h0M985.66 1029.78h0M990.2 1029.6h0M994.74 1029.58h0M999.27 1029.4h0M1003.81 1029.2h0M1008.35 1029.15h0M1012.88 1029.01h0M1017.42 1029h0M1021.96 1028.9h0M1026.49 1028.77h0M1031.03 1028.59h0M1035.57 1028.48h0M1040.1 1028.27h0M1044.64 1028.21h0M1049.18 1028.14h0M1053.71 1027.87h0M1058.25 1027.95h0M1062.79 1027.69h0M1067.32 1027.46h0M1071.86 1027.34h0M1076.4 1027.41h0M1080.93 1027.06h0M1085.47 1026.89h0M1090.01 1026.87h0M1094.54 1026.82h0M1099.08 1026.61h0M1103.62 1026.47h0M1108.15 1026.17h0M1112.69 1026.26h0M1117.23 1026.03h0M1121.76 1025.86h0M1126.3 1025.85h0M1130.84 1025.74h0M1135.37 1025.66h0M1139.91 1025.28h0M1144.45 1025.39h0M1148.98 1024.97h0M1153.52 1024.99h0M1158.06 1024.79h0M1162.59 1024.96h0M1167.13 1024.56h0M1171.67 1024.5h0M1176.2 1024.25h0M1180.74 1024.24h0M1185.28 1024.42h0M1189.81 1024.31h0M1194.35 1024.15h0M1198.89 1024.01h0M1203.42 1023.92h0M1207.96 1023.58h0M1212.5 1023.91h0M1217.03 1023.59h0M1221.57 1023.5h0M1226.11 1023.56h0M1230.64 1023.67h0M1235.18 1023.45h0M1239.72 1023.24h0M1244.25 1023.3h0M1248.79 1023.3h0M1253.33 1023.05h0M1257.86 1023.28h0M1262.4 1022.87h0" stroke="#0096FF" stroke-width="4.8" stroke-linecap="round" fill="none"/>
<path d="M718 1033.4h0M722.54 1033.38h0M727.07 1033.37h0M731.61 1033.35h0M736.15 1033.34h0M740.68 1033.32h0M745.22 1033.31h0M749.76 1033.3h0M754.29 1033.28h0M758.83 1033.26h0M763.37 1033.25h0M767.9 1033.23h0M772.44 1033.22h0M776.98 1033.2h0M781.51 1033.17h0M786.05 1033.15h0M790.59 1033.12h0M795.12 1033.09h0M799.66 1033.06h0M804.2 1033.03h0M808.73 1033.01h0M813.27 1032.97h0M817.81 1032.93h0M822.34 1032.9h0M826.88 1032.88h0M831.42 1032.83h0M835.95 1032.8h0M840.49 1032.75h0M845.03 1032.73h0M849.56 1032.67h0M854.1 1032.62h0M858.64 1032.58h0M863.17 1032.56h0M867.71 1032.51h0M872.25 1032.47h0M876.78 1032.41h0M881.32 1032.34h0M885.86 1032.33h0M890.39 1032.24h0M894.93 1032.19h0M899.47 1032.14h0M904 1032.09h0M908.54 1032.03h0M913.08 1031.98h0M917.61 1031.96h0M922.15 1031.85h0M926.69 1031.82h0M931.22 1031.72h0M935.76 1031.7h0M940.3 1031.62h0M944.83 1031.53h0M949.37 1031.48h0M953.91 1031.46h0M958.44 1031.34h0M962.98 1031.31h0M967.52 1031.23h0M972.05 1031.2h0M976.59 1031.04h0M981.13 1031.01h0M985.66 1030.97h0M990.2 1030.84h0M994.74 1030.77h0M999.27 1030.7h0M1003.81 1030.58h0M1008.35 1030.53h0M1012.88 1030.48h0M1017.42 1030.35h0M1021.96 1030.33h0M1026.49 1030.13h0M1031.03 1030.15h0M1035.57 1030.08h0M1040.1 1029.98h0M1044.64 1029.8h0M1049.18 1029.69h0M1053.71 1029.68h0M1058.25 1029.64h0M1062.79 1029.5h0M1067.32 1029.42h0M1071.86 1029.29h0M1076.4 1029.2h0M1080.93 1029.15h0M1085.47 1029.17h0M1090.01 1028.91h0M1094.54 1028.89h0M1099.08 1028.75h0M1103.62 1028.83h0M1108.15 1028.67h0M1112.69 1028.6h0M1117.23 1028.42h0M1121.76 1028.48h0M1126.3 1028.36h0M1130.84 1028.31h0M1135.37 1028.03h0M1139.91 1028.11h0M1144.45 1027.88h0M1148.98 1027.98h0M1153.52 1027.89h0M1158.06 1027.81h0M1162.59 1027.56h0M1167.13 1027.63h0M1171.67 1027.4h0M1176.2 1027.37h0M1180.74 1027.39h0M1185.28 1027.34h0M1189.81 1027.07h0M1194.35 1027.05h0M1198.89 1026.91h0M1203.42 1026.95h0M1207.96 1026.88h0M1212.5 1026.79h0M1217.03 1026.79h0M1221.57 1026.87h0M1226.11 1026.78h0M1230.64 1026.52h0M1235.18 1026.52h0M1239.72 1026.62h0M1244.25 1026.48h0M1248.79 1026.33h0M1253.33 1026.25h0M1257.86 1026.38h0M1262.4 1026.27h0" stroke="#0096FF" stroke-width="4.8" stroke-linecap="round" fill="none"/>
<line x1="719" y1="716" x2="719" y2="1045.9" stroke="#000" stroke-width="3.6"/>
<line x1="707.5" y1="1033.4" x2="1264.2" y2="1033.4" stroke="#000" stroke-width="3.6"/>
<text x="702.5" y="1041.4" font-size="23.5" text-anchor="end">0.0</text>
<line x1="707.5" y1="906.6" x2="719" y2="906.6" stroke="#000" stroke-width="3.6"/>
<text x="702.5" y="914.6" font-size="23.5" text-anchor="end">0.5</text>
<line x1="707.5" y1="779.8" x2="719" y2="779.8" stroke="#000" stroke-width="3.6"/>
<text x="702.5" y="787.8" font-size="23.5" text-anchor="end">1.0</text>
<text x="719" y="1070.4" font-size="23" text-anchor="middle">0</text>
<line x1="854.1" y1="1033.4" x2="854.1" y2="1045.9" stroke="#000" stroke-width="3.6"/>
<text x="854.1" y="1070.4" font-size="23" text-anchor="middle">60</text>
<line x1="990.2" y1="1033.4" x2="990.2" y2="1045.9" stroke="#000" stroke-width="3.6"/>
<text x="990.2" y="1070.4" font-size="23" text-anchor="middle">120</text>
<line x1="1126.3" y1="1033.4" x2="1126.3" y2="1045.9" stroke="#000" stroke-width="3.6"/>
<text x="1126.3" y="1070.4" font-size="23" text-anchor="middle">180</text>
<line x1="1262.4" y1="1033.4" x2="1262.4" y2="1045.9" stroke="#000" stroke-width="3.6"/>
<text x="1262.4" y="1070.4" font-size="23" text-anchor="middle">240</text>
<text x="636" y="671" font-size="45" font-weight="bold">d</text>
<text x="990" y="679.6" font-size="26.7" text-anchor="middle">Cell-cell fusion</text>
<text transform="translate(656 892) rotate(-90)" font-size="24.2" text-anchor="middle">Luminescence, normalized</text>
<text x="987.5" y="1103.4" font-size="21.7" text-anchor="middle">Time, min</text>
<line x1="745.6" y1="743" x2="771" y2="743" stroke="#000000" stroke-width="1.4"/>
<circle cx="758.3" cy="743" r="2.4" fill="#000000"/>
<text x="785" y="752.3" font-size="26.5">WT</text>
<line x1="745.6" y1="782.8" x2="771" y2="782.8" stroke="#76D6FF" stroke-width="1.4"/>
<circle cx="758.3" cy="782.8" r="2.4" fill="#76D6FF"/>
<text x="785" y="792.1" font-size="26.5">T169A</text>
<line x1="745.6" y1="823" x2="771" y2="823" stroke="#00FA92" stroke-width="1.4"/>
<circle cx="758.3" cy="823" r="2.4" fill="#00FA92"/>
<text x="785" y="832.3" font-size="26.5">T267A</text>
<line x1="745.6" y1="863.4" x2="771" y2="863.4" stroke="#009193" stroke-width="1.4"/>
<circle cx="758.3" cy="863.4" r="2.4" fill="#009193"/>
<text x="785" y="872.7" font-size="26.5">T268A</text>
<line x1="890.4" y1="742.4" x2="916" y2="742.4" stroke="#D4FB79" stroke-width="1.4"/>
<circle cx="903.2" cy="742.4" r="2.4" fill="#D4FB79"/>
<text x="929.6" y="751.7" font-size="26.5">T267A T268A</text>
<line x1="890.4" y1="782.8" x2="916" y2="782.8" stroke="#0096FF" stroke-width="1.4"/>
<circle cx="903.2" cy="782.8" r="2.4" fill="#0096FF"/>
<text x="929.6" y="792.1" font-size="26.5">T169A T267A T268A</text>
<polyline fill="none" stroke="#FF2600" stroke-width="1.2" points="1434.7,1036.9 1439.25,1036.8 1443.79,1036.72 1448.34,1036.64 1452.89,1036.58 1457.43,1036.51 1461.98,1036.45 1466.53,1036.38 1471.07,1036.31 1475.62,1036.21 1480.17,1036.12 1484.71,1036.01 1489.26,1035.88 1493.81,1035.74 1498.35,1035.56 1502.9,1035.37 1507.45,1035.14 1511.99,1034.94 1516.54,1034.67 1521.09,1034.35 1525.63,1034.15 1530.18,1033.83 1534.73,1033.48 1539.27,1033.14 1543.82,1032.86 1548.37,1032.42 1552.91,1032.17 1557.46,1031.7 1562.01,1031.4 1566.55,1030.93 1571.1,1030.57 1575.65,1029.95 1580.19,1029.6 1584.74,1029.27 1589.29,1028.5 1593.83,1027.97 1598.38,1027.61 1602.93,1027.21 1607.47,1026.41 1612.02,1025.91 1616.57,1025.42 1621.11,1024.83 1625.66,1024.15 1630.21,1023.76 1634.75,1023.64 1639.3,1023.13 1643.85,1022.49 1648.39,1022.13 1652.94,1021.83 1657.49,1021.19 1662.03,1020.94 1666.58,1020.39 1671.13,1020.06 1675.67,1019.98 1680.22,1019.37 1684.77,1018.87 1689.31,1018.42 1693.86,1018.37 1698.41,1017.46 1702.95,1017.23 1707.5,1016.67 1712.05,1016.27 1716.59,1015.88 1721.14,1015.33 1725.69,1014.77 1730.23,1014.24 1734.78,1014.25 1739.33,1014.06 1743.87,1012.81 1748.42,1012.85 1752.97,1012.04 1757.51,1011.24 1762.06,1011.36 1766.61,1010.32 1771.15,1009.6 1775.7,1009.29 1780.25,1008.79 1784.79,1009.03 1789.34,1007.79 1793.89,1008.13 1798.43,1006.8 1802.98,1006.3 1807.53,1006.18 1812.07,1005.19 1816.62,1004.98 1821.17,1005.18 1825.71,1004.88 1830.26,1003.41 1834.81,1002.89 1839.35,1002.61 1843.9,1002.38 1848.45,1001.02 1852.99,1000.55 1857.54,999.35 1862.09,998.94 1866.63,998.62 1871.18,998.05 1875.73,996.99 1880.27,995.24 1884.82,994.79 1889.37,993.9 1893.91,992.39 1898.46,992.51 1903.01,991.99 1907.55,990.57 1912.1,989.87 1916.65,988.63 1921.19,988.82 1925.74,987.6 1930.29,987.46 1934.83,985.39 1939.38,986.3 1943.93,984.31 1948.47,983.79 1953.02,984.07 1957.57,981.77 1962.11,981.98 1966.66,980.69 1971.21,979.7 1975.75,979.32 1980.3,978.64"/>
<path d="M1431.7 1036.9l3 -3l3 3l-3 3zM1436.25 1036.77l3 -3l3 3l-3 3zM1440.79 1036.67l3 -3l3 3l-3 3zM1445.34 1036.57l3 -3l3 3l-3 3zM1449.89 1036.48l3 -3l3 3l-3 3zM1454.43 1036.39l3 -3l3 3l-3 3zM1458.98 1036.33l3 -3l3 3l-3 3zM1463.53 1036.25l3 -3l3 3l-3 3zM1468.07 1036.14l3 -3l3 3l-3 3zM1472.62 1036.02l3 -3l3 3l-3 3zM1477.17 1035.88l3 -3l3 3l-3 3zM1481.71 1035.74l3 -3l3 3l-3 3zM1486.26 1035.56l3 -3l3 3l-3 3zM1490.81 1035.36l3 -3l3 3l-3 3zM1495.35 1035.12l3 -3l3 3l-3 3zM1499.9 1034.86l3 -3l3 3l-3 3zM1504.45 1034.54l3 -3l3 3l-3 3zM1508.99 1034.25l3 -3l3 3l-3 3zM1513.54 1033.85l3 -3l3 3l-3 3zM1518.09 1033.38l3 -3l3 3l-3 3zM1522.63 1033.1l3 -3l3 3l-3 3zM1527.18 1032.64l3 -3l3 3l-3 3zM1531.73 1032.04l3 -3l3 3l-3 3zM1536.27 1031.55l3 -3l3 3l-3 3zM1540.82 1031.19l3 -3l3 3l-3 3zM1545.37 1030.47l3 -3l3 3l-3 3zM1549.91 1030.23l3 -3l3 3l-3 3zM1554.46 1029.56l3 -3l3 3l-3 3zM1559.01 1029.21l3 -3l3 3l-3 3zM1563.55 1028.52l3 -3l3 3l-3 3zM1568.1 1028.06l3 -3l3 3l-3 3zM1572.65 1027.24l3 -3l3 3l-3 3zM1577.19 1026.89l3 -3l3 3l-3 3zM1581.74 1026.44l3 -3l3 3l-3 3zM1586.29 1025.47l3 -3l3 3l-3 3zM1590.83 1024.89l3 -3l3 3l-3 3zM1595.38 1024.47l3 -3l3 3l-3 3zM1599.93 1024.03l3 -3l3 3l-3 3zM1604.47 1023.06l3 -3l3 3l-3 3zM1609.02 1022.57l3 -3l3 3l-3 3zM1613.57 1021.75l3 -3l3 3l-3 3zM1618.11 1021.13l3 -3l3 3l-3 3zM1622.66 1020.37l3 -3l3 3l-3 3zM1627.21 1020.09l3 -3l3 3l-3 3zM1631.75 1019.93l3 -3l3 3l-3 3zM1636.3 1019.39l3 -3l3 3l-3 3zM1640.85 1018.81l3 -3l3 3l-3 3zM1645.39 1018.49l3 -3l3 3l-3 3zM1649.94 1017.86l3 -3l3 3l-3 3zM1654.49 1016.94l3 -3l3 3l-3 3zM1659.03 1016.91l3 -3l3 3l-3 3zM1663.58 1016.37l3 -3l3 3l-3 3zM1668.13 1016.28l3 -3l3 3l-3 3zM1672.67 1016.08l3 -3l3 3l-3 3zM1677.22 1015.3l3 -3l3 3l-3 3zM1681.77 1014.83l3 -3l3 3l-3 3zM1686.31 1013.98l3 -3l3 3l-3 3zM1690.86 1014.13l3 -3l3 3l-3 3zM1695.41 1013.22l3 -3l3 3l-3 3zM1699.95 1012.63l3 -3l3 3l-3 3zM1704.5 1012.19l3 -3l3 3l-3 3zM1709.05 1011.67l3 -3l3 3l-3 3zM1713.59 1011.69l3 -3l3 3l-3 3zM1718.14 1011.24l3 -3l3 3l-3 3zM1722.69 1010.58l3 -3l3 3l-3 3zM1727.23 1009.94l3 -3l3 3l-3 3zM1731.78 1009.83l3 -3l3 3l-3 3zM1736.33 1009.74l3 -3l3 3l-3 3zM1740.87 1008.56l3 -3l3 3l-3 3zM1745.42 1008.84l3 -3l3 3l-3 3zM1749.97 1007.82l3 -3l3 3l-3 3zM1754.51 1006.55l3 -3l3 3l-3 3zM1759.06 1007.22l3 -3l3 3l-3 3zM1763.61 1005.87l3 -3l3 3l-3 3zM1768.15 1004.93l3 -3l3 3l-3 3zM1772.7 1005.11l3 -3l3 3l-3 3zM1777.25 1004.63l3 -3l3 3l-3 3zM1781.79 1004.56l3 -3l3 3l-3 3zM1786.34 1003.52l3 -3l3 3l-3 3zM1790.89 1003.7l3 -3l3 3l-3 3zM1795.43 1002.38l3 -3l3 3l-3 3zM1799.98 1001.57l3 -3l3 3l-3 3zM1804.53 1001.69l3 -3l3 3l-3 3zM1809.07 1000.51l3 -3l3 3l-3 3zM1813.62 1000.9l3 -3l3 3l-3 3zM1818.17 1001.13l3 -3l3 3l-3 3zM1822.71 1000.57l3 -3l3 3l-3 3zM1827.26 999.2l3 -3l3 3l-3 3zM1831.81 998.6l3 -3l3 3l-3 3zM1836.35 998.85l3 -3l3 3l-3 3zM1840.9 997.94l3 -3l3 3l-3 3zM1845.45 995.87l3 -3l3 3l-3 3zM1849.99 996.65l3 -3l3 3l-3 3zM1854.54 994.19l3 -3l3 3l-3 3zM1859.09 993.93l3 -3l3 3l-3 3zM1863.63 994.32l3 -3l3 3l-3 3zM1868.18 993.23l3 -3l3 3l-3 3zM1872.73 992.52l3 -3l3 3l-3 3zM1877.27 989.91l3 -3l3 3l-3 3zM1881.82 989.74l3 -3l3 3l-3 3zM1886.37 989.85l3 -3l3 3l-3 3zM1890.91 987.24l3 -3l3 3l-3 3zM1895.46 988.13l3 -3l3 3l-3 3zM1900.01 987.16l3 -3l3 3l-3 3zM1904.55 985.37l3 -3l3 3l-3 3zM1909.1 985.17l3 -3l3 3l-3 3zM1913.65 983.82l3 -3l3 3l-3 3zM1918.19 983.28l3 -3l3 3l-3 3zM1922.74 981.82l3 -3l3 3l-3 3zM1927.29 982.7l3 -3l3 3l-3 3zM1931.83 980.46l3 -3l3 3l-3 3zM1936.38 981.42l3 -3l3 3l-3 3zM1940.93 979.85l3 -3l3 3l-3 3zM1945.47 978.5l3 -3l3 3l-3 3zM1950.02 979.36l3 -3l3 3l-3 3zM1954.57 977.12l3 -3l3 3l-3 3zM1959.11 977.93l3 -3l3 3l-3 3zM1963.66 975.91l3 -3l3 3l-3 3zM1968.21 975l3 -3l3 3l-3 3zM1972.75 975.3l3 -3l3 3l-3 3zM1977.3 974.58l3 -3l3 3l-3 3z" fill="#FF2600"/>
<path d="M1431.7 1036.9l3 -3l3 3l-3 3zM1436.25 1036.83l3 -3l3 3l-3 3zM1440.79 1036.78l3 -3l3 3l-3 3zM1445.34 1036.72l3 -3l3 3l-3 3zM1449.89 1036.68l3 -3l3 3l-3 3zM1454.43 1036.63l3 -3l3 3l-3 3zM1458.98 1036.58l3 -3l3 3l-3 3zM1463.53 1036.52l3 -3l3 3l-3 3zM1468.07 1036.48l3 -3l3 3l-3 3zM1472.62 1036.41l3 -3l3 3l-3 3zM1477.17 1036.36l3 -3l3 3l-3 3zM1481.71 1036.27l3 -3l3 3l-3 3zM1486.26 1036.2l3 -3l3 3l-3 3zM1490.81 1036.12l3 -3l3 3l-3 3zM1495.35 1036.01l3 -3l3 3l-3 3zM1499.9 1035.89l3 -3l3 3l-3 3zM1504.45 1035.75l3 -3l3 3l-3 3zM1508.99 1035.62l3 -3l3 3l-3 3zM1513.54 1035.48l3 -3l3 3l-3 3zM1518.09 1035.32l3 -3l3 3l-3 3zM1522.63 1035.2l3 -3l3 3l-3 3zM1527.18 1035.02l3 -3l3 3l-3 3zM1531.73 1034.92l3 -3l3 3l-3 3zM1536.27 1034.72l3 -3l3 3l-3 3zM1540.82 1034.52l3 -3l3 3l-3 3zM1545.37 1034.37l3 -3l3 3l-3 3zM1549.91 1034.11l3 -3l3 3l-3 3zM1554.46 1033.85l3 -3l3 3l-3 3zM1559.01 1033.58l3 -3l3 3l-3 3zM1563.55 1033.33l3 -3l3 3l-3 3zM1568.1 1033.09l3 -3l3 3l-3 3zM1572.65 1032.66l3 -3l3 3l-3 3zM1577.19 1032.31l3 -3l3 3l-3 3zM1581.74 1032.11l3 -3l3 3l-3 3zM1586.29 1031.53l3 -3l3 3l-3 3zM1590.83 1031.06l3 -3l3 3l-3 3zM1595.38 1030.76l3 -3l3 3l-3 3zM1599.93 1030.39l3 -3l3 3l-3 3zM1604.47 1029.76l3 -3l3 3l-3 3zM1609.02 1029.24l3 -3l3 3l-3 3zM1613.57 1029.08l3 -3l3 3l-3 3zM1618.11 1028.53l3 -3l3 3l-3 3zM1622.66 1027.93l3 -3l3 3l-3 3zM1627.21 1027.43l3 -3l3 3l-3 3zM1631.75 1027.35l3 -3l3 3l-3 3zM1636.3 1026.88l3 -3l3 3l-3 3zM1640.85 1026.17l3 -3l3 3l-3 3zM1645.39 1025.76l3 -3l3 3l-3 3zM1649.94 1025.8l3 -3l3 3l-3 3zM1654.49 1025.44l3 -3l3 3l-3 3zM1659.03 1024.96l3 -3l3 3l-3 3zM1663.58 1024.41l3 -3l3 3l-3 3zM1668.13 1023.84l3 -3l3 3l-3 3zM1672.67 1023.88l3 -3l3 3l-3 3zM1677.22 1023.44l3 -3l3 3l-3 3zM1681.77 1022.9l3 -3l3 3l-3 3zM1686.31 1022.87l3 -3l3 3l-3 3zM1690.86 1022.61l3 -3l3 3l-3 3zM1695.41 1021.69l3 -3l3 3l-3 3zM1699.95 1021.83l3 -3l3 3l-3 3zM1704.5 1021.15l3 -3l3 3l-3 3zM1709.05 1020.86l3 -3l3 3l-3 3zM1713.59 1020.06l3 -3l3 3l-3 3zM1718.14 1019.42l3 -3l3 3l-3 3zM1722.69 1018.96l3 -3l3 3l-3 3zM1727.23 1018.55l3 -3l3 3l-3 3zM1731.78 1018.66l3 -3l3 3l-3 3zM1736.33 1018.37l3 -3l3 3l-3 3zM1740.87 1017.07l3 -3l3 3l-3 3zM1745.42 1016.85l3 -3l3 3l-3 3zM1749.97 1016.25l3 -3l3 3l-3 3zM1754.51 1015.94l3 -3l3 3l-3 3zM1759.06 1015.49l3 -3l3 3l-3 3zM1763.61 1014.77l3 -3l3 3l-3 3zM1768.15 1014.27l3 -3l3 3l-3 3zM1772.7 1013.46l3 -3l3 3l-3 3zM1777.25 1012.94l3 -3l3 3l-3 3zM1781.79 1013.49l3 -3l3 3l-3 3zM1786.34 1012.06l3 -3l3 3l-3 3zM1790.89 1012.55l3 -3l3 3l-3 3zM1795.43 1011.22l3 -3l3 3l-3 3zM1799.98 1011.03l3 -3l3 3l-3 3zM1804.53 1010.68l3 -3l3 3l-3 3zM1809.07 1009.86l3 -3l3 3l-3 3zM1813.62 1009.05l3 -3l3 3l-3 3zM1818.17 1009.23l3 -3l3 3l-3 3zM1822.71 1009.18l3 -3l3 3l-3 3zM1827.26 1007.62l3 -3l3 3l-3 3zM1831.81 1007.18l3 -3l3 3l-3 3zM1836.35 1006.36l3 -3l3 3l-3 3zM1840.9 1006.82l3 -3l3 3l-3 3zM1845.45 1006.17l3 -3l3 3l-3 3zM1849.99 1004.45l3 -3l3 3l-3 3zM1854.54 1004.52l3 -3l3 3l-3 3zM1859.09 1003.95l3 -3l3 3l-3 3zM1863.63 1002.92l3 -3l3 3l-3 3zM1868.18 1002.87l3 -3l3 3l-3 3zM1872.73 1001.45l3 -3l3 3l-3 3zM1877.27 1000.56l3 -3l3 3l-3 3zM1881.82 999.85l3 -3l3 3l-3 3zM1886.37 997.95l3 -3l3 3l-3 3zM1890.91 997.55l3 -3l3 3l-3 3zM1895.46 996.89l3 -3l3 3l-3 3zM1900.01 996.81l3 -3l3 3l-3 3zM1904.55 995.77l3 -3l3 3l-3 3zM1909.1 994.58l3 -3l3 3l-3 3zM1913.65 993.44l3 -3l3 3l-3 3zM1918.19 994.35l3 -3l3 3l-3 3zM1922.74 993.37l3 -3l3 3l-3 3zM1927.29 992.21l3 -3l3 3l-3 3zM1931.83 990.32l3 -3l3 3l-3 3zM1936.38 991.19l3 -3l3 3l-3 3zM1940.93 988.78l3 -3l3 3l-3 3zM1945.47 989.08l3 -3l3 3l-3 3zM1950.02 988.78l3 -3l3 3l-3 3zM1954.57 986.43l3 -3l3 3l-3 3zM1959.11 986.03l3 -3l3 3l-3 3zM1963.66 985.46l3 -3l3 3l-3 3zM1968.21 984.39l3 -3l3 3l-3 3zM1972.75 983.35l3 -3l3 3l-3 3zM1977.3 982.7l3 -3l3 3l-3 3z" fill="#FF2600"/>
<polyline fill="none" stroke="#FF7E79" stroke-width="1.2" points="1434.7,1036.9 1439.25,1036.76 1443.79,1036.65 1448.34,1036.55 1452.89,1036.47 1457.43,1036.39 1461.98,1036.31 1466.53,1036.22 1471.07,1036.12 1475.62,1036.02 1480.17,1035.87 1484.71,1035.72 1489.26,1035.51 1493.81,1035.26 1498.35,1034.98 1502.9,1034.6 1507.45,1034.26 1511.99,1033.81 1516.54,1033.3 1521.09,1032.84 1525.63,1032.44 1530.18,1031.85 1534.73,1031.27 1539.27,1030.61 1543.82,1029.96 1548.37,1029.34 1552.91,1028.6 1557.46,1027.88 1562.01,1027.01 1566.55,1026.31 1571.1,1025.69 1575.65,1024.49 1580.19,1023.84 1584.74,1022.69 1589.29,1021.92 1593.83,1020.47 1598.38,1019.44 1602.93,1018.53 1607.47,1017.48 1612.02,1016.05 1616.57,1015.24 1621.11,1014.2 1625.66,1012.59 1630.21,1011.44 1634.75,1010.01 1639.3,1008.74 1643.85,1006.86 1648.39,1005.78 1652.94,1004.82 1657.49,1002.55 1662.03,1000.98 1666.58,999.53 1671.13,997.63 1675.67,995.95 1680.22,995.16 1684.77,993.64 1689.31,991.72 1693.86,990.11 1698.41,988.5 1702.95,986.17 1707.5,984.22 1712.05,983.17 1716.59,980.54 1721.14,979.53 1725.69,977.03 1730.23,975.93 1734.78,974.36 1739.33,971.5 1743.87,969.44 1748.42,967.81 1752.97,965.9 1757.51,963.99 1762.06,962.14 1766.61,960.09 1771.15,958.75 1775.7,955.78 1780.25,954.81 1784.79,953.42 1789.34,951.25 1793.89,949.89 1798.43,946.56 1802.98,945.71 1807.53,943.94 1812.07,941.36 1816.62,939.36 1821.17,937.05 1825.71,935.75 1830.26,934.47 1834.81,932.62 1839.35,930.53 1843.9,928.38 1848.45,926.1 1852.99,924.19 1857.54,922.47 1862.09,920.31 1866.63,918.91 1871.18,916.93 1875.73,914.41 1880.27,912.21 1884.82,910.82 1889.37,909.19 1893.91,907.72 1898.46,905.48 1903.01,903.64 1907.55,902.27 1912.1,899.85 1916.65,899.24 1921.19,897.43 1925.74,896.17 1930.29,895.76 1934.83,894.68 1939.38,894.28 1943.93,892.59 1948.47,891.54 1953.02,891.13 1957.57,889.39 1962.11,887.93 1966.66,888.13 1971.21,886.1 1975.75,885.84 1980.3,884.13"/>
<path d="M1431.7 1036.9l3 -3l3 3l-3 3zM1436.25 1036.75l3 -3l3 3l-3 3zM1440.79 1036.61l3 -3l3 3l-3 3zM1445.34 1036.52l3 -3l3 3l-3 3zM1449.89 1036.43l3 -3l3 3l-3 3zM1454.43 1036.34l3 -3l3 3l-3 3zM1458.98 1036.26l3 -3l3 3l-3 3zM1463.53 1036.14l3 -3l3 3l-3 3zM1468.07 1036.04l3 -3l3 3l-3 3zM1472.62 1035.93l3 -3l3 3l-3 3zM1477.17 1035.75l3 -3l3 3l-3 3zM1481.71 1035.59l3 -3l3 3l-3 3zM1486.26 1035.35l3 -3l3 3l-3 3zM1490.81 1035.06l3 -3l3 3l-3 3zM1495.35 1034.76l3 -3l3 3l-3 3zM1499.9 1034.33l3 -3l3 3l-3 3zM1504.45 1033.95l3 -3l3 3l-3 3zM1508.99 1033.52l3 -3l3 3l-3 3zM1513.54 1032.94l3 -3l3 3l-3 3zM1518.09 1032.36l3 -3l3 3l-3 3zM1522.63 1031.94l3 -3l3 3l-3 3zM1527.18 1031.22l3 -3l3 3l-3 3zM1531.73 1030.64l3 -3l3 3l-3 3zM1536.27 1029.84l3 -3l3 3l-3 3zM1540.82 1029.12l3 -3l3 3l-3 3zM1545.37 1028.42l3 -3l3 3l-3 3zM1549.91 1027.58l3 -3l3 3l-3 3zM1554.46 1026.99l3 -3l3 3l-3 3zM1559.01 1026.02l3 -3l3 3l-3 3zM1563.55 1025.23l3 -3l3 3l-3 3zM1568.1 1024.44l3 -3l3 3l-3 3zM1572.65 1022.99l3 -3l3 3l-3 3zM1577.19 1022.45l3 -3l3 3l-3 3zM1581.74 1021.27l3 -3l3 3l-3 3zM1586.29 1020.21l3 -3l3 3l-3 3zM1590.83 1018.46l3 -3l3 3l-3 3zM1595.38 1017.6l3 -3l3 3l-3 3zM1599.93 1016.38l3 -3l3 3l-3 3zM1604.47 1015.7l3 -3l3 3l-3 3zM1609.02 1013.99l3 -3l3 3l-3 3zM1613.57 1012.92l3 -3l3 3l-3 3zM1618.11 1011.81l3 -3l3 3l-3 3zM1622.66 1010.18l3 -3l3 3l-3 3zM1627.21 1009.07l3 -3l3 3l-3 3zM1631.75 1007.74l3 -3l3 3l-3 3zM1636.3 1005.57l3 -3l3 3l-3 3zM1640.85 1003.85l3 -3l3 3l-3 3zM1645.39 1002.37l3 -3l3 3l-3 3zM1649.94 1002.19l3 -3l3 3l-3 3zM1654.49 999.15l3 -3l3 3l-3 3zM1659.03 997.39l3 -3l3 3l-3 3zM1663.58 996l3 -3l3 3l-3 3zM1668.13 994.24l3 -3l3 3l-3 3zM1672.67 992.62l3 -3l3 3l-3 3zM1677.22 992.33l3 -3l3 3l-3 3zM1681.77 991.06l3 -3l3 3l-3 3zM1686.31 988.64l3 -3l3 3l-3 3zM1690.86 985.95l3 -3l3 3l-3 3zM1695.41 984.39l3 -3l3 3l-3 3zM1699.95 982.4l3 -3l3 3l-3 3zM1704.5 980.82l3 -3l3 3l-3 3zM1709.05 979.39l3 -3l3 3l-3 3zM1713.59 977.05l3 -3l3 3l-3 3zM1718.14 976.75l3 -3l3 3l-3 3zM1722.69 973.34l3 -3l3 3l-3 3zM1727.23 972.67l3 -3l3 3l-3 3zM1731.78 971.06l3 -3l3 3l-3 3zM1736.33 967.36l3 -3l3 3l-3 3zM1740.87 965.74l3 -3l3 3l-3 3zM1745.42 963.43l3 -3l3 3l-3 3zM1749.97 961.67l3 -3l3 3l-3 3zM1754.51 960.63l3 -3l3 3l-3 3zM1759.06 958.09l3 -3l3 3l-3 3zM1763.61 956.04l3 -3l3 3l-3 3zM1768.15 955.07l3 -3l3 3l-3 3zM1772.7 952.19l3 -3l3 3l-3 3zM1777.25 950.51l3 -3l3 3l-3 3zM1781.79 949.96l3 -3l3 3l-3 3zM1786.34 947.46l3 -3l3 3l-3 3zM1790.89 946.53l3 -3l3 3l-3 3zM1795.43 942.69l3 -3l3 3l-3 3zM1799.98 942.09l3 -3l3 3l-3 3zM1804.53 941.06l3 -3l3 3l-3 3zM1809.07 938.61l3 -3l3 3l-3 3zM1813.62 935.62l3 -3l3 3l-3 3zM1818.17 933.82l3 -3l3 3l-3 3zM1822.71 932.43l3 -3l3 3l-3 3zM1827.26 931.74l3 -3l3 3l-3 3zM1831.81 929.56l3 -3l3 3l-3 3zM1836.35 927.03l3 -3l3 3l-3 3zM1840.9 925.42l3 -3l3 3l-3 3zM1845.45 922.84l3 -3l3 3l-3 3zM1849.99 921.78l3 -3l3 3l-3 3zM1854.54 920.04l3 -3l3 3l-3 3zM1859.09 917.94l3 -3l3 3l-3 3zM1863.63 916.9l3 -3l3 3l-3 3zM1868.18 914.5l3 -3l3 3l-3 3zM1872.73 911.99l3 -3l3 3l-3 3zM1877.27 909.51l3 -3l3 3l-3 3zM1881.82 908.55l3 -3l3 3l-3 3zM1886.37 907.48l3 -3l3 3l-3 3zM1890.91 905.68l3 -3l3 3l-3 3zM1895.46 902.92l3 -3l3 3l-3 3zM1900.01 900.94l3 -3l3 3l-3 3zM1904.55 899.64l3 -3l3 3l-3 3zM1909.1 897.96l3 -3l3 3l-3 3zM1913.65 898.19l3 -3l3 3l-3 3zM1918.19 895.08l3 -3l3 3l-3 3zM1922.74 893.81l3 -3l3 3l-3 3zM1927.29 893.23l3 -3l3 3l-3 3zM1931.83 892.77l3 -3l3 3l-3 3zM1936.38 892.43l3 -3l3 3l-3 3zM1940.93 890.05l3 -3l3 3l-3 3zM1945.47 889.96l3 -3l3 3l-3 3zM1950.02 889.65l3 -3l3 3l-3 3zM1954.57 887.09l3 -3l3 3l-3 3zM1959.11 886.21l3 -3l3 3l-3 3zM1963.66 886.8l3 -3l3 3l-3 3zM1968.21 884.43l3 -3l3 3l-3 3zM1972.75 883.89l3 -3l3 3l-3 3zM1977.3 882.01l3 -3l3 3l-3 3z" fill="#FF7E79"/>
<path d="M1431.7 1036.9l3 -3l3 3l-3 3zM1436.25 1036.78l3 -3l3 3l-3 3zM1440.79 1036.68l3 -3l3 3l-3 3zM1445.34 1036.59l3 -3l3 3l-3 3zM1449.89 1036.51l3 -3l3 3l-3 3zM1454.43 1036.44l3 -3l3 3l-3 3zM1458.98 1036.37l3 -3l3 3l-3 3zM1463.53 1036.3l3 -3l3 3l-3 3zM1468.07 1036.21l3 -3l3 3l-3 3zM1472.62 1036.11l3 -3l3 3l-3 3zM1477.17 1035.99l3 -3l3 3l-3 3zM1481.71 1035.85l3 -3l3 3l-3 3zM1486.26 1035.68l3 -3l3 3l-3 3zM1490.81 1035.46l3 -3l3 3l-3 3zM1495.35 1035.19l3 -3l3 3l-3 3zM1499.9 1034.87l3 -3l3 3l-3 3zM1504.45 1034.56l3 -3l3 3l-3 3zM1508.99 1034.1l3 -3l3 3l-3 3zM1513.54 1033.67l3 -3l3 3l-3 3zM1518.09 1033.33l3 -3l3 3l-3 3zM1522.63 1032.93l3 -3l3 3l-3 3zM1527.18 1032.47l3 -3l3 3l-3 3zM1531.73 1031.9l3 -3l3 3l-3 3zM1536.27 1031.38l3 -3l3 3l-3 3zM1540.82 1030.79l3 -3l3 3l-3 3zM1545.37 1030.26l3 -3l3 3l-3 3zM1549.91 1029.63l3 -3l3 3l-3 3zM1554.46 1028.78l3 -3l3 3l-3 3zM1559.01 1028.01l3 -3l3 3l-3 3zM1563.55 1027.4l3 -3l3 3l-3 3zM1568.1 1026.94l3 -3l3 3l-3 3zM1572.65 1025.99l3 -3l3 3l-3 3zM1577.19 1025.24l3 -3l3 3l-3 3zM1581.74 1024.12l3 -3l3 3l-3 3zM1586.29 1023.62l3 -3l3 3l-3 3zM1590.83 1022.47l3 -3l3 3l-3 3zM1595.38 1021.27l3 -3l3 3l-3 3zM1599.93 1020.69l3 -3l3 3l-3 3zM1604.47 1019.27l3 -3l3 3l-3 3zM1609.02 1018.1l3 -3l3 3l-3 3zM1613.57 1017.57l3 -3l3 3l-3 3zM1618.11 1016.59l3 -3l3 3l-3 3zM1622.66 1015.01l3 -3l3 3l-3 3zM1627.21 1013.82l3 -3l3 3l-3 3zM1631.75 1012.28l3 -3l3 3l-3 3zM1636.3 1011.92l3 -3l3 3l-3 3zM1640.85 1009.87l3 -3l3 3l-3 3zM1645.39 1009.19l3 -3l3 3l-3 3zM1649.94 1007.45l3 -3l3 3l-3 3zM1654.49 1005.95l3 -3l3 3l-3 3zM1659.03 1004.58l3 -3l3 3l-3 3zM1663.58 1003.06l3 -3l3 3l-3 3zM1668.13 1001.02l3 -3l3 3l-3 3zM1672.67 999.27l3 -3l3 3l-3 3zM1677.22 998l3 -3l3 3l-3 3zM1681.77 996.22l3 -3l3 3l-3 3zM1686.31 994.8l3 -3l3 3l-3 3zM1690.86 994.26l3 -3l3 3l-3 3zM1695.41 992.6l3 -3l3 3l-3 3zM1699.95 989.94l3 -3l3 3l-3 3zM1704.5 987.62l3 -3l3 3l-3 3zM1709.05 986.96l3 -3l3 3l-3 3zM1713.59 984.02l3 -3l3 3l-3 3zM1718.14 982.31l3 -3l3 3l-3 3zM1722.69 980.71l3 -3l3 3l-3 3zM1727.23 979.19l3 -3l3 3l-3 3zM1731.78 977.67l3 -3l3 3l-3 3zM1736.33 975.64l3 -3l3 3l-3 3zM1740.87 973.13l3 -3l3 3l-3 3zM1745.42 972.2l3 -3l3 3l-3 3zM1749.97 970.13l3 -3l3 3l-3 3zM1754.51 967.35l3 -3l3 3l-3 3zM1759.06 966.19l3 -3l3 3l-3 3zM1763.61 964.15l3 -3l3 3l-3 3zM1768.15 962.43l3 -3l3 3l-3 3zM1772.7 959.37l3 -3l3 3l-3 3zM1777.25 959.1l3 -3l3 3l-3 3zM1781.79 956.88l3 -3l3 3l-3 3zM1786.34 955.04l3 -3l3 3l-3 3zM1790.89 953.26l3 -3l3 3l-3 3zM1795.43 950.43l3 -3l3 3l-3 3zM1799.98 949.32l3 -3l3 3l-3 3zM1804.53 946.82l3 -3l3 3l-3 3zM1809.07 944.11l3 -3l3 3l-3 3zM1813.62 943.1l3 -3l3 3l-3 3zM1818.17 940.28l3 -3l3 3l-3 3zM1822.71 939.07l3 -3l3 3l-3 3zM1827.26 937.2l3 -3l3 3l-3 3zM1831.81 935.67l3 -3l3 3l-3 3zM1836.35 934.03l3 -3l3 3l-3 3zM1840.9 931.34l3 -3l3 3l-3 3zM1845.45 929.35l3 -3l3 3l-3 3zM1849.99 926.6l3 -3l3 3l-3 3zM1854.54 924.91l3 -3l3 3l-3 3zM1859.09 922.68l3 -3l3 3l-3 3zM1863.63 920.93l3 -3l3 3l-3 3zM1868.18 919.36l3 -3l3 3l-3 3zM1872.73 916.84l3 -3l3 3l-3 3zM1877.27 914.91l3 -3l3 3l-3 3zM1881.82 913.08l3 -3l3 3l-3 3zM1886.37 910.9l3 -3l3 3l-3 3zM1890.91 909.76l3 -3l3 3l-3 3zM1895.46 908.03l3 -3l3 3l-3 3zM1900.01 906.34l3 -3l3 3l-3 3zM1904.55 904.91l3 -3l3 3l-3 3zM1909.1 901.74l3 -3l3 3l-3 3zM1913.65 900.3l3 -3l3 3l-3 3zM1918.19 899.77l3 -3l3 3l-3 3zM1922.74 898.52l3 -3l3 3l-3 3zM1927.29 898.28l3 -3l3 3l-3 3zM1931.83 896.59l3 -3l3 3l-3 3zM1936.38 896.14l3 -3l3 3l-3 3zM1940.93 895.14l3 -3l3 3l-3 3zM1945.47 893.13l3 -3l3 3l-3 3zM1950.02 892.62l3 -3l3 3l-3 3zM1954.57 891.7l3 -3l3 3l-3 3zM1959.11 889.64l3 -3l3 3l-3 3zM1963.66 889.45l3 -3l3 3l-3 3zM1968.21 887.77l3 -3l3 3l-3 3zM1972.75 887.8l3 -3l3 3l-3 3zM1977.3 886.26l3 -3l3 3l-3 3z" fill="#FF7E79"/>
<polyline fill="none" stroke="#FF2F92" stroke-width="1.2" points="1434.7,1036.9 1439.25,1036.73 1443.79,1036.59 1448.34,1036.47 1452.89,1036.37 1457.43,1036.28 1461.98,1036.18 1466.53,1036.09 1471.07,1035.96 1475.62,1035.84 1480.17,1035.63 1484.71,1035.41 1489.26,1035.17 1493.81,1034.9 1498.35,1034.54 1502.9,1034.13 1507.45,1033.67 1511.99,1033.14 1516.54,1032.57 1521.09,1032.01 1525.63,1031.4 1530.18,1030.8 1534.73,1030.07 1539.27,1029.38 1543.82,1028.7 1548.37,1027.91 1552.91,1026.72 1557.46,1026.03 1562.01,1025.14 1566.55,1024.07 1571.1,1022.65 1575.65,1021.57 1580.19,1020.29 1584.74,1019.37 1589.29,1018.03 1593.83,1016.16 1598.38,1015.22 1602.93,1013.21 1607.47,1012.24 1612.02,1010.95 1616.57,1009.07 1621.11,1007.52 1625.66,1006.14 1630.21,1003.87 1634.75,1001.91 1639.3,1000.54 1643.85,998.46 1648.39,996.56 1652.94,995.92 1657.49,993.65 1662.03,991.48 1666.58,989.26 1671.13,987.95 1675.67,986.28 1680.22,983.92 1684.77,981.56 1689.31,978.64 1693.86,977.99 1698.41,975.1 1702.95,972.43 1707.5,970.19 1712.05,967.85 1716.59,965.51 1721.14,962.35 1725.69,959.93 1730.23,956.14 1734.78,953.28 1739.33,951 1743.87,946.97 1748.42,944.28 1752.97,940.87 1757.51,938.02 1762.06,935.32 1766.61,931.43 1771.15,928.33 1775.7,925.62 1780.25,922.63 1784.79,919.2 1789.34,915.74 1793.89,912.06 1798.43,909.73 1802.98,906.85 1807.53,903.58 1812.07,899.16 1816.62,895.92 1821.17,893.57 1825.71,889.62 1830.26,886.98 1834.81,882.9 1839.35,879.56 1843.9,876.31 1848.45,871.63 1852.99,869.48 1857.54,865.04 1862.09,860.9 1866.63,857.58 1871.18,853.82 1875.73,850.36 1880.27,847.18 1884.82,843.27 1889.37,839.62 1893.91,835.2 1898.46,832.06 1903.01,828.38 1907.55,824.37 1912.1,820.67 1916.65,816.38 1921.19,813.18 1925.74,808.31 1930.29,805.64 1934.83,801.5 1939.38,798.32 1943.93,794.14 1948.47,791.18 1953.02,786.32 1957.57,783.1 1962.11,778.79 1966.66,775.27 1971.21,770.59 1975.75,767.17 1980.3,763.98"/>
<path d="M1431.7 1036.9l3 -3l3 3l-3 3zM1436.25 1036.72l3 -3l3 3l-3 3zM1440.79 1036.57l3 -3l3 3l-3 3zM1445.34 1036.43l3 -3l3 3l-3 3zM1449.89 1036.31l3 -3l3 3l-3 3zM1454.43 1036.22l3 -3l3 3l-3 3zM1458.98 1036.11l3 -3l3 3l-3 3zM1463.53 1036.01l3 -3l3 3l-3 3zM1468.07 1035.88l3 -3l3 3l-3 3zM1472.62 1035.75l3 -3l3 3l-3 3zM1477.17 1035.51l3 -3l3 3l-3 3zM1481.71 1035.28l3 -3l3 3l-3 3zM1486.26 1035l3 -3l3 3l-3 3zM1490.81 1034.69l3 -3l3 3l-3 3zM1495.35 1034.37l3 -3l3 3l-3 3zM1499.9 1033.88l3 -3l3 3l-3 3zM1504.45 1033.37l3 -3l3 3l-3 3zM1508.99 1032.77l3 -3l3 3l-3 3zM1513.54 1032.1l3 -3l3 3l-3 3zM1518.09 1031.52l3 -3l3 3l-3 3zM1522.63 1030.78l3 -3l3 3l-3 3zM1527.18 1030.21l3 -3l3 3l-3 3zM1531.73 1029.25l3 -3l3 3l-3 3zM1536.27 1028.5l3 -3l3 3l-3 3zM1540.82 1027.84l3 -3l3 3l-3 3zM1545.37 1027.06l3 -3l3 3l-3 3zM1549.91 1025.64l3 -3l3 3l-3 3zM1554.46 1024.99l3 -3l3 3l-3 3zM1559.01 1024l3 -3l3 3l-3 3zM1563.55 1023l3 -3l3 3l-3 3zM1568.1 1021.41l3 -3l3 3l-3 3zM1572.65 1020.38l3 -3l3 3l-3 3zM1577.19 1018.83l3 -3l3 3l-3 3zM1581.74 1017.8l3 -3l3 3l-3 3zM1586.29 1016.96l3 -3l3 3l-3 3zM1590.83 1014.62l3 -3l3 3l-3 3zM1595.38 1014.19l3 -3l3 3l-3 3zM1599.93 1011.61l3 -3l3 3l-3 3zM1604.47 1010.71l3 -3l3 3l-3 3zM1609.02 1009.38l3 -3l3 3l-3 3zM1613.57 1007.51l3 -3l3 3l-3 3zM1618.11 1006.41l3 -3l3 3l-3 3zM1622.66 1004.22l3 -3l3 3l-3 3zM1627.21 1001.78l3 -3l3 3l-3 3zM1631.75 1000.01l3 -3l3 3l-3 3zM1636.3 999.05l3 -3l3 3l-3 3zM1640.85 996.51l3 -3l3 3l-3 3zM1645.39 994.21l3 -3l3 3l-3 3zM1649.94 993.71l3 -3l3 3l-3 3zM1654.49 991.38l3 -3l3 3l-3 3zM1659.03 989.75l3 -3l3 3l-3 3zM1663.58 986.65l3 -3l3 3l-3 3zM1668.13 985.49l3 -3l3 3l-3 3zM1672.67 983.96l3 -3l3 3l-3 3zM1677.22 980.58l3 -3l3 3l-3 3zM1681.77 978.83l3 -3l3 3l-3 3zM1686.31 975.67l3 -3l3 3l-3 3zM1690.86 975.05l3 -3l3 3l-3 3zM1695.41 971.2l3 -3l3 3l-3 3zM1699.95 969.72l3 -3l3 3l-3 3zM1704.5 967.02l3 -3l3 3l-3 3zM1709.05 965.12l3 -3l3 3l-3 3zM1713.59 962.22l3 -3l3 3l-3 3zM1718.14 959.28l3 -3l3 3l-3 3zM1722.69 956.35l3 -3l3 3l-3 3zM1727.23 953.22l3 -3l3 3l-3 3zM1731.78 949.96l3 -3l3 3l-3 3zM1736.33 947.96l3 -3l3 3l-3 3zM1740.87 943.2l3 -3l3 3l-3 3zM1745.42 941.58l3 -3l3 3l-3 3zM1749.97 937.2l3 -3l3 3l-3 3zM1754.51 935.7l3 -3l3 3l-3 3zM1759.06 931.82l3 -3l3 3l-3 3zM1763.61 928.09l3 -3l3 3l-3 3zM1768.15 925.55l3 -3l3 3l-3 3zM1772.7 921.57l3 -3l3 3l-3 3zM1777.25 919.12l3 -3l3 3l-3 3zM1781.79 915.32l3 -3l3 3l-3 3zM1786.34 911.96l3 -3l3 3l-3 3zM1790.89 909.02l3 -3l3 3l-3 3zM1795.43 906.83l3 -3l3 3l-3 3zM1799.98 903.51l3 -3l3 3l-3 3zM1804.53 900.35l3 -3l3 3l-3 3zM1809.07 895.47l3 -3l3 3l-3 3zM1813.62 892.92l3 -3l3 3l-3 3zM1818.17 889.95l3 -3l3 3l-3 3zM1822.71 887.35l3 -3l3 3l-3 3zM1827.26 883.97l3 -3l3 3l-3 3zM1831.81 879.65l3 -3l3 3l-3 3zM1836.35 876.11l3 -3l3 3l-3 3zM1840.9 872.9l3 -3l3 3l-3 3zM1845.45 868.68l3 -3l3 3l-3 3zM1849.99 866.38l3 -3l3 3l-3 3zM1854.54 862.18l3 -3l3 3l-3 3zM1859.09 858.13l3 -3l3 3l-3 3zM1863.63 854.71l3 -3l3 3l-3 3zM1868.18 851.21l3 -3l3 3l-3 3zM1872.73 848.36l3 -3l3 3l-3 3zM1877.27 843.98l3 -3l3 3l-3 3zM1881.82 840.32l3 -3l3 3l-3 3zM1886.37 836.59l3 -3l3 3l-3 3zM1890.91 832.36l3 -3l3 3l-3 3zM1895.46 828.94l3 -3l3 3l-3 3zM1900.01 825.98l3 -3l3 3l-3 3zM1904.55 821.51l3 -3l3 3l-3 3zM1909.1 817.32l3 -3l3 3l-3 3zM1913.65 814.45l3 -3l3 3l-3 3zM1918.19 811.42l3 -3l3 3l-3 3zM1922.74 805.69l3 -3l3 3l-3 3zM1927.29 802.69l3 -3l3 3l-3 3zM1931.83 798.29l3 -3l3 3l-3 3zM1936.38 795.65l3 -3l3 3l-3 3zM1940.93 790.87l3 -3l3 3l-3 3zM1945.47 788.49l3 -3l3 3l-3 3zM1950.02 782.92l3 -3l3 3l-3 3zM1954.57 779.9l3 -3l3 3l-3 3zM1959.11 775.57l3 -3l3 3l-3 3zM1963.66 772.71l3 -3l3 3l-3 3zM1968.21 767.38l3 -3l3 3l-3 3zM1972.75 763.84l3 -3l3 3l-3 3zM1977.3 761.29l3 -3l3 3l-3 3z" fill="#FF2F92"/>
<path d="M1431.7 1036.9l3 -3l3 3l-3 3zM1436.25 1036.75l3 -3l3 3l-3 3zM1440.79 1036.61l3 -3l3 3l-3 3zM1445.34 1036.52l3 -3l3 3l-3 3zM1449.89 1036.42l3 -3l3 3l-3 3zM1454.43 1036.33l3 -3l3 3l-3 3zM1458.98 1036.25l3 -3l3 3l-3 3zM1463.53 1036.16l3 -3l3 3l-3 3zM1468.07 1036.03l3 -3l3 3l-3 3zM1472.62 1035.94l3 -3l3 3l-3 3zM1477.17 1035.76l3 -3l3 3l-3 3zM1481.71 1035.55l3 -3l3 3l-3 3zM1486.26 1035.34l3 -3l3 3l-3 3zM1490.81 1035.11l3 -3l3 3l-3 3zM1495.35 1034.71l3 -3l3 3l-3 3zM1499.9 1034.37l3 -3l3 3l-3 3zM1504.45 1033.96l3 -3l3 3l-3 3zM1508.99 1033.52l3 -3l3 3l-3 3zM1513.54 1033.03l3 -3l3 3l-3 3zM1518.09 1032.49l3 -3l3 3l-3 3zM1522.63 1032.03l3 -3l3 3l-3 3zM1527.18 1031.4l3 -3l3 3l-3 3zM1531.73 1030.9l3 -3l3 3l-3 3zM1536.27 1030.26l3 -3l3 3l-3 3zM1540.82 1029.56l3 -3l3 3l-3 3zM1545.37 1028.77l3 -3l3 3l-3 3zM1549.91 1027.81l3 -3l3 3l-3 3zM1554.46 1027.07l3 -3l3 3l-3 3zM1559.01 1026.28l3 -3l3 3l-3 3zM1563.55 1025.15l3 -3l3 3l-3 3zM1568.1 1023.89l3 -3l3 3l-3 3zM1572.65 1022.76l3 -3l3 3l-3 3zM1577.19 1021.76l3 -3l3 3l-3 3zM1581.74 1020.95l3 -3l3 3l-3 3zM1586.29 1019.11l3 -3l3 3l-3 3zM1590.83 1017.69l3 -3l3 3l-3 3zM1595.38 1016.25l3 -3l3 3l-3 3zM1599.93 1014.82l3 -3l3 3l-3 3zM1604.47 1013.76l3 -3l3 3l-3 3zM1609.02 1012.52l3 -3l3 3l-3 3zM1613.57 1010.64l3 -3l3 3l-3 3zM1618.11 1008.63l3 -3l3 3l-3 3zM1622.66 1008.07l3 -3l3 3l-3 3zM1627.21 1005.96l3 -3l3 3l-3 3zM1631.75 1003.81l3 -3l3 3l-3 3zM1636.3 1002.03l3 -3l3 3l-3 3zM1640.85 1000.41l3 -3l3 3l-3 3zM1645.39 998.91l3 -3l3 3l-3 3zM1649.94 998.14l3 -3l3 3l-3 3zM1654.49 995.92l3 -3l3 3l-3 3zM1659.03 993.21l3 -3l3 3l-3 3zM1663.58 991.86l3 -3l3 3l-3 3zM1668.13 990.41l3 -3l3 3l-3 3zM1672.67 988.59l3 -3l3 3l-3 3zM1677.22 987.26l3 -3l3 3l-3 3zM1681.77 984.29l3 -3l3 3l-3 3zM1686.31 981.62l3 -3l3 3l-3 3zM1690.86 980.93l3 -3l3 3l-3 3zM1695.41 978.99l3 -3l3 3l-3 3zM1699.95 975.15l3 -3l3 3l-3 3zM1704.5 973.36l3 -3l3 3l-3 3zM1709.05 970.59l3 -3l3 3l-3 3zM1713.59 968.8l3 -3l3 3l-3 3zM1718.14 965.42l3 -3l3 3l-3 3zM1722.69 963.51l3 -3l3 3l-3 3zM1727.23 959.05l3 -3l3 3l-3 3zM1731.78 956.6l3 -3l3 3l-3 3zM1736.33 954.04l3 -3l3 3l-3 3zM1740.87 950.74l3 -3l3 3l-3 3zM1745.42 946.98l3 -3l3 3l-3 3zM1749.97 944.55l3 -3l3 3l-3 3zM1754.51 940.33l3 -3l3 3l-3 3zM1759.06 938.83l3 -3l3 3l-3 3zM1763.61 934.76l3 -3l3 3l-3 3zM1768.15 931.12l3 -3l3 3l-3 3zM1772.7 929.68l3 -3l3 3l-3 3zM1777.25 926.13l3 -3l3 3l-3 3zM1781.79 923.07l3 -3l3 3l-3 3zM1786.34 919.51l3 -3l3 3l-3 3zM1790.89 915.11l3 -3l3 3l-3 3zM1795.43 912.64l3 -3l3 3l-3 3zM1799.98 910.19l3 -3l3 3l-3 3zM1804.53 906.81l3 -3l3 3l-3 3zM1809.07 902.85l3 -3l3 3l-3 3zM1813.62 898.91l3 -3l3 3l-3 3zM1818.17 897.2l3 -3l3 3l-3 3zM1822.71 891.89l3 -3l3 3l-3 3zM1827.26 889.99l3 -3l3 3l-3 3zM1831.81 886.15l3 -3l3 3l-3 3zM1836.35 883l3 -3l3 3l-3 3zM1840.9 879.71l3 -3l3 3l-3 3zM1845.45 874.59l3 -3l3 3l-3 3zM1849.99 872.58l3 -3l3 3l-3 3zM1854.54 867.9l3 -3l3 3l-3 3zM1859.09 863.68l3 -3l3 3l-3 3zM1863.63 860.45l3 -3l3 3l-3 3zM1868.18 856.43l3 -3l3 3l-3 3zM1872.73 852.37l3 -3l3 3l-3 3zM1877.27 850.37l3 -3l3 3l-3 3zM1881.82 846.22l3 -3l3 3l-3 3zM1886.37 842.65l3 -3l3 3l-3 3zM1890.91 838.04l3 -3l3 3l-3 3zM1895.46 835.18l3 -3l3 3l-3 3zM1900.01 830.78l3 -3l3 3l-3 3zM1904.55 827.23l3 -3l3 3l-3 3zM1909.1 824.03l3 -3l3 3l-3 3zM1913.65 818.31l3 -3l3 3l-3 3zM1918.19 814.93l3 -3l3 3l-3 3zM1922.74 810.92l3 -3l3 3l-3 3zM1927.29 808.6l3 -3l3 3l-3 3zM1931.83 804.71l3 -3l3 3l-3 3zM1936.38 801l3 -3l3 3l-3 3zM1940.93 797.41l3 -3l3 3l-3 3zM1945.47 793.88l3 -3l3 3l-3 3zM1950.02 789.73l3 -3l3 3l-3 3zM1954.57 786.3l3 -3l3 3l-3 3zM1959.11 782.01l3 -3l3 3l-3 3zM1963.66 777.82l3 -3l3 3l-3 3zM1968.21 773.8l3 -3l3 3l-3 3zM1972.75 770.5l3 -3l3 3l-3 3zM1977.3 766.66l3 -3l3 3l-3 3z" fill="#FF2F92"/>
<polyline fill="none" stroke="#000000" stroke-width="1.2" points="1434.7,1036.9 1439.25,1036.73 1443.79,1036.59 1448.34,1036.48 1452.89,1036.38 1457.43,1036.28 1461.98,1036.19 1466.53,1036.09 1471.07,1035.96 1475.62,1035.81 1480.17,1035.66 1484.71,1035.47 1489.26,1035.21 1493.81,1034.9 1498.35,1034.51 1502.9,1034.08 1507.45,1033.63 1511.99,1033.15 1516.54,1032.47 1521.09,1031.94 1525.63,1031.36 1530.18,1030.52 1534.73,1029.97 1539.27,1029.24 1543.82,1028.45 1548.37,1027.65 1552.91,1026.82 1557.46,1025.73 1562.01,1024.77 1566.55,1024.01 1571.1,1023.16 1575.65,1021.84 1580.19,1020.83 1584.74,1019.51 1589.29,1018.39 1593.83,1017.3 1598.38,1016.53 1602.93,1015.04 1607.47,1013.95 1612.02,1012.39 1616.57,1011.24 1621.11,1009.8 1625.66,1007.58 1630.21,1006.69 1634.75,1004.65 1639.3,1002.62 1643.85,1001.82 1648.39,999.71 1652.94,998.14 1657.49,996.59 1662.03,994.82 1666.58,991.62 1671.13,990.53 1675.67,988.04 1680.22,986.62 1684.77,984 1689.31,980.75 1693.86,979.87 1698.41,976.78 1702.95,974.71 1707.5,971.67 1712.05,968.69 1716.59,966.54 1721.14,963.52 1725.69,960.79 1730.23,957.45 1734.78,954.87 1739.33,952.64 1743.87,949.42 1748.42,945.64 1752.97,943.13 1757.51,939.23 1762.06,936.63 1766.61,933.27 1771.15,928.61 1775.7,926.9 1780.25,923.24 1784.79,919.28 1789.34,916.38 1793.89,913.57 1798.43,910.01 1802.98,906.89 1807.53,902.81 1812.07,899.18 1816.62,895.74 1821.17,892.09 1825.71,888.14 1830.26,884.88 1834.81,882.14 1839.35,879.52 1843.9,875.82 1848.45,872.24 1852.99,870.08 1857.54,866.59 1862.09,863.39 1866.63,860.16 1871.18,857.41 1875.73,854.84 1880.27,851.8 1884.82,848.08 1889.37,844.79 1893.91,841.78 1898.46,839.09 1903.01,836.13 1907.55,832.89 1912.1,830 1916.65,827.14 1921.19,823.71 1925.74,820.97 1930.29,817.4 1934.83,813.97 1939.38,810.59 1943.93,808.23 1948.47,804.57 1953.02,800.84 1957.57,798.59 1962.11,795.65 1966.66,792.49 1971.21,788.96 1975.75,784.94 1980.3,782.55"/>
<path d="M1434.7 1036.9h0M1439.25 1036.67h0M1443.79 1036.48h0M1448.34 1036.33h0M1452.89 1036.19h0M1457.43 1036.06h0M1461.98 1035.93h0M1466.53 1035.79h0M1471.07 1035.61h0M1475.62 1035.4h0M1480.17 1035.21h0M1484.71 1034.96h0M1489.26 1034.59h0M1493.81 1034.18h0M1498.35 1033.66h0M1502.9 1033.01h0M1507.45 1032.44h0M1511.99 1031.77h0M1516.54 1030.83h0M1521.09 1030.11h0M1525.63 1029.21h0M1530.18 1028.04h0M1534.73 1027.31h0M1539.27 1026.22h0M1543.82 1025.14h0M1548.37 1024.25h0M1552.91 1023.08h0M1557.46 1021.42h0M1562.01 1020.3h0M1566.55 1019.3h0M1571.1 1018.16h0M1575.65 1016.34h0M1580.19 1015.3h0M1584.74 1013.41h0M1589.29 1011.8h0M1593.83 1010.53h0M1598.38 1009.86h0M1602.93 1007.87h0M1607.47 1006.54h0M1612.02 1004.32h0M1616.57 1003.48h0M1621.11 1001.38h0M1625.66 998.56h0M1630.21 997.41h0M1634.75 995.29h0M1639.3 993.09h0M1643.85 991.85h0M1648.39 989.79h0M1652.94 987.95h0M1657.49 986.27h0M1662.03 984.3h0M1666.58 980.85h0M1671.13 979.43h0M1675.67 976.33h0M1680.22 975.3h0M1684.77 971.86h0M1689.31 969.37h0M1693.86 968.08h0M1698.41 964.61h0M1702.95 963.22h0M1707.5 959.48h0M1712.05 956.56h0M1716.59 954.86h0M1721.14 951.27h0M1725.69 949.18h0M1730.23 944.87h0M1734.78 942.81h0M1739.33 940.76h0M1743.87 937.74h0M1748.42 933.16h0M1752.97 931.27h0M1757.51 928.08h0M1762.06 924.92h0M1766.61 921.62h0M1771.15 917.07h0M1775.7 915.66h0M1780.25 912.5h0M1784.79 908.53h0M1789.34 904.32h0M1793.89 902.59h0M1798.43 899.22h0M1802.98 895.86h0M1807.53 891.1h0M1812.07 889.33h0M1816.62 885.84h0M1821.17 881.62h0M1825.71 878.01h0M1830.26 874.48h0M1834.81 871.78h0M1839.35 869.41h0M1843.9 866.5h0M1848.45 863.23h0M1852.99 861.07h0M1857.54 858.21h0M1862.09 854.81h0M1866.63 853.22h0M1871.18 850.8h0M1875.73 848.57h0M1880.27 845.66h0M1884.82 843.14h0M1889.37 839.08h0M1893.91 836.55h0M1898.46 834.48h0M1903.01 832.47h0M1907.55 829.11h0M1912.1 826.33h0M1916.65 823.9h0M1921.19 821.17h0M1925.74 818.7h0M1930.29 814.9h0M1934.83 812.61h0M1939.38 808.77h0M1943.93 806.98h0M1948.47 802.73h0M1953.02 799.95h0M1957.57 797.36h0M1962.11 795.23h0M1966.66 791.96h0M1971.21 788.18h0M1975.75 784.61h0M1980.3 781.97h0" stroke="#000000" stroke-width="6" stroke-linecap="round" fill="none"/>
<path d="M1434.7 1036.9h0M1439.25 1036.79h0M1443.79 1036.71h0M1448.34 1036.62h0M1452.89 1036.56h0M1457.43 1036.51h0M1461.98 1036.44h0M1466.53 1036.39h0M1471.07 1036.31h0M1475.62 1036.22h0M1480.17 1036.1h0M1484.71 1035.97h0M1489.26 1035.82h0M1493.81 1035.62h0M1498.35 1035.36h0M1502.9 1035.15h0M1507.45 1034.81h0M1511.99 1034.54h0M1516.54 1034.12h0M1521.09 1033.78h0M1525.63 1033.51h0M1530.18 1033.01h0M1534.73 1032.63h0M1539.27 1032.26h0M1543.82 1031.76h0M1548.37 1031.04h0M1552.91 1030.57h0M1557.46 1030.04h0M1562.01 1029.25h0M1566.55 1028.71h0M1571.1 1028.16h0M1575.65 1027.34h0M1580.19 1026.36h0M1584.74 1025.62h0M1589.29 1024.99h0M1593.83 1024.07h0M1598.38 1023.19h0M1602.93 1022.2h0M1607.47 1021.36h0M1612.02 1020.45h0M1616.57 1019.01h0M1621.11 1018.21h0M1625.66 1016.6h0M1630.21 1015.97h0M1634.75 1014.01h0M1639.3 1012.15h0M1643.85 1011.79h0M1648.39 1009.63h0M1652.94 1008.33h0M1657.49 1006.92h0M1662.03 1005.34h0M1666.58 1002.39h0M1671.13 1001.63h0M1675.67 999.75h0M1680.22 997.94h0M1684.77 996.13h0M1689.31 992.13h0M1693.86 991.66h0M1698.41 988.95h0M1702.95 986.2h0M1707.5 983.87h0M1712.05 980.82h0M1716.59 978.22h0M1721.14 975.77h0M1725.69 972.41h0M1730.23 970.03h0M1734.78 966.93h0M1739.33 964.53h0M1743.87 961.11h0M1748.42 958.11h0M1752.97 954.99h0M1757.51 950.38h0M1762.06 948.34h0M1766.61 944.93h0M1771.15 940.15h0M1775.7 938.14h0M1780.25 933.97h0M1784.79 930.02h0M1789.34 928.43h0M1793.89 924.56h0M1798.43 920.8h0M1802.98 917.92h0M1807.53 914.53h0M1812.07 909.02h0M1816.62 905.64h0M1821.17 902.57h0M1825.71 898.28h0M1830.26 895.27h0M1834.81 892.5h0M1839.35 889.63h0M1843.9 885.15h0M1848.45 881.25h0M1852.99 879.08h0M1857.54 874.97h0M1862.09 871.97h0M1866.63 867.11h0M1871.18 864.01h0M1875.73 861.1h0M1880.27 857.94h0M1884.82 853.03h0M1889.37 850.5h0M1893.91 847.02h0M1898.46 843.71h0M1903.01 839.79h0M1907.55 836.66h0M1912.1 833.66h0M1916.65 830.38h0M1921.19 826.24h0M1925.74 823.24h0M1930.29 819.9h0M1934.83 815.33h0M1939.38 812.42h0M1943.93 809.49h0M1948.47 806.42h0M1953.02 801.73h0M1957.57 799.82h0M1962.11 796.07h0M1966.66 793.01h0M1971.21 789.74h0M1975.75 785.28h0M1980.3 783.13h0" stroke="#000000" stroke-width="6" stroke-linecap="round" fill="none"/>
<line x1="1435.7" y1="720" x2="1435.7" y2="1049.4" stroke="#000" stroke-width="3.6"/>
<line x1="1424.2" y1="1036.9" x2="1982.1" y2="1036.9" stroke="#000" stroke-width="3.6"/>
<text x="1419.2" y="1044.9" font-size="23.5" text-anchor="end">0.0</text>
<line x1="1424.2" y1="909.6" x2="1435.7" y2="909.6" stroke="#000" stroke-width="3.6"/>
<text x="1419.2" y="917.6" font-size="23.5" text-anchor="end">0.5</text>
<line x1="1424.2" y1="782.3" x2="1435.7" y2="782.3" stroke="#000" stroke-width="3.6"/>
<text x="1419.2" y="790.3" font-size="23.5" text-anchor="end">1.0</text>
<text x="1435.7" y="1073.9" font-size="23" text-anchor="middle">0</text>
<line x1="1571.1" y1="1036.9" x2="1571.1" y2="1049.4" stroke="#000" stroke-width="3.6"/>
<text x="1571.1" y="1073.9" font-size="23" text-anchor="middle">60</text>
<line x1="1707.5" y1="1036.9" x2="1707.5" y2="1049.4" stroke="#000" stroke-width="3.6"/>
<text x="1707.5" y="1073.9" font-size="23" text-anchor="middle">120</text>
<line x1="1843.9" y1="1036.9" x2="1843.9" y2="1049.4" stroke="#000" stroke-width="3.6"/>
<text x="1843.9" y="1073.9" font-size="23" text-anchor="middle">180</text>
<line x1="1980.3" y1="1036.9" x2="1980.3" y2="1049.4" stroke="#000" stroke-width="3.6"/>
<text x="1980.3" y="1073.9" font-size="23" text-anchor="middle">240</text>
<text x="1350" y="670" font-size="45" font-weight="bold">e</text>
<text x="1681.8" y="680" font-size="26.7" text-anchor="middle">Cell-cell fusion</text>
<text transform="translate(1373 898) rotate(-90)" font-size="24" text-anchor="middle">Luminescence, normalized</text>
<text x="1704.8" y="1107" font-size="21.7" text-anchor="middle">Time, min</text>
<line x1="1463" y1="734.6" x2="1488.5" y2="734.6" stroke="#000000" stroke-width="1.4"/>
<circle cx="1475.75" cy="734.6" r="3" fill="#000000"/>
<text x="1502.8" y="743.9" font-size="26.5">WT</text>
<line x1="1463" y1="775" x2="1488.5" y2="775" stroke="#FF2600" stroke-width="1.4"/>
<path d="M1472.75 775l3 -3l3 3l-3 3z" fill="#FF2600"/>
<text x="1502.8" y="784.3" font-size="26.5">T690A</text>
<line x1="1463" y1="816" x2="1488.5" y2="816" stroke="#FF2F92" stroke-width="1.4"/>
<path d="M1472.75 816l3 -3l3 3l-3 3z" fill="#FF2F92"/>
<text x="1502.8" y="825.3" font-size="26.5">T703A</text>
<line x1="1463" y1="856" x2="1488.5" y2="856" stroke="#FF7E79" stroke-width="1.4"/>
<path d="M1472.75 856l3 -3l3 3l-3 3z" fill="#FF7E79"/>
<text x="1502.8" y="865.3" font-size="26.5">T690A T703A</text>
</g>
</svg>
</body>
</html>
